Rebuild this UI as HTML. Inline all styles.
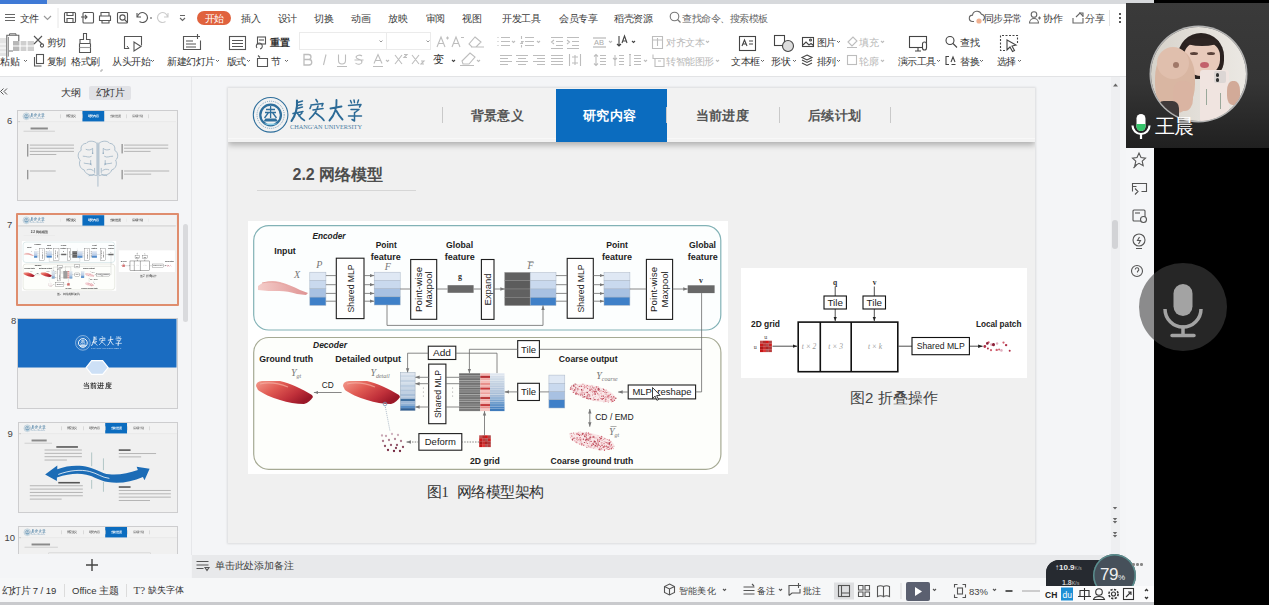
<!DOCTYPE html>
<html><head><meta charset="utf-8">
<style>
*{margin:0;padding:0;box-sizing:border-box}
html,body{width:1269px;height:605px;overflow:hidden;background:#f2f3f5;font-family:"Liberation Sans",sans-serif;color:#333}
.a{position:absolute}
.t{position:absolute;white-space:nowrap;line-height:1}
i{font-style:normal;display:inline-block;width:1em;text-align:center}
svg{position:absolute;overflow:visible}
.tofu i{-webkit-text-fill-color:transparent;background:linear-gradient(currentColor,currentColor) 50% 10%/76% .085em no-repeat,linear-gradient(currentColor,currentColor) 50% 52%/76% .085em no-repeat,linear-gradient(currentColor,currentColor) 50% 92%/76% .085em no-repeat,linear-gradient(currentColor,currentColor) 13% 55%/.085em 80% no-repeat,linear-gradient(currentColor,currentColor) 50% 55%/.085em 80% no-repeat,linear-gradient(currentColor,currentColor) 87% 55%/.085em 80% no-repeat;opacity:.78}
.tofu .bd i{background-size:76% .13em,76% .13em,76% .13em,.13em 80%,.13em 80%,.13em 80%;opacity:.95}

.m{font-size:9.5px;color:#3c3c3c;top:14px}
.r{font-size:9.5px;color:#333;top:57px}
.g{color:#b8b8b8}
.ic{fill:none;stroke:#555;stroke-width:1.1}
</style></head><body>
<script>(function(){var s=document.createElement('span');s.style.cssText='position:absolute;visibility:hidden;white-space:nowrap;font:100px "Liberation Sans",sans-serif';s.textContent='\u56fd\u56fd';document.body.appendChild(s);var w=s.getBoundingClientRect().width;s.parentNode.removeChild(s);if(w<180)document.documentElement.className+=' tofu';})();</script>
<!-- ===== top strip ===== -->
<div class="a" style="left:0;top:0;width:1155px;height:4px;background:#d7d9dc"></div>
<div class="a" style="left:0;top:0;width:47px;height:4px;background:#3f7ad6"></div>
<!-- ===== menu + ribbon bg ===== -->
<div class="a" style="left:0;top:4px;width:1126px;height:72px;background:#fff"></div>
<div class="a" style="left:0;top:76px;width:1126px;height:1px;background:#e2e3e5"></div>

<!-- MENU ROW -->
<svg style="left:0;top:0" width="200" height="30">
 <g stroke="#666" stroke-width="1.2" fill="none">
  <path d="M5 14.5h10M5 17.5h10M5 20.5h10"/>
  <path d="M44 16l3.5 3.5 3.5-3.5" stroke="#999"/>
 </g>
 <path d="M58 8v20" stroke="#e6e6e6"/>
 <g stroke="#555" stroke-width="1.1" fill="none">
  <rect x="64.5" y="12.5" width="11" height="10" rx="1"/><path d="M67 12.5v3h6v-3M67 22.5v-4h6v4"/>
  <rect x="83" y="12.5" width="10.5" height="10.5" rx="1"/><path d="M81 17h6M85 15l2 2-2 2"/>
  <path d="M101 16v-3.5h8V16M99.5 16h11v4.5h-11zM102 20.5v2.5h7v-2.5"/>
  <rect x="117.5" y="12.5" width="10" height="10.5" rx="1"/><circle cx="122.5" cy="17.5" r="2.6"/><path d="M124.5 19.5l3 3"/>
  <path d="M137 13v4h4"/><path d="M137.5 17a5 5 0 1 1 2 4.5"/>
  <path d="M150 18h2" stroke-width="1"/>
  <path d="M168 13v4h-4M167.5 17a5 5 0 1 0-2 4.5" stroke="#ccc"/>
  <path d="M180 15.5h5M180 18l2.5 2.5 2.5-2.5" stroke="#666"/>
 </g>
</svg>
<div class="t m" style="left:19.5px"><i>文</i><i>件</i></div>
<div class="a" style="left:197px;top:11px;width:34px;height:14px;border-radius:7px;background:#e0623d"></div>
<div class="t m" style="left:204.5px;color:#fff"><i>开</i><i>始</i></div>
<div class="t m" style="left:241px"><i>插</i><i>入</i></div>
<div class="t m" style="left:277.5px"><i>设</i><i>计</i></div>
<div class="t m" style="left:314px"><i>切</i><i>换</i></div>
<div class="t m" style="left:351px"><i>动</i><i>画</i></div>
<div class="t m" style="left:388px"><i>放</i><i>映</i></div>
<div class="t m" style="left:425.5px"><i>审</i><i>阅</i></div>
<div class="t m" style="left:462px"><i>视</i><i>图</i></div>
<div class="t m" style="left:502px"><i>开</i><i>发</i><i>工</i><i>具</i></div>
<div class="t m" style="left:559px"><i>会</i><i>员</i><i>专</i><i>享</i></div>
<div class="t m" style="left:614px"><i>稻</i><i>壳</i><i>资</i><i>源</i></div>
<svg style="left:668px;top:10px" width="14" height="14"><circle cx="6.5" cy="6.5" r="4.3" fill="none" stroke="#777" stroke-width="1.1"/><path d="M9.5 9.5l3 3" stroke="#777" stroke-width="1.2"/></svg>
<div class="t m" style="left:682px;color:#666"><i>查</i><i>找</i><i>命</i><i>令</i><i>、</i><i>搜</i><i>索</i><i>模</i><i>板</i></div>
<svg style="left:966px;top:9px" width="150" height="18" class="ic">
 <g transform="translate(3 0)"><path d="M5 12.5h-1.5a3.2 3.2 0 0 1 0-6.4 4.6 4.6 0 0 1 8.8-1 3.5 3.5 0 0 1 1.6 6.4" stroke="#666" fill="none" stroke-width="1.1"/>
 <circle cx="10" cy="12" r="2.6" fill="#f0b090" stroke="none"/></g>
 <circle cx="68" cy="5.5" r="2.8" fill="none" stroke="#666" stroke-width="1.1"/><path d="M63.5 14a4.5 4.5 0 0 1 9 0zM72 9h3M73.5 7.5v3" fill="none" stroke="#666" stroke-width="1.1"/>
 <path d="M107 9v5h10V9M110 8l4-4 3 3" fill="none" stroke="#666" stroke-width="1.1"/><path d="M113 4h4v4" fill="none" stroke="#666" stroke-width="1.1"/>
</svg>
<div class="t m" style="left:983.5px"><i>同</i><i>步</i><i>异</i><i>常</i></div>
<div class="t m" style="left:1043px"><i>协</i><i>作</i></div>
<div class="t m" style="left:1085px"><i>分</i><i>享</i></div>
<div class="a" style="left:1109px;top:10px;width:1px;height:16px;background:#e4e4e4"></div>
<div class="a" style="left:1119px;top:13px;width:2px;height:2px;background:#555;box-shadow:0 4px 0 #555,0 8px 0 #555"></div>

<!--RIBBON-->
<svg style="left:0;top:0" width="1126" height="80">
 <!-- paste (glitchy) -->
 <g>
  <rect x="0" y="38" width="6" height="18" fill="#e4e4e4"/>
  <rect x="13" y="41" width="21" height="10" fill="#cfcfcf"/>
  <rect x="13" y="41" width="7" height="10" fill="#b8b8b8"/>
  <path d="M13 46h21M20 41v10M27 41v10M24 51v12" stroke="#fff" stroke-width="1.2"/>
  <path d="M0 44h6M0 48h6M0 52h6" stroke="#fff" stroke-width="1"/>
  <path d="M6.8 57V35.3h12v5.7" fill="none" stroke="#666" stroke-width="1.1"/>
  <path d="M9.5 35.3v-1.5h6.5v1.5" fill="none" stroke="#666" stroke-width="1"/>
  <path d="M8.5 37v19.5" stroke="#999" stroke-width="1"/>
  <path d="M13 51h-4" stroke="#777" stroke-width="1"/>
 </g>
 <g class="ic" stroke="#555">
  <!-- cut -->
  <path d="M34 36l8 8M42 36l-8 8"/><circle cx="42" cy="45.5" r="1.6"/>
  <!-- copy -->
  <rect x="36.5" y="54.5" width="7" height="9"/><path d="M34.5 57v9h7"/>
  <!-- format painter -->
  <path d="M83.5 33.5h3v6h3.5v4h-10v-4h3.5z"/><path d="M79.5 43.5v9h11v-9"/><path d="M79.5 47.5h11" stroke="#999"/>
  <path d="M100 71h2v-2" stroke="#aaa" stroke-width="1"/>
  <!-- slideshow -->
  <path d="M129 48.5h-4.5v-12h17v9"/><path d="M134 42v9l7-4.5z"/><path d="M127 46l2 2.5" stroke-width="1"/>
  <!-- new slide -->
  <path d="M197 36.5h-13.5v13h17v-9"/><path d="M186 41h7M186 44h10M186 47h10"/><path d="M197.5 34v5M195 36.5h5"/>
  <!-- layout -->
  <rect x="229.5" y="36.5" width="16" height="13"/><path d="M232 40.5h11M232 43.5h11M232 46.5h11"/>
  <!-- reset -->
  <rect x="257.5" y="37" width="8" height="7"/><path d="M259 40h5"/><path d="M257 48a3 3 0 1 1 3 1" />
  <!-- section -->
  <path d="M258 55.5l2 2M257.5 58.5h10v8h-10z"/>
 </g>
 <!-- font boxes -->
 <rect x="299.5" y="32.5" width="131" height="17" fill="#fff" stroke="#ebebeb"/>
 <path d="M386.5 33v16" stroke="#ebebeb"/>
 <path d="M379.5 40.5l1.5 1.5 1.5-1.5M426.5 40.5l1.5 1.5 1.5-1.5" stroke="#999" fill="none"/>
 <g fill="none" stroke="#bdbdbd" stroke-width="1.1">
  <path d="M437 47l4-10 4 10M438.5 43.5h5M446 38h3M447.5 36.5v3"/>
  <path d="M452 47l4-10 4 10M453.5 43.5h5M461 37.5h3"/>
  <path d="M475 37l6 5-5 5h-4l-3-3z M471 47h13"/>
  <!-- B I U S A X X -->
  <path d="M304 54.5h4.5a2.5 2.5 0 0 1 0 5H304zM304 59.5h5a2.7 2.7 0 0 1 0 5.5H304z" stroke-width="1.3"/>
  <path d="M326 54.5l-2.5 10.5"/>
  <path d="M338.5 54.5v6a3.5 3.5 0 0 0 7 0v-6M337 66.5h10"/>
  <path d="M362 56a3.5 2.5 0 0 0-6 1c0 3 6 1.5 6 5a3.5 2.5 0 0 1-6.5 1M354.5 60h9"/>
  <path d="M374 63.5l4-9 4 9M375.5 60.5h5M373 66.5h10"/><path d="M386 60l1.5 1.5 1.5-1.5"/>
  <path d="M395 55l7 9M402 55l-7 9M404 54.5h3l-3 3h3"/>
  <path d="M412 55l7 9M419 55l-7 9M421 61h3l-3 3h3"/>
  <path d="M470 53l5 4-6 7h-6l-1-3zM460 65.5h14"/><path d="M477 60l1.5 1.5 1.5-1.5"/>
  <!-- lists -->
  <path d="M497.5 37.5h1M497.5 41.5h1M497.5 45.5h1M501 37.5h9M501 41.5h9M501 45.5h9"/><path d="M512 41l1.5 1.5 1.5-1.5"/>
  <path d="M521.5 36v3M521 41.5h2l-2 2h2M521.5 45v2.5M525 37.5h9M525 41.5h9M525 45.5h9"/><path d="M537 41l1.5 1.5 1.5-1.5"/>
  <path d="M551 37.5h12M556 41.5h7M556 45.5h7M551 48.5h12M554 40l-2.5 2 2.5 2"/>
  <path d="M567 37.5h12M572 41.5h7M572 45.5h7M567 48.5h12M567 40l2.5 2-2.5 2"/>
  <!-- align row -->
  <path d="M500 55.5h12M500 58.5h8M500 61.5h12M500 64.5h8"/>
  <path d="M516 55.5h12M518 58.5h8M516 61.5h12M518 64.5h8"/>
  <path d="M533 55.5h12M537 58.5h8M533 61.5h12M537 64.5h8"/>
  <path d="M551 55.5h12M551 58.5h12M551 61.5h12M551 64.5h12"/>
  <path d="M569.5 54v12M580.5 54v12M572 57h6M572 63h6M575 55v10"/>
  <!-- AB -->
  <path d="M593 38h13M593 47h13" stroke="#aaa"/>
  <path d="M609 41l1.5 1.5 1.5-1.5"/>
  <!-- line spacing -->
  <path d="M596 54.5v11M594 56.5l2-2 2 2M594 63.5l2 2 2-2M600 55.5h6M600 58.5h6M600 61.5h6M600 64.5h6"/>
  <path d="M615 55v11M613 58l2 2 2-2M619 55.5h5M619 58.5h5M619 61.5h5M619 64.5h5"/>
  <path d="M630 54.5v11M629 54.5h2M629 65.5h2M634 55.5h7M634 58.5h7M634 61.5h7M634 64.5h7M644 60l1.5 1.5 1.5-1.5"/>
  <!-- align text & smartart -->
  <path d="M652.5 36.5h10v12h-10zM652.5 40h10M657.5 38v8" />
  <path d="M653 54.5v4h4M655 58.5h9v8h-9zM658 61h3"/>
  <path d="M706 41l1.5 1.5 1.5-1.5M716 60l1.5 1.5 1.5-1.5"/>
  <!-- fill / outline -->
  <path d="M848 42l5-5 4 4-5 5zM847 47.5h10"/><path d="M881 41l1.5 1.5 1.5-1.5"/>
  <rect x="847.5" y="55.5" width="9" height="9"/><path d="M881 60l1.5 1.5 1.5-1.5"/>
 </g>
 <text x="594" y="45" font-size="7.5" fill="#aaa" font-family="Liberation Sans">AB</text>
 <g fill="none" stroke="#444" stroke-width="1.1">
  <path d="M619 36v10M617 44l2 2 2-2"/><path d="M622 43l2.5-7 2.5 7M623 41h3"/><path d="M632 41l1.5 1.5 1.5-1.5"/>
  <path d="M452 60l1.5 1.5 1.5-1.5"/>
  <!-- textbox -->
  <rect x="739.5" y="36.5" width="16" height="14"/><path d="M742 46l2.5-6 2.5 6M743 44h3M749 41h4M749 44h4"/>
  <!-- shape -->
  <rect x="774.5" y="35.5" width="10" height="10"/><circle cx="788" cy="46" r="5.5" fill="#ddd"/>
  <!-- picture -->
  <rect x="802.5" y="37.5" width="11" height="9"/><path d="M803 45l3-3 3 3 2-1.5 2.5 2"/><circle cx="810.5" cy="40" r="1"/>
  <!-- arrange -->
  <path d="M807 55l5 2.5-5 2.5-5-2.5zM802 60l5 2.5 5-2.5M802 63l5 2.5 5-2.5"/>
  <!-- presentation tools -->
  <rect x="909.5" y="36.5" width="17" height="11"/><path d="M915 51h6M918 47.5v3.5"/><rect x="922.5" y="42" width="4" height="8" rx="2" fill="#fff"/>
  <!-- find -->
  <circle cx="950" cy="40.5" r="4"/><path d="M953 43.5l4 4"/>
  <!-- replace -->
  <path d="M949 56.5h-3v8h3M951 62l2-5 2 5M951.5 64.5h4"/>
  <!-- select -->
  <path d="M1005 50.5h-4.5v-15h17v8" stroke-dasharray="2 1.5"/><path d="M1007 40l9 5-4 1 2.5 4.5-2 1-2.5-4.5-3 3z" fill="#fff"/>
 </g>
 <!-- dropdown carets -->
 <g fill="none" stroke="#666" stroke-width="1">
  <path d="M24 60l1.5 1.5 1.5-1.5M151 60l1.5 1.5 1.5-1.5M216 60l1.5 1.5 1.5-1.5M247 60l1.5 1.5 1.5-1.5M285 60l1.5 1.5 1.5-1.5"/>
  <path d="M761 60l1.5 1.5 1.5-1.5M793 60l1.5 1.5 1.5-1.5M837 41l1.5 1.5 1.5-1.5M837 60l1.5 1.5 1.5-1.5M937 60l1.5 1.5 1.5-1.5M980 60l1.5 1.5 1.5-1.5M1018 60l1.5 1.5 1.5-1.5"/>
 </g>
</svg>
<div class="t r" style="left:0px"><i>粘</i><i>贴</i></div>
<div class="t r" style="left:46.5px;top:38px"><i>剪</i><i>切</i></div>
<div class="t r" style="left:46.5px"><i>复</i><i>制</i></div>
<div class="t r" style="left:71px"><i>格</i><i>式</i><i>刷</i></div>
<div class="t r" style="left:112px"><i>从</i><i>头</i><i>开</i><i>始</i></div>
<div class="t r" style="left:167px"><i>新</i><i>建</i><i>幻</i><i>灯</i><i>片</i></div>
<div class="t r" style="left:226.5px"><i>版</i><i>式</i></div>
<div class="t r bd" style="left:270px;top:38px;font-weight:bold"><i>重</i><i>置</i></div>
<div class="t r" style="left:271px"><i>节</i></div>
<div class="t r" style="left:433px;font-size:11px;top:54px"><i>变</i></div>
<div class="t r g" style="left:666px;top:38px"><i>对</i><i>齐</i><i>文</i><i>本</i></div>
<div class="t r g" style="left:666px"><i>转</i><i>智</i><i>能</i><i>图</i><i>形</i></div>
<div class="t r" style="left:731px"><i>文</i><i>本</i><i>框</i></div>
<div class="t r" style="left:771px"><i>形</i><i>状</i></div>
<div class="t r" style="left:816.5px;top:38px"><i>图</i><i>片</i></div>
<div class="t r" style="left:816.5px"><i>排</i><i>列</i></div>
<div class="t r g" style="left:859px;top:38px"><i>填</i><i>充</i></div>
<div class="t r g" style="left:859px"><i>轮</i><i>廓</i></div>
<div class="t r" style="left:897.5px"><i>演</i><i>示</i><i>工</i><i>具</i></div>
<div class="t r" style="left:960px;top:38px"><i>查</i><i>找</i></div>
<div class="t r" style="left:960px"><i>替</i><i>换</i></div>
<div class="t r" style="left:996.5px"><i>选</i><i>择</i></div>

<!--WORKSPACE-->
<div class="a" style="left:0;top:77px;width:191px;height:501px;background:#f4f5f7"></div>
<div class="a" style="left:191px;top:77px;width:1px;height:478px;background:#e6e7ea"></div>
<div class="a" style="left:192px;top:77px;width:934px;height:478px;background:#f4f5f7"></div>
<!-- left panel header -->
<svg style="left:0;top:86px" width="10" height="12"><path d="M3.5 2.5l-3 3 3 3M7 2.5l-3 3 3 3" fill="none" stroke="#555" stroke-width="1"/></svg>
<div class="t" style="left:60.5px;top:87.5px;font-size:10px;color:#333"><i>大</i><i>纲</i></div>
<div class="a" style="left:89px;top:85.5px;width:41.5px;height:14.5px;background:#e1e2e6;border-radius:2px"></div>
<div class="t" style="left:95.5px;top:87.5px;font-size:9.6px;color:#333"><i>幻</i><i>灯</i><i>片</i></div>
<div class="a" style="left:18px;top:110.5px;width:158.5px;height:89.5px;overflow:hidden;box-shadow:0 0 0 1px #cdcdcf;background:#f0f0f0"><div class="a" style="left:0;top:0;width:807px;height:455px;transform:scale(0.1964);transform-origin:0 0"><div class="a" style="left:0;top:0;width:807px;height:53px;background:#f2f2f2;box-shadow:0 2px 4px rgba(0,0,0,.25)"></div><div class="a" style="left:327.5px;top:0;width:111px;height:53px;background:#0b6cbf"></div><div class="a" style="left:214px;top:17px;width:3px;height:20px;background:#c9c9c9"></div><div class="a" style="left:326px;top:17px;width:3px;height:20px;background:#c9c9c9"></div><div class="a" style="left:438px;top:17px;width:3px;height:20px;background:#c9c9c9"></div><div class="a" style="left:550.5px;top:17px;width:3px;height:20px;background:#c9c9c9"></div><div class="a" style="left:662px;top:17px;width:3px;height:20px;background:#c9c9c9"></div><div class="t bd" style="left:242.5px;top:20.5px;font-size:13.3px;font-weight:bold;color:#777"><i>背</i><i>景</i><i>意</i><i>义</i></div><div class="t bd" style="left:355px;top:20.5px;font-size:13.3px;font-weight:bold;color:#fff"><i>研</i><i>究</i><i>内</i><i>容</i></div><div class="t bd" style="left:467.5px;top:20.5px;font-size:13.3px;font-weight:bold;color:#777"><i>当</i><i>前</i><i>进</i><i>度</i></div><div class="t bd" style="left:580px;top:20.5px;font-size:13.3px;font-weight:bold;color:#777"><i>后</i><i>续</i><i>计</i><i>划</i></div><svg style="left:-228px;top:-88px" width="1269" height="605">  <g fill="none" stroke="#2f6f9c">
   <circle cx="270.6" cy="114.8" r="17.3" stroke-width="1.1"/>
   <circle cx="270.6" cy="114.8" r="13.6" stroke-width=".6" stroke-dasharray="1 1"/>
   <circle cx="270.6" cy="115" r="10.3" stroke-width="2.3"/>
  </g>
  <path d="M263.5 121.5h14.5l-2-3h-10.5z" fill="#2f6f9c"/>
  <path d="M270.6 106v12M266 109.5h9M265 112.5h11M264.5 118l4-5.5M276.5 118l-4-5.5" stroke="#2f6f9c" stroke-width="1.3" fill="none"/>
  <path d="M264 123.5a7.5 3 0 0 0 13.5 0" fill="#8fd0e8" stroke="none"/>
  <!-- calligraphy approximations -->
  <g fill="none" stroke="#2c6a96" stroke-linecap="round" stroke-linejoin="round">
   <path d="M297 100.5c.5 6-.5 13-5.5 20.5" stroke-width="2.1"/>
   <path d="M297.5 102.5l5-1.5M297.5 105.5l4.5-1M297 108.5l5.5-1.5M293 113.5l10-2M297.5 113.5c2 3 4 5.5 7 7M302 113l-3 3" stroke-width="1.5"/>
   <path d="M316 99.5l1.5 2.5M311 106l-1 2.5M311 105l12-1.5-1 2.5M318 106c-1 5-4 9-8.5 13M313 110l10-1.5M315.5 113c3 2 6 4 8.5 7.5" stroke-width="1.6"/>
   <path d="M330.5 108.5l11-2M336.5 100c.5 8-2 15-7 20.5M336.5 111c2 4 4 6.5 6 8.5" stroke-width="1.9"/>
   <path d="M350.5 100.5l1 2.5M354 100l.5 2.5M358.5 100l-1 3M348.5 105.5l12.5-1-1.5 2.5M351 109.5h8l-4 3M354.5 112.5v8.5l-2.5-1.5M348.5 116h13" stroke-width="1.5"/>
  </g>
  <text x="290" y="129.3" font-family="Liberation Serif" font-size="5.6" fill="#4b7ea3" textLength="72" lengthAdjust="spacingAndGlyphs">CHANG'AN UNIVERSITY</text></svg><div class="a" style="left:64px;top:84px;width:88.0px;height:10px;background:#8a8a8a"></div><div class="a" style="left:28px;top:101px;width:160px;height:3px;background:#bbb"></div><div class="a" style="left:48px;top:168px;width:3.5px;height:64px;background:#555"></div><div class="a" style="left:60px;top:171px;width:225px;height:5px;background:#b4b4b4"></div><div class="a" style="left:60px;top:187px;width:225px;height:5px;background:#b4b4b4"></div><div class="a" style="left:60px;top:203px;width:225px;height:5px;background:#b4b4b4"></div><div class="a" style="left:60px;top:219px;width:135.0px;height:5px;background:#b4b4b4"></div><div class="a" style="left:48px;top:300px;width:3.5px;height:48px;background:#555"></div><div class="a" style="left:60px;top:303px;width:132.0px;height:5px;background:#b4b4b4"></div><div class="a" style="left:528px;top:168px;width:3.5px;height:48px;background:#555"></div><div class="a" style="left:540px;top:171px;width:225px;height:5px;background:#b4b4b4"></div><div class="a" style="left:540px;top:187px;width:225px;height:5px;background:#b4b4b4"></div><div class="a" style="left:540px;top:203px;width:135.0px;height:5px;background:#b4b4b4"></div><div class="a" style="left:528px;top:300px;width:3.5px;height:48px;background:#555"></div><div class="a" style="left:540px;top:303px;width:230px;height:5px;background:#b4b4b4"></div><div class="a" style="left:540px;top:319px;width:138.0px;height:5px;background:#b4b4b4"></div><svg style="left:0;top:0" width="807" height="455"><g fill="none" stroke="#8fa8bc" stroke-width="3.5"><path d="M402 165c-15-15-45-15-55 0-20 0-30 20-25 35-20 10-20 40-5 50-10 20 0 45 20 50 5 20 30 30 50 25 10 5 15 5 15 0z"/><path d="M412 165c15-15 45-15 55 0 20 0 30 20 25 35 20 10 20 40 5 50 10 20 0 45-20 50-5 20-30 30-50 25-10 5-15 5-15 0z"/><path d="M407 160v225M345 195c15 5 25 5 35-5M330 230c20 0 30 10 45 0M335 265c15 5 30 0 40 10M350 300c10-5 25-5 35 5M360 330c10-5 20 0 30-10"/><path d="M469 195c-15 5-25 5-35-5M484 230c-20 0-30 10-45 0M479 265c-15 5-30 0-40 10M464 300c-10-5-25-5-35 5M454 330c-10-5-20 0-30-10"/><path d="M380 190v25M370 250v20M434 190v25M444 250v20M390 290v25M424 290v25"/></g><g fill="#8fa8bc"><circle cx="380" cy="215" r="4"/><circle cx="434" cy="215" r="4"/><circle cx="370" cy="270" r="4"/><circle cx="444" cy="270" r="4"/></g></svg></div></div>
<div class="a" style="left:18px;top:214.5px;width:158.5px;height:89.5px;overflow:hidden;background:#f0f0f0"><div class="a" style="left:0;top:0;width:807px;height:455px;transform:scale(.1964);transform-origin:0 0">
 <!-- header -->
 <div class="a" style="left:0;top:0;width:807px;height:53.5px;background:#f2f2f2;box-shadow:0 2.5px 6px rgba(0,0,0,.28)"></div>
 <div class="a" style="left:0;top:49.5px;width:807px;height:1px;background:#f8f8f8"></div>
 <div class="a" style="left:327.5px;top:0.5px;width:111px;height:53px;background:#0b6cbf"></div>
 <div class="a" style="left:214px;top:19px;width:1px;height:16px;background:#c9c9c9"></div>
 <div class="a" style="left:438px;top:19px;width:1px;height:16px;background:#c9c9c9"></div>
 <div class="a" style="left:550.5px;top:19px;width:1px;height:16px;background:#c9c9c9"></div>
 <div class="a" style="left:662px;top:19px;width:1px;height:16px;background:#c9c9c9"></div>
 <div class="t bd" style="left:242.5px;top:20.5px;font-size:13.3px;font-weight:bold;color:#555"><i>背</i><i>景</i><i>意</i><i>义</i></div>
 <div class="t bd" style="left:355px;top:20.5px;font-size:13.3px;font-weight:bold;color:#fff"><i>研</i><i>究</i><i>内</i><i>容</i></div>
 <div class="t bd" style="left:467.5px;top:20.5px;font-size:13.3px;font-weight:bold;color:#555"><i>当</i><i>前</i><i>进</i><i>度</i></div>
 <div class="t bd" style="left:580px;top:20.5px;font-size:13.3px;font-weight:bold;color:#555"><i>后</i><i>续</i><i>计</i><i>划</i></div>
 <!-- logo -->
 <svg style="left:-228px;top:-88px" width="1269" height="605">
    <g fill="none" stroke="#2f6f9c">
   <circle cx="270.6" cy="114.8" r="17.3" stroke-width="1.1"/>
   <circle cx="270.6" cy="114.8" r="13.6" stroke-width=".6" stroke-dasharray="1 1"/>
   <circle cx="270.6" cy="115" r="10.3" stroke-width="2.3"/>
  </g>
  <path d="M263.5 121.5h14.5l-2-3h-10.5z" fill="#2f6f9c"/>
  <path d="M270.6 106v12M266 109.5h9M265 112.5h11M264.5 118l4-5.5M276.5 118l-4-5.5" stroke="#2f6f9c" stroke-width="1.3" fill="none"/>
  <path d="M264 123.5a7.5 3 0 0 0 13.5 0" fill="#8fd0e8" stroke="none"/>
  <!-- calligraphy approximations -->
  <g fill="none" stroke="#2c6a96" stroke-linecap="round" stroke-linejoin="round">
   <path d="M297 100.5c.5 6-.5 13-5.5 20.5" stroke-width="2.1"/>
   <path d="M297.5 102.5l5-1.5M297.5 105.5l4.5-1M297 108.5l5.5-1.5M293 113.5l10-2M297.5 113.5c2 3 4 5.5 7 7M302 113l-3 3" stroke-width="1.5"/>
   <path d="M316 99.5l1.5 2.5M311 106l-1 2.5M311 105l12-1.5-1 2.5M318 106c-1 5-4 9-8.5 13M313 110l10-1.5M315.5 113c3 2 6 4 8.5 7.5" stroke-width="1.6"/>
   <path d="M330.5 108.5l11-2M336.5 100c.5 8-2 15-7 20.5M336.5 111c2 4 4 6.5 6 8.5" stroke-width="1.9"/>
   <path d="M350.5 100.5l1 2.5M354 100l.5 2.5M358.5 100l-1 3M348.5 105.5l12.5-1-1.5 2.5M351 109.5h8l-4 3M354.5 112.5v8.5l-2.5-1.5M348.5 116h13" stroke-width="1.5"/>
  </g>
  <text x="290" y="129.3" font-family="Liberation Serif" font-size="5.6" fill="#4b7ea3" textLength="72" lengthAdjust="spacingAndGlyphs">CHANG'AN UNIVERSITY</text>
 </svg>
 <!-- title -->
 <div class="t bd" style="left:64.5px;top:79px;font-size:16px;font-weight:bold;color:#4d4d4d">2.2 <i>网</i><i>络</i><i>模</i><i>型</i></div>
 <div class="a" style="left:28.5px;top:101.5px;width:159px;height:1px;background:#d6d6d6"></div>
 <!-- figure boxes -->
 <div class="a" style="left:20px;top:133px;width:480px;height:253px;background:#fff"></div>
 <div class="a" style="left:513px;top:180px;width:286px;height:110px;background:#fff"></div>
 <div class="t" style="left:199px;top:396.5px;font-size:14.5px;color:#333"><i>图</i><span style="font-family:'Liberation Serif',serif">1</span>&nbsp; <i>网</i><i>络</i><i>模</i><i>型</i><i>架</i><i>构</i></div>
 <div class="t" style="left:622px;top:301.5px;font-size:15px;color:#444"><i>图</i>2 <i>折</i><i>叠</i><i>操</i><i>作</i></div>
 <svg style="left:-228px;top:-88px" width="1269" height="605" font-family="Liberation Sans">
  <defs>
   <marker id="ah2" markerWidth="5" markerHeight="5" refX="4.5" refY="2.5" orient="auto" markerUnits="userSpaceOnUse"><path d="M0 .8L4.5 2.5L0 4.2z" fill="#777"/></marker>
   <marker id="ahk2" markerWidth="5" markerHeight="5" refX="4.5" refY="2.5" orient="auto" markerUnits="userSpaceOnUse"><path d="M0 .5L5 2.5L0 4.5z" fill="#222"/></marker>
   <linearGradient id="meat2" x1="0" y1="0" x2="1" y2=".6"><stop offset="0" stop-color="#f39a8c"/><stop offset=".4" stop-color="#e05a52"/><stop offset=".75" stop-color="#c0303a"/><stop offset="1" stop-color="#9a1828"/></linearGradient>
   <linearGradient id="plane2" x1="0" y1="0" x2="1" y2="0"><stop offset="0" stop-color="#f3c4c0"/><stop offset="1" stop-color="#d98080"/></linearGradient>
  </defs>
  <!-- encoder / decoder frames -->
  <rect x="253.7" y="225.6" width="467.1" height="104.4" rx="15" fill="#fcfefe" stroke="#82b2b6" stroke-width="1.2"/>
  <rect x="253.7" y="337.5" width="467.2" height="131.8" rx="15" fill="#fdfefb" stroke="#a6aa94" stroke-width="1.2"/>
  <g font-weight="bold" font-size="8.6" fill="#222" text-anchor="middle">
   <text x="329" y="238.6" font-style="italic" textLength="33" lengthAdjust="spacingAndGlyphs">Encoder</text>
   <text x="285" y="253.6" textLength="21.5" lengthAdjust="spacingAndGlyphs">Input</text>
   <text x="386.2" y="247.8" textLength="21" lengthAdjust="spacingAndGlyphs">Point</text>
   <text x="385.8" y="259.5" textLength="30" lengthAdjust="spacingAndGlyphs">feature</text>
   <text x="459.6" y="247.8" textLength="27" lengthAdjust="spacingAndGlyphs">Global</text>
   <text x="459.8" y="259.5" textLength="30" lengthAdjust="spacingAndGlyphs">feature</text>
   <text x="617" y="248" textLength="21.5" lengthAdjust="spacingAndGlyphs">Point</text>
   <text x="617" y="260" textLength="30" lengthAdjust="spacingAndGlyphs">feature</text>
   <text x="702.5" y="248" textLength="27" lengthAdjust="spacingAndGlyphs">Global</text>
   <text x="702.7" y="260" textLength="30" lengthAdjust="spacingAndGlyphs">feature</text>
   <text x="330" y="347.6" font-style="italic" textLength="34" lengthAdjust="spacingAndGlyphs">Decoder</text>
   <text x="286.2" y="362.4" textLength="53.8" lengthAdjust="spacingAndGlyphs">Ground truth</text>
   <text x="368.2" y="362.4" textLength="65.7" lengthAdjust="spacingAndGlyphs">Detailed output</text>
   <text x="588.2" y="362.2" textLength="58.7" lengthAdjust="spacingAndGlyphs">Coarse output</text>
   <text x="484.9" y="464.1" textLength="29.8" lengthAdjust="spacingAndGlyphs">2D grid</text>
   <text x="591.9" y="464.1" textLength="82.6" lengthAdjust="spacingAndGlyphs">Coarse ground truth</text>
  </g>
  <!-- math labels -->
  <g font-family="Liberation Serif" font-style="italic" fill="#777" text-anchor="middle">
   <text x="297" y="277.5" font-size="10">X</text>
   <text x="319.2" y="268" font-size="10">P</text>
   <text x="387.8" y="269.5" font-size="10">F</text>
   <text x="530.6" y="269" font-size="10">F</text>
   <text x="296" y="376" font-size="10">Y<tspan font-size="6" dy="2">gt</tspan></text>
   <text x="380" y="376" font-size="10">Y<tspan font-size="6" dy="2">detail</tspan></text>
   <text x="607" y="379" font-size="10">Y<tspan font-size="6" dy="2">coarse</tspan></text>
   <text x="614" y="435" font-size="10">Y<tspan font-size="6" dy="2">gt</tspan></text>
  </g>
  <path d="M527.5 261.5h6M610.5 426.5h6" stroke="#777" stroke-width=".6"/>
  <g font-family="Liberation Serif" font-weight="bold" fill="#333" text-anchor="middle" font-size="8">
   <text x="460" y="279">g</text><text x="701" y="283">v</text>
  </g>
  <!-- input plane point cloud -->
  <path d="M258 286c6-5 14-6 22-4 8 2 14 5 20 8l8 3-2 2-9-1c-6-2-12-3-18-3-7 0-14 0-21-1z" fill="url(#plane2)" opacity=".85"/>
  <path d="M262 283c8-2 18-1 26 3" stroke="#e8a8a4" stroke-width="1" fill="none"/>
  <!-- stacks (encoder) -->
  <g stroke="#a9b6c6" stroke-width=".5">
   <rect x="309.8" y="272.2" width="16.1" height="8.3" fill="#dfe8f4"/><rect x="309.8" y="280.5" width="16.1" height="8.3" fill="#c9d9ee"/><rect x="309.8" y="288.8" width="16.1" height="8.3" fill="#a8c1e2"/><rect x="309.8" y="297.1" width="16.1" height="8.3" fill="#3f80c8"/>
   <rect x="374.2" y="272.2" width="26" height="8.2" fill="#dfe8f4"/><rect x="374.2" y="280.4" width="26" height="8.2" fill="#c9d9ee"/><rect x="374.2" y="288.6" width="26" height="8.2" fill="#a8c1e2"/><rect x="374.2" y="296.8" width="26" height="8.2" fill="#3f80c8"/>
   <rect x="504.8" y="272.5" width="25.4" height="8.25" fill="#616161" stroke="#8a8a8a"/><rect x="504.8" y="280.75" width="25.4" height="8.25" fill="#5c5c5c" stroke="#8a8a8a"/><rect x="504.8" y="289" width="25.4" height="8.25" fill="#616161" stroke="#8a8a8a"/><rect x="504.8" y="297.25" width="25.4" height="8.25" fill="#5c5c5c" stroke="#8a8a8a"/>
   <rect x="530.2" y="272.5" width="25.8" height="8.25" fill="#dfe8f4"/><rect x="530.2" y="280.75" width="25.8" height="8.25" fill="#c9d9ee"/><rect x="530.2" y="289" width="25.8" height="8.25" fill="#a8c1e2"/><rect x="530.2" y="297.25" width="25.8" height="8.25" fill="#3f80c8"/>
   <rect x="604" y="272.5" width="25.9" height="8.2" fill="#dfe8f4"/><rect x="604" y="280.7" width="25.9" height="8.2" fill="#c9d9ee"/><rect x="604" y="288.9" width="25.9" height="8.2" fill="#a8c1e2"/><rect x="604" y="297.1" width="25.9" height="8.2" fill="#3f80c8"/>
   <rect x="548.9" y="375.1" width="15.9" height="8.2" fill="#dfe8f4"/><rect x="548.9" y="383.3" width="15.9" height="8.2" fill="#c9d9ee"/><rect x="548.9" y="391.5" width="15.9" height="8.2" fill="#a8c1e2"/><rect x="548.9" y="399.7" width="15.9" height="8.3" fill="#3f80c8"/>
  </g>
  <!-- bars -->
  <rect x="447.6" y="285.2" width="26" height="7.6" fill="#686868"/>
  <rect x="687.7" y="285.3" width="26.9" height="7.8" fill="#686868"/>
  <!-- boxes -->
  <g fill="#fff" stroke="#1e1e1e" stroke-width="1.1">
   <rect x="336.3" y="258.2" width="27.7" height="60.4"/>
   <rect x="410.7" y="259.5" width="26" height="59.8"/>
   <rect x="481.4" y="259.5" width="12.6" height="59.9"/>
   <rect x="567.2" y="258.4" width="26.1" height="59.9"/>
   <rect x="646.4" y="259.4" width="26.2" height="60"/>
   <rect x="428.3" y="346.2" width="27.5" height="13.3"/>
   <rect x="517.7" y="340.6" width="21.7" height="16.9"/>
   <rect x="428.7" y="364.1" width="17.2" height="59.6"/>
   <rect x="517.7" y="383.3" width="21.7" height="17.2"/>
   <rect x="418.9" y="433.6" width="42.9" height="16.6"/>
   <rect x="628.2" y="385" width="67.4" height="13.9"/>
  </g>
  <g font-size="9.2" fill="#222" text-anchor="middle">
   <text transform="translate(353.5 288.4) rotate(-90)" textLength="48" lengthAdjust="spacingAndGlyphs">Shared MLP</text>
   <text transform="translate(421.5 289.4) rotate(-90)" textLength="45" lengthAdjust="spacingAndGlyphs">Point-wise</text>
   <text transform="translate(432 289.4) rotate(-90)" textLength="36" lengthAdjust="spacingAndGlyphs">Maxpool</text>
   <text transform="translate(491 289.4) rotate(-90)" textLength="32" lengthAdjust="spacingAndGlyphs">Expand</text>
   <text transform="translate(583.5 288.4) rotate(-90)" textLength="48" lengthAdjust="spacingAndGlyphs">Shared MLP</text>
   <text transform="translate(657.2 289.4) rotate(-90)" textLength="45" lengthAdjust="spacingAndGlyphs">Point-wise</text>
   <text transform="translate(667.8 289.4) rotate(-90)" textLength="36" lengthAdjust="spacingAndGlyphs">Maxpool</text>
   <text transform="translate(440.7 393.9) rotate(-90)" textLength="48" lengthAdjust="spacingAndGlyphs">Shared MLP</text>
   <text x="442" y="356.3" textLength="18" lengthAdjust="spacingAndGlyphs">Add</text>
   <text x="528.6" y="352.5" textLength="15" lengthAdjust="spacingAndGlyphs">Tile</text>
   <text x="528.6" y="395.3" textLength="15" lengthAdjust="spacingAndGlyphs">Tile</text>
   <text x="440.3" y="445.4" textLength="31" lengthAdjust="spacingAndGlyphs">Deform</text>
   <text x="661.9" y="395.4" textLength="59" lengthAdjust="spacingAndGlyphs">MLP+reshape</text>
   <text x="614.4" y="420.4" textLength="38.5" lengthAdjust="spacingAndGlyphs">CD / EMD</text>
   <text x="327.8" y="387.7" textLength="12" lengthAdjust="spacingAndGlyphs">CD</text>
  </g>
  <!-- connector lines -->
  <g fill="none" stroke="#6a6a6a" stroke-width=".8">
   <path d="M325.9 275.6h10.4M325.9 284.7h10.4M325.9 293.4h10.4M325.9 301.2h10.4"/>
   <path d="M364 275.6h10.2" marker-end="url(#ah2)"/><path d="M364 284.7h10.2" marker-end="url(#ah2)"/><path d="M364 293.4h10.2" marker-end="url(#ah2)"/><path d="M364 301.2h10.2" marker-end="url(#ah2)"/>
   <path d="M400.2 289h10.5M436.7 289h10.9M473.6 289h7.8"/>
   <path d="M494 289h10.8" marker-end="url(#ah2)"/>
   <path d="M387 305v20.4h156v-19.9" marker-end="url(#ah2)"/>
   <path d="M556 275.6h11.2M556 284.7h11.2M556 293.4h11.2M556 301.2h11.2"/>
   <path d="M593.3 275.6h10.7" marker-end="url(#ah2)"/><path d="M593.3 284.7h10.7" marker-end="url(#ah2)"/><path d="M593.3 293.4h10.7" marker-end="url(#ah2)"/><path d="M593.3 301.2h10.7" marker-end="url(#ah2)"/>
   <path d="M629.9 289h16.5"/>
   <path d="M672.6 289h15.1" marker-end="url(#ah2)"/>
   <path d="M701.6 293.1v98.8h-6"/>
   <path d="M539.4 349.3h162.2"/>
   <path d="M517.7 349.3h-48.3v24" marker-end="url(#ah2)"/>
   <path d="M428.3 353.2h-20.7v19.5" marker-end="url(#ah2)"/>
   <path d="M455.8 353.2h41.2v20"/>
   <path d="M459.1 377.3h-13.2M459.1 383.7h-13.2M459.1 407h-13.2" />
   <path d="M428.7 377.3h-13.6" marker-end="url(#ah2)"/><path d="M428.7 383.7h-13.6" marker-end="url(#ah2)"/><path d="M428.7 407h-13.6" marker-end="url(#ah2)"/>
   <path d="M517.7 391.9h-13.2" marker-end="url(#ah2)"/>
   <path d="M548.9 391.9h-9.5"/>
   <path d="M628.2 392h-10" marker-end="url(#ah2)"/>
   <path d="M484.5 435.3v-24.3" marker-end="url(#ah2)"/>
   <path d="M479.2 442h-17.4" stroke-dasharray="1.5 1.2"/>
   <path d="M418.9 442h-12.5" stroke-dasharray="1.5 1.2" marker-end="url(#ah2)"/>
   <path d="M341.6 392.5h-27.7" marker-end="url(#ah2)"/>
   <path d="M589.8 409v17.7" marker-end="url(#ah2)" marker-start="url(#ahs2)"/>
   <path d="M385 405l5 26" stroke="#99aabb" stroke-dasharray="1 1"/>
  </g>
  <marker id="ahs2" markerWidth="5" markerHeight="5" refX=".5" refY="2.5" orient="auto" markerUnits="userSpaceOnUse"><path d="M5 .8L.5 2.5L5 4.2z" fill="#777"/></marker>
  
  <g fill="#999"><circle cx="423.4" cy="388" r=".6"/><circle cx="423.4" cy="392" r=".6"/><circle cx="423.4" cy="396" r=".6"/><circle cx="452.6" cy="388" r=".6"/><circle cx="452.6" cy="392" r=".6"/><circle cx="452.6" cy="396" r=".6"/></g>
  <!-- meats -->
  <path d="M256 386C256 383 258 381.5 262 381L280 381C290 383 302 389 312 395L313 397C311 400 308 403 304 404C296 404 288 402.5 280 400C272 398 262 393 258 390Z" fill="url(#meat2)"/><path d="M260 384c8-2 18-1 28 3" stroke="#f6b0a4" stroke-width="1.2" fill="none" opacity=".7"/>
  <path d="M343 386C343 383 345 381.5 349 381L367 381C377 383 389 389 399 395L400 397C398 400 395 403 391 404C383 404 375 402.5 367 400C359 398 349 393 345 390Z" fill="url(#meat2)"/><path d="M347 384c8-2 18-1 28 3" stroke="#f6b0a4" stroke-width="1.2" fill="none" opacity=".7"/>
  <circle cx="385" cy="404" r="1.8" fill="none" stroke="#7a9ab8" stroke-width=".8"/>
  <!-- detail stack -->
  <rect x="400.3" y="372.7" width="14.8" height="2.5" fill="#dfe6ef"/>
<rect x="400.3" y="375.1" width="14.8" height="2.5" fill="#cdd9e6"/>
<rect x="400.3" y="377.4" width="14.8" height="2.5" fill="#d8e1ec"/>
<rect x="400.3" y="379.8" width="14.8" height="2.5" fill="#c3d2e2"/>
<rect x="400.3" y="382.2" width="14.8" height="2.5" fill="#d3deea"/>
<rect x="400.3" y="384.5" width="14.8" height="2.5" fill="#bccde0"/>
<rect x="400.3" y="386.9" width="14.8" height="2.5" fill="#c9d6e5"/>
<rect x="400.3" y="389.3" width="14.8" height="2.5" fill="#b3c6dc"/>
<rect x="400.3" y="391.6" width="14.8" height="2.5" fill="#c0d0e2"/>
<rect x="400.3" y="394" width="14.8" height="2.5" fill="#a9bfd8"/>
<rect x="400.3" y="396.4" width="14.8" height="2.5" fill="#b6c8de"/>
<rect x="400.3" y="398.8" width="14.8" height="2.5" fill="#3f6f9f"/>
<rect x="400.3" y="401.1" width="14.8" height="2.5" fill="#9db7d6"/>
<rect x="400.3" y="403.5" width="14.8" height="2.5" fill="#8fb0d4"/>
<rect x="400.3" y="405.9" width="14.8" height="2.5" fill="#5b8fc6"/>
<rect x="400.3" y="408.2" width="14.8" height="2.5" fill="#2f5f94"/>
<rect x="400.3" y="372.7" width="14.8" height="37.9" fill="none" stroke="#9aaabb" stroke-width=".5"/>
<rect x="459.1" y="373.3" width="21.2" height="2.5" fill="#6d6d6d"/>
<rect x="459.1" y="375.7" width="21.2" height="2.5" fill="#7a7a7a"/>
<rect x="459.1" y="378" width="21.2" height="2.5" fill="#6d6d6d"/>
<rect x="459.1" y="380.4" width="21.2" height="2.5" fill="#7a7a7a"/>
<rect x="459.1" y="382.7" width="21.2" height="2.5" fill="#6d6d6d"/>
<rect x="459.1" y="385.1" width="21.2" height="2.5" fill="#7a7a7a"/>
<rect x="459.1" y="387.4" width="21.2" height="2.5" fill="#6d6d6d"/>
<rect x="459.1" y="389.8" width="21.2" height="2.5" fill="#7a7a7a"/>
<rect x="459.1" y="392.1" width="21.2" height="2.5" fill="#6d6d6d"/>
<rect x="459.1" y="394.5" width="21.2" height="2.5" fill="#7a7a7a"/>
<rect x="459.1" y="396.9" width="21.2" height="2.5" fill="#6d6d6d"/>
<rect x="459.1" y="399.2" width="21.2" height="2.5" fill="#7a7a7a"/>
<rect x="459.1" y="401.6" width="21.2" height="2.5" fill="#6d6d6d"/>
<rect x="459.1" y="403.9" width="21.2" height="2.5" fill="#7a7a7a"/>
<rect x="459.1" y="406.3" width="21.2" height="2.5" fill="#6d6d6d"/>
<rect x="459.1" y="408.6" width="21.2" height="2.5" fill="#7a7a7a"/>
<rect x="480.3" y="373.3" width="9.7" height="2.5" fill="#f3b3b0"/>
<rect x="480.3" y="375.7" width="9.7" height="2.5" fill="#b3262a"/>
<rect x="480.3" y="378" width="9.7" height="2.5" fill="#f0a8a4"/>
<rect x="480.3" y="380.4" width="9.7" height="2.5" fill="#f4bcb8"/>
<rect x="480.3" y="382.7" width="9.7" height="2.5" fill="#e68a86"/>
<rect x="480.3" y="385.1" width="9.7" height="2.5" fill="#f2b0ac"/>
<rect x="480.3" y="387.4" width="9.7" height="2.5" fill="#c83a3c"/>
<rect x="480.3" y="389.8" width="9.7" height="2.5" fill="#f4bab6"/>
<rect x="480.3" y="392.1" width="9.7" height="2.5" fill="#eea09c"/>
<rect x="480.3" y="394.5" width="9.7" height="2.5" fill="#f5c0bc"/>
<rect x="480.3" y="396.9" width="9.7" height="2.5" fill="#b52c2e"/>
<rect x="480.3" y="399.2" width="9.7" height="2.5" fill="#f2aeaa"/>
<rect x="480.3" y="401.6" width="9.7" height="2.5" fill="#f4b8b4"/>
<rect x="480.3" y="403.9" width="9.7" height="2.5" fill="#c23234"/>
<rect x="480.3" y="406.3" width="9.7" height="2.5" fill="#e8908c"/>
<rect x="480.3" y="408.6" width="9.7" height="2.5" fill="#f6c6c2"/>
<rect x="490" y="373.3" width="14.5" height="2.5" fill="#dfe6ef"/>
<rect x="490" y="375.7" width="14.5" height="2.5" fill="#d3dde9"/>
<rect x="490" y="378" width="14.5" height="2.5" fill="#cdd9e6"/>
<rect x="490" y="380.4" width="14.5" height="2.5" fill="#c7d4e3"/>
<rect x="490" y="382.7" width="14.5" height="2.5" fill="#c1cfe0"/>
<rect x="490" y="385.1" width="14.5" height="2.5" fill="#bccbde"/>
<rect x="490" y="387.4" width="14.5" height="2.5" fill="#b6c7dc"/>
<rect x="490" y="389.8" width="14.5" height="2.5" fill="#b0c3da"/>
<rect x="490" y="392.1" width="14.5" height="2.5" fill="#a9bfd8"/>
<rect x="490" y="394.5" width="14.5" height="2.5" fill="#a2bad6"/>
<rect x="490" y="396.9" width="14.5" height="2.5" fill="#8fb0d4"/>
<rect x="490" y="399.2" width="14.5" height="2.5" fill="#7ea6d0"/>
<rect x="490" y="401.6" width="14.5" height="2.5" fill="#6b9acb"/>
<rect x="490" y="403.9" width="14.5" height="2.5" fill="#5a8fc7"/>
<rect x="490" y="406.3" width="14.5" height="2.5" fill="#4a84c2"/>
<rect x="490" y="408.6" width="14.5" height="2.5" fill="#3f7bbb"/>
<g stroke="#fff" stroke-width=".35" opacity=".6"><path d="M459.1 375.7h45.4"/><path d="M459.1 378h45.4"/><path d="M459.1 380.4h45.4"/><path d="M459.1 382.7h45.4"/><path d="M459.1 385.1h45.4"/><path d="M459.1 387.4h45.4"/><path d="M459.1 389.8h45.4"/><path d="M459.1 392.1h45.4"/><path d="M459.1 394.5h45.4"/><path d="M459.1 396.9h45.4"/><path d="M459.1 399.2h45.4"/><path d="M459.1 401.6h45.4"/><path d="M459.1 403.9h45.4"/><path d="M459.1 406.3h45.4"/><path d="M459.1 408.6h45.4"/></g>
  <!-- 2D grid -->
  <rect x="479.2" y="435.3" width="2.9" height="3" fill="rgb(190,80,80)"/><rect x="482.1" y="435.3" width="2.9" height="3" fill="rgb(179,45,45)"/><rect x="485" y="435.3" width="2.9" height="3" fill="rgb(211,23,23)"/><rect x="487.9" y="435.3" width="2.9" height="3" fill="rgb(174,72,72)"/><rect x="479.2" y="438.2" width="2.9" height="3" fill="rgb(204,26,26)"/><rect x="482.1" y="438.2" width="2.9" height="3" fill="rgb(193,57,57)"/><rect x="485" y="438.2" width="2.9" height="3" fill="rgb(173,78,78)"/><rect x="487.9" y="438.2" width="2.9" height="3" fill="rgb(202,33,33)"/><rect x="479.2" y="441.2" width="2.9" height="3" fill="rgb(172,25,25)"/><rect x="482.1" y="441.2" width="2.9" height="3" fill="rgb(197,46,46)"/><rect x="485" y="441.2" width="2.9" height="3" fill="rgb(174,35,35)"/><rect x="487.9" y="441.2" width="2.9" height="3" fill="rgb(175,55,55)"/><rect x="479.2" y="444.1" width="2.9" height="3" fill="rgb(197,23,23)"/><rect x="482.1" y="444.1" width="2.9" height="3" fill="rgb(222,56,56)"/><rect x="485" y="444.1" width="2.9" height="3" fill="rgb(177,80,80)"/><rect x="487.9" y="444.1" width="2.9" height="3" fill="rgb(184,60,60)"/>
  <ellipse cx="593" cy="393" rx="23" ry="7.5" transform="rotate(14 593 393)" fill="#f6dde0" opacity=".7"/>
<circle cx="606.2" cy="392.6" r="0.5" fill="#a83242"/><circle cx="592.2" cy="390.9" r="0.4" fill="#a83242"/><circle cx="588.9" cy="396" r="0.4" fill="#a83242"/><circle cx="581" cy="394.6" r="0.6" fill="#c44a5a"/><circle cx="570.8" cy="388" r="0.7" fill="#a83242"/><circle cx="603.4" cy="396.1" r="0.7" fill="#a83242"/><circle cx="596" cy="391.4" r="0.6" fill="#a83242"/><circle cx="587.6" cy="398.1" r="0.7" fill="#c44a5a"/><circle cx="584.4" cy="394.2" r="0.6" fill="#a83242"/><circle cx="591.8" cy="399.1" r="0.4" fill="#e6a0a8"/><circle cx="595.7" cy="399.6" r="0.7" fill="#eab8be"/><circle cx="586.7" cy="396.9" r="0.5" fill="#a83242"/><circle cx="590.2" cy="387.2" r="0.6" fill="#e6a0a8"/><circle cx="573.2" cy="390.5" r="0.4" fill="#d8707c"/><circle cx="594.4" cy="391.7" r="0.5" fill="#c44a5a"/><circle cx="592.3" cy="389.9" r="0.7" fill="#eab8be"/><circle cx="597.7" cy="392.6" r="0.4" fill="#eab8be"/><circle cx="595.6" cy="392.2" r="0.5" fill="#eab8be"/><circle cx="584.7" cy="397.2" r="0.6" fill="#eab8be"/><circle cx="605" cy="401" r="0.7" fill="#eab8be"/><circle cx="607.3" cy="396.9" r="0.6" fill="#a83242"/><circle cx="614" cy="398.1" r="0.5" fill="#eab8be"/><circle cx="579" cy="389.5" r="0.5" fill="#e6a0a8"/><circle cx="593.8" cy="397.6" r="0.5" fill="#eab8be"/><circle cx="577.7" cy="390.4" r="0.7" fill="#eab8be"/><circle cx="605.6" cy="401.1" r="0.5" fill="#c44a5a"/><circle cx="582.8" cy="384.4" r="0.6" fill="#e6a0a8"/><circle cx="584.5" cy="385.7" r="0.5" fill="#d8707c"/><circle cx="599.7" cy="397" r="0.5" fill="#e6a0a8"/><circle cx="594.3" cy="387.4" r="0.5" fill="#e6a0a8"/><circle cx="590.5" cy="387.5" r="0.4" fill="#eab8be"/><circle cx="588.1" cy="399.1" r="0.4" fill="#a83242"/><circle cx="575.7" cy="392" r="0.4" fill="#eab8be"/><circle cx="601.1" cy="395.8" r="0.4" fill="#eab8be"/><circle cx="590.6" cy="392.8" r="0.4" fill="#eab8be"/><circle cx="606.5" cy="398.9" r="0.5" fill="#e6a0a8"/><circle cx="576.7" cy="384.4" r="0.4" fill="#c44a5a"/><circle cx="610.4" cy="394.5" r="0.7" fill="#d8707c"/><circle cx="590" cy="388.4" r="0.4" fill="#c44a5a"/><circle cx="598.3" cy="390" r="0.7" fill="#a83242"/><circle cx="576.4" cy="394.4" r="0.7" fill="#eab8be"/><circle cx="593.9" cy="391.3" r="0.5" fill="#d8707c"/><circle cx="594.9" cy="399.6" r="0.6" fill="#a83242"/><circle cx="574" cy="390.7" r="0.5" fill="#a83242"/><circle cx="570.1" cy="388.9" r="0.5" fill="#e6a0a8"/><circle cx="606.7" cy="394" r="0.4" fill="#c44a5a"/><circle cx="584.3" cy="396.7" r="0.6" fill="#a83242"/><circle cx="605.3" cy="396.7" r="0.4" fill="#c44a5a"/><circle cx="604.7" cy="397.5" r="0.7" fill="#e6a0a8"/><circle cx="586.9" cy="385.5" r="0.4" fill="#eab8be"/><circle cx="605.2" cy="399.4" r="0.5" fill="#eab8be"/><circle cx="596.8" cy="387.9" r="0.4" fill="#c44a5a"/><circle cx="574.8" cy="389.7" r="0.7" fill="#c44a5a"/><circle cx="597.3" cy="389.8" r="0.4" fill="#e6a0a8"/><circle cx="587.5" cy="388.4" r="0.6" fill="#c44a5a"/><circle cx="591.9" cy="389.3" r="0.7" fill="#e6a0a8"/><circle cx="590.8" cy="386.5" r="0.4" fill="#d8707c"/><circle cx="575.9" cy="394" r="0.5" fill="#a83242"/><circle cx="607.1" cy="397.3" r="0.7" fill="#eab8be"/><circle cx="581.6" cy="389.7" r="0.4" fill="#e6a0a8"/><circle cx="597.7" cy="393.4" r="0.5" fill="#c44a5a"/><circle cx="573.4" cy="385.2" r="0.6" fill="#a83242"/><circle cx="576" cy="384.2" r="0.6" fill="#eab8be"/><circle cx="610.2" cy="396.9" r="0.5" fill="#d8707c"/><circle cx="595.6" cy="390.7" r="0.4" fill="#c44a5a"/><circle cx="606.3" cy="390.1" r="0.6" fill="#e6a0a8"/><circle cx="613.9" cy="396.6" r="0.5" fill="#e6a0a8"/><circle cx="577.3" cy="393.5" r="0.6" fill="#e6a0a8"/><circle cx="582.7" cy="384.2" r="0.6" fill="#eab8be"/><circle cx="575.1" cy="384.1" r="0.7" fill="#a83242"/><circle cx="572.9" cy="388.7" r="0.4" fill="#c44a5a"/><circle cx="605.2" cy="393.9" r="0.5" fill="#d8707c"/><circle cx="573.4" cy="392.3" r="0.5" fill="#eab8be"/><circle cx="608.6" cy="394.2" r="0.4" fill="#eab8be"/><circle cx="608.2" cy="398.5" r="0.4" fill="#d8707c"/><circle cx="603.7" cy="398.7" r="0.4" fill="#a83242"/><circle cx="596.4" cy="386.9" r="0.7" fill="#d8707c"/><circle cx="595.1" cy="394.2" r="0.7" fill="#a83242"/><circle cx="577.8" cy="388.9" r="0.7" fill="#a83242"/><circle cx="601.6" cy="396.4" r="0.6" fill="#d8707c"/><circle cx="580.6" cy="394.9" r="0.5" fill="#a83242"/><circle cx="593.5" cy="388.1" r="0.5" fill="#a83242"/><circle cx="612.5" cy="400.1" r="0.4" fill="#e6a0a8"/><circle cx="592.8" cy="392.6" r="0.4" fill="#a83242"/><circle cx="585" cy="392.7" r="0.6" fill="#e6a0a8"/><circle cx="611.6" cy="401.8" r="0.6" fill="#e6a0a8"/><circle cx="576.2" cy="392.8" r="0.7" fill="#e6a0a8"/><circle cx="584.4" cy="387.7" r="0.6" fill="#d8707c"/><circle cx="601.5" cy="398.8" r="0.6" fill="#c44a5a"/><circle cx="597.5" cy="389.1" r="0.5" fill="#d8707c"/><circle cx="612.7" cy="401.4" r="0.7" fill="#a83242"/><circle cx="600.6" cy="398.3" r="0.5" fill="#eab8be"/><circle cx="608.9" cy="397.7" r="0.7" fill="#eab8be"/><circle cx="599.8" cy="391.1" r="0.7" fill="#d8707c"/><circle cx="614.4" cy="400.3" r="0.7" fill="#c44a5a"/><circle cx="588.9" cy="398.5" r="0.7" fill="#a83242"/><circle cx="586.7" cy="397.7" r="0.5" fill="#eab8be"/><circle cx="574.9" cy="389.9" r="0.5" fill="#c44a5a"/><circle cx="601.3" cy="391.7" r="0.5" fill="#eab8be"/><circle cx="591.9" cy="385.3" r="0.6" fill="#eab8be"/><circle cx="581.9" cy="386.5" r="0.4" fill="#d8707c"/><circle cx="595.8" cy="390.2" r="0.6" fill="#e6a0a8"/><circle cx="608.7" cy="396.2" r="0.7" fill="#d8707c"/><circle cx="595.1" cy="393.4" r="0.7" fill="#d8707c"/><circle cx="596.7" cy="392.1" r="0.5" fill="#c44a5a"/><circle cx="598" cy="386.7" r="0.5" fill="#d8707c"/><circle cx="573.7" cy="386.1" r="0.7" fill="#a83242"/><circle cx="593.7" cy="391" r="0.6" fill="#c44a5a"/><circle cx="574.7" cy="391.7" r="0.5" fill="#eab8be"/><circle cx="587.3" cy="395.9" r="0.6" fill="#a83242"/><circle cx="587.3" cy="392.4" r="0.7" fill="#eab8be"/><circle cx="602.5" cy="399.1" r="0.6" fill="#d8707c"/><circle cx="615.8" cy="398.2" r="0.7" fill="#a83242"/><circle cx="612.6" cy="401.3" r="0.7" fill="#d8707c"/><circle cx="590" cy="394.9" r="0.4" fill="#eab8be"/><circle cx="589.9" cy="390.7" r="0.7" fill="#eab8be"/><circle cx="576" cy="393" r="0.5" fill="#e6a0a8"/><circle cx="608.1" cy="401" r="0.7" fill="#eab8be"/><circle cx="607.2" cy="395.3" r="0.6" fill="#e6a0a8"/><circle cx="575.6" cy="393.7" r="0.5" fill="#a83242"/><circle cx="594.3" cy="389.8" r="0.4" fill="#eab8be"/><circle cx="589.9" cy="390" r="0.6" fill="#c44a5a"/><circle cx="576.6" cy="392.1" r="0.4" fill="#c44a5a"/><circle cx="587.7" cy="394.6" r="0.6" fill="#d8707c"/><circle cx="595.3" cy="389.5" r="0.5" fill="#c44a5a"/><circle cx="594.6" cy="391.4" r="0.6" fill="#c44a5a"/><circle cx="577" cy="391.3" r="0.6" fill="#eab8be"/><circle cx="581.9" cy="391.9" r="0.4" fill="#eab8be"/><circle cx="588.4" cy="391.6" r="0.5" fill="#eab8be"/><circle cx="586.1" cy="386.9" r="0.7" fill="#d8707c"/><circle cx="611.1" cy="399.5" r="0.5" fill="#a83242"/><circle cx="583.8" cy="384" r="0.6" fill="#eab8be"/><circle cx="588.8" cy="398.3" r="0.6" fill="#eab8be"/><circle cx="613.9" cy="397.7" r="0.4" fill="#d8707c"/><circle cx="611.5" cy="396.8" r="0.5" fill="#a83242"/><circle cx="580.1" cy="393.1" r="0.6" fill="#e6a0a8"/><circle cx="583.1" cy="397.1" r="0.7" fill="#c44a5a"/><circle cx="572" cy="389.1" r="0.7" fill="#d8707c"/><circle cx="601.5" cy="395.1" r="0.6" fill="#eab8be"/><circle cx="589.7" cy="394.7" r="0.5" fill="#eab8be"/><circle cx="603.5" cy="389.4" r="0.5" fill="#a83242"/><circle cx="589.7" cy="396" r="0.7" fill="#d8707c"/><circle cx="608" cy="396.3" r="0.6" fill="#d8707c"/><circle cx="591.7" cy="388.9" r="0.5" fill="#c44a5a"/><circle cx="610.3" cy="394.6" r="0.5" fill="#eab8be"/><circle cx="584.2" cy="386.1" r="0.4" fill="#d8707c"/><circle cx="586.4" cy="397.1" r="0.6" fill="#eab8be"/><circle cx="588.8" cy="386.2" r="0.5" fill="#e6a0a8"/><circle cx="570.5" cy="389.4" r="0.6" fill="#d8707c"/><circle cx="601" cy="393.3" r="0.6" fill="#e6a0a8"/><circle cx="600.5" cy="390.9" r="0.4" fill="#eab8be"/><circle cx="578.2" cy="388.1" r="0.6" fill="#eab8be"/><circle cx="595" cy="394.1" r="0.6" fill="#eab8be"/><circle cx="588.9" cy="394.5" r="0.6" fill="#eab8be"/><circle cx="602.3" cy="399.3" r="0.5" fill="#c44a5a"/><circle cx="608.2" cy="402.3" r="0.4" fill="#c44a5a"/><circle cx="612.1" cy="398.1" r="0.6" fill="#c44a5a"/><circle cx="594.7" cy="392.6" r="0.4" fill="#a83242"/><circle cx="603.8" cy="401.9" r="0.5" fill="#eab8be"/><circle cx="583.2" cy="386.6" r="0.5" fill="#e6a0a8"/><circle cx="571.8" cy="385.8" r="0.6" fill="#e6a0a8"/><circle cx="604.8" cy="392.3" r="0.5" fill="#c44a5a"/><circle cx="610.3" cy="394.4" r="0.5" fill="#d8707c"/><circle cx="594.2" cy="388.8" r="0.7" fill="#eab8be"/><circle cx="598.4" cy="388.3" r="0.6" fill="#a83242"/><circle cx="593.9" cy="394.1" r="0.7" fill="#eab8be"/><circle cx="602.2" cy="395.9" r="0.7" fill="#e6a0a8"/><circle cx="605.4" cy="391.5" r="0.5" fill="#e6a0a8"/><circle cx="574.8" cy="386" r="0.6" fill="#c44a5a"/><circle cx="582.6" cy="395" r="0.6" fill="#a83242"/><circle cx="584.2" cy="388.5" r="0.5" fill="#eab8be"/><circle cx="593" cy="393.4" r="0.4" fill="#e6a0a8"/><circle cx="606" cy="397.4" r="0.5" fill="#e6a0a8"/><circle cx="590.5" cy="398.8" r="0.7" fill="#a83242"/><circle cx="575.9" cy="389" r="0.6" fill="#e6a0a8"/><circle cx="605.5" cy="399.3" r="0.6" fill="#e6a0a8"/><circle cx="587.7" cy="388.7" r="0.6" fill="#e6a0a8"/><circle cx="595.7" cy="388.6" r="0.4" fill="#d8707c"/><circle cx="594.4" cy="399.7" r="0.4" fill="#a83242"/><circle cx="613" cy="400" r="0.7" fill="#eab8be"/><circle cx="600.6" cy="398.3" r="0.4" fill="#c44a5a"/><circle cx="599" cy="395" r="0.4" fill="#c44a5a"/><circle cx="607.7" cy="392.4" r="0.7" fill="#eab8be"/><circle cx="585.6" cy="396.5" r="0.6" fill="#e6a0a8"/><circle cx="581.1" cy="385.3" r="0.5" fill="#d8707c"/><circle cx="588.9" cy="394.7" r="0.6" fill="#d8707c"/><circle cx="606" cy="399.8" r="0.7" fill="#e6a0a8"/><circle cx="594.9" cy="391.6" r="0.7" fill="#c44a5a"/><circle cx="587.1" cy="397.4" r="0.7" fill="#eab8be"/><circle cx="590.1" cy="390" r="0.7" fill="#c44a5a"/><circle cx="579.3" cy="386.4" r="0.6" fill="#c44a5a"/><circle cx="593.7" cy="398.2" r="0.6" fill="#e6a0a8"/><circle cx="614.7" cy="399.2" r="0.6" fill="#eab8be"/><circle cx="583.2" cy="389.1" r="0.7" fill="#eab8be"/><circle cx="588.3" cy="393.8" r="0.5" fill="#e6a0a8"/><circle cx="576" cy="387.8" r="0.4" fill="#d8707c"/><circle cx="588.9" cy="394.4" r="0.4" fill="#a83242"/><circle cx="586.8" cy="398.2" r="0.7" fill="#c44a5a"/><circle cx="609.5" cy="395.4" r="0.5" fill="#e6a0a8"/><circle cx="598" cy="399.7" r="0.7" fill="#a83242"/><circle cx="592.4" cy="386.9" r="0.5" fill="#a83242"/><circle cx="608.1" cy="394.8" r="0.4" fill="#e6a0a8"/><circle cx="614.2" cy="397.1" r="0.7" fill="#e6a0a8"/><circle cx="603.4" cy="398.6" r="0.5" fill="#a83242"/><circle cx="578.5" cy="394.4" r="0.7" fill="#a83242"/><circle cx="604.6" cy="389.6" r="0.4" fill="#d8707c"/><circle cx="581.6" cy="389.8" r="0.7" fill="#a83242"/><circle cx="601.1" cy="390.2" r="0.4" fill="#a83242"/><circle cx="595.2" cy="394.1" r="0.5" fill="#c44a5a"/><circle cx="603.2" cy="398.4" r="0.7" fill="#c44a5a"/><circle cx="576.9" cy="393.6" r="0.6" fill="#c44a5a"/><circle cx="605.7" cy="399" r="0.4" fill="#a83242"/><circle cx="575.7" cy="387.8" r="0.6" fill="#a83242"/><circle cx="586.2" cy="397.5" r="0.4" fill="#eab8be"/><circle cx="580.8" cy="393.7" r="0.7" fill="#eab8be"/><circle cx="583.2" cy="390.4" r="0.7" fill="#eab8be"/><circle cx="597.4" cy="399.7" r="0.4" fill="#e6a0a8"/><circle cx="582" cy="390.8" r="0.5" fill="#c44a5a"/><circle cx="581.2" cy="386.5" r="0.6" fill="#a83242"/><circle cx="577.5" cy="385.3" r="0.5" fill="#eab8be"/><circle cx="608.5" cy="397.1" r="0.7" fill="#e6a0a8"/><circle cx="582" cy="393.2" r="0.5" fill="#d8707c"/><circle cx="592.6" cy="394.4" r="0.4" fill="#d8707c"/><circle cx="599.1" cy="389.6" r="0.7" fill="#a83242"/><circle cx="596.3" cy="387" r="0.5" fill="#d8707c"/><circle cx="598.6" cy="399.3" r="0.7" fill="#e6a0a8"/><circle cx="598.8" cy="394.2" r="0.4" fill="#d8707c"/><circle cx="603.2" cy="391.4" r="0.6" fill="#c44a5a"/><circle cx="595.2" cy="396.4" r="0.4" fill="#d8707c"/><circle cx="592.5" cy="395.4" r="0.5" fill="#e6a0a8"/><circle cx="583.5" cy="392.4" r="0.4" fill="#d8707c"/><circle cx="582.3" cy="392.2" r="0.7" fill="#e6a0a8"/><circle cx="597.6" cy="394.5" r="0.4" fill="#e6a0a8"/><circle cx="587.3" cy="385.6" r="0.7" fill="#d8707c"/><circle cx="603.1" cy="388.5" r="0.4" fill="#c44a5a"/><circle cx="584.6" cy="387" r="0.6" fill="#e6a0a8"/><circle cx="586.7" cy="398.1" r="0.6" fill="#d8707c"/><circle cx="574.7" cy="385.7" r="0.4" fill="#e6a0a8"/><circle cx="604.8" cy="390.2" r="0.7" fill="#e6a0a8"/><circle cx="587.9" cy="394.5" r="0.6" fill="#eab8be"/><circle cx="592.2" cy="391.5" r="0.7" fill="#e6a0a8"/><circle cx="611" cy="399.7" r="0.6" fill="#c44a5a"/><circle cx="599.1" cy="388.5" r="0.4" fill="#a83242"/><circle cx="593.2" cy="399.9" r="0.5" fill="#d8707c"/><circle cx="590" cy="386.1" r="0.5" fill="#eab8be"/><circle cx="586.4" cy="392.2" r="0.7" fill="#eab8be"/><circle cx="583.4" cy="393.4" r="0.4" fill="#eab8be"/><circle cx="578.5" cy="394.6" r="0.7" fill="#e6a0a8"/><circle cx="587.5" cy="388.4" r="0.4" fill="#a83242"/><circle cx="608.8" cy="395.6" r="0.7" fill="#d8707c"/><circle cx="581.7" cy="392.7" r="0.7" fill="#eab8be"/><circle cx="613.9" cy="398.9" r="0.4" fill="#d8707c"/><circle cx="587.2" cy="392.5" r="0.7" fill="#a83242"/><circle cx="571.4" cy="386.4" r="0.6" fill="#e6a0a8"/><circle cx="613.5" cy="396.8" r="0.6" fill="#c44a5a"/><circle cx="573.3" cy="392.3" r="0.6" fill="#c44a5a"/><circle cx="606.3" cy="401.5" r="0.6" fill="#eab8be"/><circle cx="593.9" cy="391" r="0.5" fill="#eab8be"/><circle cx="611.4" cy="400.1" r="0.7" fill="#d8707c"/><circle cx="612.4" cy="399.8" r="0.4" fill="#e6a0a8"/>
<ellipse cx="592" cy="441" rx="23" ry="7.5" transform="rotate(14 592 441)" fill="#f6dde0" opacity=".7"/>
<circle cx="606.4" cy="448.3" r="0.6" fill="#e6a0a8"/><circle cx="581.8" cy="433.9" r="0.4" fill="#d8707c"/><circle cx="604.5" cy="449.8" r="0.6" fill="#e6a0a8"/><circle cx="594.2" cy="440.7" r="0.5" fill="#c44a5a"/><circle cx="609.4" cy="443.3" r="0.7" fill="#a83242"/><circle cx="587.1" cy="445.7" r="0.4" fill="#d8707c"/><circle cx="585.4" cy="433.7" r="0.6" fill="#eab8be"/><circle cx="601.1" cy="438.4" r="0.7" fill="#a83242"/><circle cx="601.2" cy="449.6" r="0.7" fill="#eab8be"/><circle cx="602.8" cy="447.1" r="0.5" fill="#eab8be"/><circle cx="581.4" cy="434.9" r="0.5" fill="#eab8be"/><circle cx="607.6" cy="442.7" r="0.7" fill="#a83242"/><circle cx="584.4" cy="442.5" r="0.6" fill="#a83242"/><circle cx="592.4" cy="436.8" r="0.5" fill="#d8707c"/><circle cx="608.7" cy="447.1" r="0.7" fill="#a83242"/><circle cx="581.6" cy="445.4" r="0.6" fill="#eab8be"/><circle cx="594.8" cy="441.8" r="0.6" fill="#a83242"/><circle cx="584.5" cy="434.6" r="0.6" fill="#eab8be"/><circle cx="608.3" cy="449.6" r="0.5" fill="#c44a5a"/><circle cx="599.8" cy="439.5" r="0.4" fill="#c44a5a"/><circle cx="604.9" cy="438.7" r="0.5" fill="#d8707c"/><circle cx="609.2" cy="449.4" r="0.4" fill="#e6a0a8"/><circle cx="576.4" cy="439.7" r="0.4" fill="#c44a5a"/><circle cx="607.5" cy="439.7" r="0.4" fill="#c44a5a"/><circle cx="588.5" cy="433" r="0.7" fill="#d8707c"/><circle cx="611.5" cy="448" r="0.6" fill="#e6a0a8"/><circle cx="586.3" cy="432.3" r="0.5" fill="#eab8be"/><circle cx="601.4" cy="449.6" r="0.7" fill="#eab8be"/><circle cx="601.5" cy="443" r="0.4" fill="#e6a0a8"/><circle cx="591.8" cy="445.3" r="0.5" fill="#e6a0a8"/><circle cx="580.6" cy="439.7" r="0.5" fill="#c44a5a"/><circle cx="600.7" cy="439.4" r="0.4" fill="#d8707c"/><circle cx="573.1" cy="438.3" r="0.6" fill="#c44a5a"/><circle cx="590.4" cy="436.7" r="0.6" fill="#eab8be"/><circle cx="604.8" cy="446.2" r="0.5" fill="#a83242"/><circle cx="581" cy="442.1" r="0.4" fill="#a83242"/><circle cx="589.3" cy="434.3" r="0.6" fill="#d8707c"/><circle cx="604.9" cy="438.2" r="0.4" fill="#a83242"/><circle cx="589.8" cy="441" r="0.5" fill="#d8707c"/><circle cx="602.7" cy="442.7" r="0.6" fill="#eab8be"/><circle cx="594.7" cy="447.6" r="0.7" fill="#eab8be"/><circle cx="606.3" cy="442.6" r="0.6" fill="#c44a5a"/><circle cx="597.8" cy="439.2" r="0.7" fill="#e6a0a8"/><circle cx="581.9" cy="444.2" r="0.5" fill="#c44a5a"/><circle cx="581.9" cy="443.7" r="0.6" fill="#c44a5a"/><circle cx="598.4" cy="442.1" r="0.7" fill="#eab8be"/><circle cx="573.4" cy="432.9" r="0.5" fill="#c44a5a"/><circle cx="579.2" cy="437.6" r="0.4" fill="#e6a0a8"/><circle cx="587.2" cy="439.2" r="0.7" fill="#a83242"/><circle cx="610.6" cy="441.9" r="0.4" fill="#eab8be"/><circle cx="607.4" cy="447.1" r="0.7" fill="#c44a5a"/><circle cx="603.8" cy="447.5" r="0.5" fill="#e6a0a8"/><circle cx="586.4" cy="439.3" r="0.7" fill="#a83242"/><circle cx="583.7" cy="434.7" r="0.5" fill="#e6a0a8"/><circle cx="593.5" cy="444.4" r="0.6" fill="#c44a5a"/><circle cx="594.7" cy="446.6" r="0.4" fill="#e6a0a8"/><circle cx="577.1" cy="437.9" r="0.7" fill="#c44a5a"/><circle cx="599.1" cy="447.6" r="0.4" fill="#e6a0a8"/><circle cx="586.2" cy="442.8" r="0.7" fill="#e6a0a8"/><circle cx="589.1" cy="440.6" r="0.4" fill="#eab8be"/><circle cx="589.2" cy="437.6" r="0.4" fill="#eab8be"/><circle cx="579.5" cy="443.9" r="0.5" fill="#d8707c"/><circle cx="604.6" cy="445.4" r="0.4" fill="#a83242"/><circle cx="600.8" cy="448" r="0.5" fill="#d8707c"/><circle cx="588.8" cy="433.3" r="0.5" fill="#e6a0a8"/><circle cx="600" cy="449.8" r="0.6" fill="#a83242"/><circle cx="585.5" cy="440.1" r="0.6" fill="#c44a5a"/><circle cx="602.6" cy="449.2" r="0.4" fill="#eab8be"/><circle cx="576.6" cy="442" r="0.5" fill="#c44a5a"/><circle cx="583.4" cy="439.2" r="0.7" fill="#a83242"/><circle cx="597.7" cy="447.3" r="0.4" fill="#d8707c"/><circle cx="602.1" cy="445.2" r="0.7" fill="#c44a5a"/><circle cx="586.8" cy="440.6" r="0.7" fill="#e6a0a8"/><circle cx="602.8" cy="445.1" r="0.4" fill="#eab8be"/><circle cx="575.1" cy="438.4" r="0.5" fill="#e6a0a8"/><circle cx="593.8" cy="436.4" r="0.6" fill="#c44a5a"/><circle cx="583.7" cy="445.2" r="0.6" fill="#c44a5a"/><circle cx="603.7" cy="443.7" r="0.6" fill="#e6a0a8"/><circle cx="588.7" cy="446" r="0.5" fill="#c44a5a"/><circle cx="597.7" cy="440.1" r="0.7" fill="#a83242"/><circle cx="580.4" cy="440" r="0.7" fill="#d8707c"/><circle cx="571.7" cy="435.8" r="0.7" fill="#e6a0a8"/><circle cx="577.1" cy="433.8" r="0.5" fill="#c44a5a"/><circle cx="585.8" cy="440" r="0.5" fill="#a83242"/><circle cx="577.9" cy="440.1" r="0.5" fill="#d8707c"/><circle cx="591.1" cy="441.4" r="0.7" fill="#c44a5a"/><circle cx="581.7" cy="435.5" r="0.5" fill="#e6a0a8"/><circle cx="599.4" cy="441.2" r="0.7" fill="#c44a5a"/><circle cx="593.5" cy="436.9" r="0.6" fill="#d8707c"/><circle cx="605.1" cy="446.3" r="0.5" fill="#d8707c"/><circle cx="612.2" cy="447.1" r="0.6" fill="#c44a5a"/><circle cx="607" cy="442.9" r="0.5" fill="#e6a0a8"/><circle cx="586.1" cy="436.9" r="0.5" fill="#a83242"/><circle cx="590.1" cy="437.3" r="0.7" fill="#a83242"/><circle cx="582.9" cy="433.4" r="0.7" fill="#a83242"/><circle cx="577.2" cy="440" r="0.5" fill="#e6a0a8"/><circle cx="581.3" cy="439" r="0.5" fill="#e6a0a8"/><circle cx="581.2" cy="441.6" r="0.6" fill="#eab8be"/><circle cx="599" cy="449.7" r="0.6" fill="#e6a0a8"/><circle cx="592.9" cy="443.4" r="0.4" fill="#e6a0a8"/><circle cx="588.4" cy="435.1" r="0.7" fill="#e6a0a8"/><circle cx="590.8" cy="434.3" r="0.7" fill="#e6a0a8"/><circle cx="571.1" cy="433.3" r="0.5" fill="#a83242"/><circle cx="606.5" cy="446.2" r="0.6" fill="#a83242"/><circle cx="599.6" cy="437.5" r="0.5" fill="#a83242"/><circle cx="579.5" cy="433.9" r="0.5" fill="#e6a0a8"/><circle cx="600.6" cy="446.7" r="0.4" fill="#e6a0a8"/><circle cx="598.3" cy="444.3" r="0.7" fill="#d8707c"/><circle cx="608.2" cy="444.1" r="0.7" fill="#d8707c"/><circle cx="583.6" cy="440" r="0.4" fill="#eab8be"/><circle cx="590.2" cy="446.3" r="0.6" fill="#eab8be"/><circle cx="596.1" cy="443.4" r="0.6" fill="#a83242"/><circle cx="590.3" cy="439.2" r="0.6" fill="#c44a5a"/><circle cx="609.4" cy="444.7" r="0.6" fill="#c44a5a"/><circle cx="611.3" cy="448.7" r="0.7" fill="#c44a5a"/><circle cx="587.3" cy="439.1" r="0.6" fill="#e6a0a8"/><circle cx="574.6" cy="434.2" r="0.4" fill="#d8707c"/><circle cx="586.9" cy="447.2" r="0.5" fill="#a83242"/><circle cx="580.3" cy="437.7" r="0.6" fill="#d8707c"/><circle cx="600.8" cy="443.9" r="0.4" fill="#eab8be"/><circle cx="592.4" cy="443.9" r="0.7" fill="#d8707c"/><circle cx="594.8" cy="437.8" r="0.5" fill="#c44a5a"/><circle cx="596.8" cy="444.2" r="0.5" fill="#a83242"/><circle cx="609.6" cy="448.9" r="0.6" fill="#d8707c"/><circle cx="591.3" cy="446" r="0.4" fill="#d8707c"/><circle cx="578.2" cy="432.9" r="0.5" fill="#d8707c"/><circle cx="589.1" cy="438.7" r="0.7" fill="#c44a5a"/><circle cx="594.9" cy="441.3" r="0.5" fill="#a83242"/><circle cx="600.5" cy="446.3" r="0.6" fill="#c44a5a"/><circle cx="595.7" cy="445.8" r="0.4" fill="#a83242"/><circle cx="595.1" cy="444" r="0.6" fill="#e6a0a8"/><circle cx="601.3" cy="443" r="0.4" fill="#d8707c"/><circle cx="606.9" cy="446.3" r="0.4" fill="#d8707c"/><circle cx="599.3" cy="449.3" r="0.7" fill="#c44a5a"/><circle cx="591.1" cy="437.6" r="0.4" fill="#e6a0a8"/><circle cx="602" cy="440.1" r="0.7" fill="#eab8be"/><circle cx="601.4" cy="436.2" r="0.5" fill="#c44a5a"/><circle cx="597.3" cy="446" r="0.7" fill="#c44a5a"/><circle cx="579.6" cy="435.3" r="0.6" fill="#a83242"/><circle cx="595.3" cy="445.7" r="0.7" fill="#a83242"/><circle cx="603.7" cy="447" r="0.7" fill="#a83242"/><circle cx="586.2" cy="441.3" r="0.6" fill="#eab8be"/><circle cx="592.1" cy="436.2" r="0.5" fill="#eab8be"/><circle cx="586.2" cy="432.9" r="0.5" fill="#a83242"/><circle cx="578.9" cy="439.5" r="0.6" fill="#d8707c"/><circle cx="601" cy="440.3" r="0.4" fill="#e6a0a8"/><circle cx="572.6" cy="440.5" r="0.4" fill="#e6a0a8"/><circle cx="571.8" cy="436.4" r="0.7" fill="#e6a0a8"/><circle cx="589.9" cy="443.7" r="0.5" fill="#eab8be"/><circle cx="597.3" cy="440.4" r="0.4" fill="#eab8be"/><circle cx="590.4" cy="437.2" r="0.4" fill="#a83242"/><circle cx="576.9" cy="434" r="0.7" fill="#d8707c"/><circle cx="577.7" cy="440.5" r="0.7" fill="#eab8be"/><circle cx="597.7" cy="440.8" r="0.5" fill="#d8707c"/><circle cx="595.7" cy="438.2" r="0.4" fill="#eab8be"/><circle cx="601.4" cy="448.4" r="0.4" fill="#a83242"/><circle cx="587.2" cy="439.4" r="0.5" fill="#d8707c"/><circle cx="591.7" cy="446.9" r="0.6" fill="#eab8be"/><circle cx="601.6" cy="436.5" r="0.6" fill="#a83242"/><circle cx="580.6" cy="434.6" r="0.5" fill="#e6a0a8"/><circle cx="591.9" cy="445.3" r="0.6" fill="#a83242"/><circle cx="603.7" cy="439.7" r="0.4" fill="#a83242"/><circle cx="570.6" cy="437.8" r="0.4" fill="#d8707c"/><circle cx="593.3" cy="443.1" r="0.6" fill="#c44a5a"/><circle cx="598.3" cy="443.2" r="0.6" fill="#d8707c"/><circle cx="590.5" cy="435" r="0.5" fill="#e6a0a8"/><circle cx="589.1" cy="447.1" r="0.5" fill="#e6a0a8"/><circle cx="602" cy="437.3" r="0.5" fill="#eab8be"/><circle cx="605.4" cy="442.3" r="0.7" fill="#e6a0a8"/><circle cx="604.4" cy="450.3" r="0.6" fill="#d8707c"/><circle cx="600.5" cy="448.8" r="0.4" fill="#eab8be"/><circle cx="591.3" cy="445" r="0.5" fill="#d8707c"/><circle cx="606.5" cy="439.5" r="0.4" fill="#eab8be"/><circle cx="603" cy="447.2" r="0.5" fill="#d8707c"/><circle cx="581.2" cy="444.5" r="0.4" fill="#d8707c"/><circle cx="593.4" cy="448.1" r="0.4" fill="#c44a5a"/><circle cx="598" cy="435.8" r="0.4" fill="#d8707c"/><circle cx="573.2" cy="439.2" r="0.4" fill="#e6a0a8"/><circle cx="596.8" cy="437.9" r="0.6" fill="#eab8be"/><circle cx="611.4" cy="444.8" r="0.7" fill="#d8707c"/><circle cx="588.8" cy="439.6" r="0.5" fill="#eab8be"/><circle cx="576.4" cy="441.9" r="0.7" fill="#eab8be"/><circle cx="600" cy="437.8" r="0.6" fill="#d8707c"/><circle cx="609.4" cy="440" r="0.5" fill="#d8707c"/><circle cx="613.2" cy="448.6" r="0.6" fill="#e6a0a8"/><circle cx="614" cy="446.2" r="0.4" fill="#a83242"/><circle cx="582.5" cy="434.2" r="0.7" fill="#c44a5a"/><circle cx="606.2" cy="446.5" r="0.4" fill="#e6a0a8"/><circle cx="610.8" cy="445.4" r="0.5" fill="#e6a0a8"/><circle cx="579.7" cy="441.1" r="0.5" fill="#eab8be"/><circle cx="589.7" cy="442.9" r="0.6" fill="#eab8be"/><circle cx="577.3" cy="434" r="0.7" fill="#e6a0a8"/><circle cx="588.3" cy="440.1" r="0.7" fill="#a83242"/><circle cx="574.2" cy="438" r="0.6" fill="#a83242"/><circle cx="572.4" cy="439.8" r="0.7" fill="#a83242"/><circle cx="596.3" cy="446.2" r="0.6" fill="#e6a0a8"/><circle cx="610.6" cy="446.6" r="0.4" fill="#d8707c"/><circle cx="598.9" cy="445.1" r="0.5" fill="#a83242"/><circle cx="600.7" cy="446.6" r="0.4" fill="#e6a0a8"/><circle cx="610.5" cy="446.8" r="0.5" fill="#e6a0a8"/><circle cx="599.1" cy="445.4" r="0.5" fill="#c44a5a"/><circle cx="580.1" cy="431.8" r="0.4" fill="#e6a0a8"/><circle cx="584.6" cy="436.3" r="0.5" fill="#e6a0a8"/><circle cx="604.8" cy="444.7" r="0.5" fill="#eab8be"/><circle cx="611.3" cy="445.1" r="0.4" fill="#c44a5a"/><circle cx="585.7" cy="436.3" r="0.4" fill="#c44a5a"/><circle cx="570" cy="433.9" r="0.6" fill="#eab8be"/><circle cx="598" cy="443.7" r="0.4" fill="#eab8be"/><circle cx="584.8" cy="436.6" r="0.7" fill="#a83242"/><circle cx="594.3" cy="445.1" r="0.5" fill="#e6a0a8"/><circle cx="586.5" cy="437.4" r="0.5" fill="#d8707c"/><circle cx="609.8" cy="446.2" r="0.6" fill="#eab8be"/><circle cx="579.2" cy="439.1" r="0.4" fill="#e6a0a8"/><circle cx="595.9" cy="442.2" r="0.4" fill="#a83242"/><circle cx="603.3" cy="447.6" r="0.6" fill="#d8707c"/><circle cx="601.9" cy="445.2" r="0.4" fill="#a83242"/><circle cx="596.2" cy="446.6" r="0.4" fill="#d8707c"/><circle cx="597.7" cy="441.8" r="0.6" fill="#d8707c"/><circle cx="581.2" cy="440.1" r="0.4" fill="#e6a0a8"/><circle cx="609.9" cy="442.6" r="0.6" fill="#a83242"/><circle cx="588.1" cy="433.4" r="0.5" fill="#d8707c"/><circle cx="604.5" cy="450.1" r="0.5" fill="#c44a5a"/><circle cx="580" cy="443.7" r="0.6" fill="#eab8be"/><circle cx="602.2" cy="440.4" r="0.7" fill="#eab8be"/><circle cx="610.9" cy="441.3" r="0.5" fill="#d8707c"/><circle cx="578.4" cy="434.6" r="0.7" fill="#c44a5a"/><circle cx="601.1" cy="442.7" r="0.4" fill="#d8707c"/><circle cx="608.6" cy="442.9" r="0.5" fill="#c44a5a"/><circle cx="609.2" cy="440.1" r="0.7" fill="#c44a5a"/><circle cx="584.8" cy="435.6" r="0.5" fill="#c44a5a"/><circle cx="590.6" cy="447.2" r="0.7" fill="#eab8be"/><circle cx="587.6" cy="443.6" r="0.5" fill="#c44a5a"/><circle cx="604.1" cy="441.6" r="0.4" fill="#c44a5a"/><circle cx="607.5" cy="448.9" r="0.4" fill="#a83242"/><circle cx="591.9" cy="437.8" r="0.4" fill="#d8707c"/><circle cx="584" cy="444.3" r="0.4" fill="#e6a0a8"/><circle cx="603.9" cy="446.8" r="0.7" fill="#d8707c"/><circle cx="594.2" cy="445.9" r="0.4" fill="#e6a0a8"/><circle cx="600.7" cy="438.7" r="0.6" fill="#c44a5a"/><circle cx="607.8" cy="442.5" r="0.7" fill="#eab8be"/><circle cx="586.1" cy="434.6" r="0.7" fill="#c44a5a"/><circle cx="574.8" cy="440.7" r="0.6" fill="#e6a0a8"/><circle cx="596.5" cy="445.3" r="0.4" fill="#eab8be"/><circle cx="606.4" cy="448.1" r="0.4" fill="#eab8be"/><circle cx="601.5" cy="436.8" r="0.7" fill="#d8707c"/><circle cx="593.1" cy="437.2" r="0.5" fill="#a83242"/><circle cx="590.7" cy="437.8" r="0.4" fill="#c44a5a"/><circle cx="586.9" cy="440.7" r="0.6" fill="#e6a0a8"/><circle cx="586.3" cy="435.5" r="0.5" fill="#c44a5a"/><circle cx="578.3" cy="432.1" r="0.4" fill="#e6a0a8"/><circle cx="604.2" cy="443.5" r="0.4" fill="#c44a5a"/><circle cx="599.4" cy="448.1" r="0.4" fill="#c44a5a"/><circle cx="576.7" cy="442.6" r="0.7" fill="#d8707c"/><circle cx="575.9" cy="442.3" r="0.7" fill="#eab8be"/><circle cx="579.8" cy="438.1" r="0.7" fill="#e6a0a8"/><circle cx="594.9" cy="441.7" r="0.7" fill="#a83242"/><circle cx="576" cy="441.6" r="0.5" fill="#eab8be"/><circle cx="590.5" cy="439.5" r="0.6" fill="#eab8be"/><circle cx="591.7" cy="434.6" r="0.7" fill="#eab8be"/><circle cx="593.8" cy="441.8" r="0.5" fill="#d8707c"/>
<circle cx="386.0" cy="436.0" r="1.15" fill="rgb(198,164,177)"/>
<circle cx="392.0" cy="434.0" r="1.15" fill="rgb(209,181,192)"/>
<circle cx="398.0" cy="435.0" r="1.15" fill="rgb(203,173,184)"/>
<circle cx="383.0" cy="441.0" r="1.15" fill="rgb(170,122,138)"/>
<circle cx="389.0" cy="440.0" r="1.15" fill="rgb(176,131,146)"/>
<circle cx="395.0" cy="439.0" r="1.15" fill="rgb(181,139,154)"/>
<circle cx="401.0" cy="441.0" r="1.15" fill="rgb(170,122,138)"/>
<circle cx="385.0" cy="446.0" r="1.15" fill="rgb(143,80,100)"/>
<circle cx="391.0" cy="445.0" r="1.15" fill="rgb(148,88,108)"/>
<circle cx="397.0" cy="445.0" r="1.15" fill="rgb(148,88,108)"/>
<circle cx="403.0" cy="447.0" r="1.15" fill="rgb(137,72,93)"/>
<circle cx="388.0" cy="450.0" r="1.15" fill="rgb(121,46,70)"/>
<circle cx="394.0" cy="451.0" r="1.15" fill="rgb(115,38,62)"/>
<circle cx="400.0" cy="451.0" r="1.15" fill="rgb(115,38,62)"/>
<circle cx="382.0" cy="435.5" r="1.15" fill="rgb(201,168,180)"/>
<circle cx="396.0" cy="448.0" r="1.15" fill="rgb(132,63,85)"/>
  <!-- cursor -->
  <path d="M652.5 387.5v11l2.6-2.4 1.8 4.2 1.6-.7-1.8-4.1 3.5-.1z" fill="#fff" stroke="#111" stroke-width=".8"/>
 </svg>
 <svg style="left:-228px;top:-88px" width="1269" height="605" font-family="Liberation Sans">
  <defs><marker id="ak" markerWidth="5" markerHeight="5" refX="4.5" refY="2.5" orient="auto" markerUnits="userSpaceOnUse"><path d="M0 .7L4.6 2.5L0 4.3z" fill="#222"/></marker></defs>
  <g font-weight="bold" font-size="8.6" fill="#222" text-anchor="middle">
   <text x="765.5" y="327.2" textLength="29" lengthAdjust="spacingAndGlyphs">2D grid</text>
   <text x="998.7" y="327.2" textLength="45.5" lengthAdjust="spacingAndGlyphs">Local patch</text>
  </g>
  <rect x="760" y="340.7" width="3" height="2.9" fill="rgb(190,80,80)"/><rect x="763" y="340.7" width="3" height="2.9" fill="rgb(179,45,45)"/><rect x="765.9" y="340.7" width="3" height="2.9" fill="rgb(211,23,23)"/><rect x="768.9" y="340.7" width="3" height="2.9" fill="rgb(174,72,72)"/><rect x="760" y="343.5" width="3" height="2.9" fill="rgb(204,26,26)"/><rect x="763" y="343.5" width="3" height="2.9" fill="rgb(193,57,57)"/><rect x="765.9" y="343.5" width="3" height="2.9" fill="rgb(173,78,78)"/><rect x="768.9" y="343.5" width="3" height="2.9" fill="rgb(202,33,33)"/><rect x="760" y="346.3" width="3" height="2.9" fill="rgb(172,25,25)"/><rect x="763" y="346.3" width="3" height="2.9" fill="rgb(197,46,46)"/><rect x="765.9" y="346.3" width="3" height="2.9" fill="rgb(174,35,35)"/><rect x="768.9" y="346.3" width="3" height="2.9" fill="rgb(175,55,55)"/><rect x="760" y="349.2" width="3" height="2.9" fill="rgb(197,23,23)"/><rect x="763" y="349.2" width="3" height="2.9" fill="rgb(222,56,56)"/><rect x="765.9" y="349.2" width="3" height="2.9" fill="rgb(177,80,80)"/><rect x="768.9" y="349.2" width="3" height="2.9" fill="rgb(184,60,60)"/>
  <g font-family="Liberation Serif" font-size="6" fill="#444" text-anchor="middle"><text x="765.8" y="338.6">u</text><text x="755.3" y="348.6">u</text></g>
  <g font-family="Liberation Serif" font-weight="bold" font-size="7.5" fill="#333" text-anchor="middle"><text x="835.2" y="285">q</text><text x="874.5" y="285">v</text></g>
  <g fill="none" stroke="#222" stroke-width=".8">
   <path d="M772.5 346.2h24.5" marker-end="url(#ak)"/>
   <path d="M835.2 286.5v9.5M874.3 286.5v9.5M898.5 346.2h13.5"/>
   <path d="M835.2 309v12" marker-end="url(#ak)"/>
   <path d="M874.3 309v12" marker-end="url(#ak)"/>
   <path d="M969.4 346.2h13.2" marker-end="url(#ak)"/>
  </g>
  <g fill="#fff" stroke="#111" stroke-width="1.1">
   <rect x="824" y="296" width="22.4" height="13"/>
   <rect x="863" y="296" width="22.5" height="13"/>
   <rect x="912" y="337.5" width="57.4" height="17.2"/>
  </g>
  <rect x="798.2" y="322.1" width="99.6" height="49.6" fill="#fff" stroke="#111" stroke-width="1.6"/>
  <path d="M820.3 322v49.6M851.2 322v49.6" stroke="#111" stroke-width="1.6"/>
  <g font-size="8.8" fill="#222" text-anchor="middle">
   <text x="835.2" y="305.7" textLength="15.5" lengthAdjust="spacingAndGlyphs">Tile</text>
   <text x="874.3" y="305.7" textLength="15.5" lengthAdjust="spacingAndGlyphs">Tile</text>
   <text x="940.7" y="349.3" textLength="48" lengthAdjust="spacingAndGlyphs">Shared MLP</text>
  </g>
  <g font-family="Liberation Serif" font-style="italic" font-size="7.5" fill="#999" text-anchor="middle">
   <text x="809" y="349">t × 2</text><text x="835.7" y="349">t × 3</text><text x="875" y="349">t × k</text>
  </g>
  <circle cx="1001.4" cy="350.4" r="1.3" fill="#e0b0c0"/><circle cx="984.8" cy="346.5" r="1.4" fill="#b03048"/><circle cx="997.1" cy="343.5" r="1.2" fill="#e0b0c0"/><circle cx="991" cy="350.2" r="1.1" fill="#d06070"/><circle cx="1009.7" cy="350.7" r="1" fill="#b03048"/><circle cx="987.9" cy="348.6" r="1" fill="#b03048"/><circle cx="988.6" cy="342.3" r="1.1" fill="#d06070"/><circle cx="999.1" cy="349.5" r="1" fill="#d06070"/><circle cx="992.4" cy="345.1" r="1" fill="#d06070"/><circle cx="991.4" cy="344.6" r="1.3" fill="#e0b0c0"/><circle cx="993.5" cy="344.3" r="1.3" fill="#8a2038"/><circle cx="1003.5" cy="342.6" r="1.1" fill="#d06070"/><circle cx="1006.1" cy="345.1" r="1.2" fill="#b03048"/><circle cx="996.7" cy="349.9" r="1.2" fill="#d06070"/><circle cx="987.3" cy="343.4" r="1.3" fill="#8a2038"/><circle cx="993.6" cy="345" r="1.2" fill="#8a2038"/>
 </svg>
</div></div>
<div class="a" style="left:16px;top:212.5px;width:162.5px;height:93.5px;border:2px solid #df8d6e;border-radius:1px"></div>
<div class="a" style="left:18px;top:318.5px;width:158.5px;height:89.5px;overflow:hidden;box-shadow:0 0 0 1px #cdcdcf;background:#f0f0f0"><div class="a" style="left:0;top:0;width:807px;height:455px;transform:scale(0.1964);transform-origin:0 0"><div class="a" style="left:0;top:0;width:807px;height:247px;background:#1a6cc1"></div><svg style="left:0;top:0" width="807" height="455"><g transform="translate(-254.3 -126.5) scale(2.16)">  <g fill="none" stroke="#ffffff">
   <circle cx="270.6" cy="114.8" r="17.3" stroke-width="1.1"/>
   <circle cx="270.6" cy="114.8" r="13.6" stroke-width=".6" stroke-dasharray="1 1"/>
   <circle cx="270.6" cy="115" r="10.3" stroke-width="2.3"/>
  </g>
  <path d="M263.5 121.5h14.5l-2-3h-10.5z" fill="#ffffff"/>
  <path d="M270.6 106v12M266 109.5h9M265 112.5h11M264.5 118l4-5.5M276.5 118l-4-5.5" stroke="#ffffff" stroke-width="1.3" fill="none"/>
  <path d="M264 123.5a7.5 3 0 0 0 13.5 0" fill="#ffffff" stroke="none"/>
  <!-- calligraphy approximations -->
  <g fill="none" stroke="#ffffff" stroke-linecap="round" stroke-linejoin="round">
   <path d="M297 100.5c.5 6-.5 13-5.5 20.5" stroke-width="2.1"/>
   <path d="M297.5 102.5l5-1.5M297.5 105.5l4.5-1M297 108.5l5.5-1.5M293 113.5l10-2M297.5 113.5c2 3 4 5.5 7 7M302 113l-3 3" stroke-width="1.5"/>
   <path d="M316 99.5l1.5 2.5M311 106l-1 2.5M311 105l12-1.5-1 2.5M318 106c-1 5-4 9-8.5 13M313 110l10-1.5M315.5 113c3 2 6 4 8.5 7.5" stroke-width="1.6"/>
   <path d="M330.5 108.5l11-2M336.5 100c.5 8-2 15-7 20.5M336.5 111c2 4 4 6.5 6 8.5" stroke-width="1.9"/>
   <path d="M350.5 100.5l1 2.5M354 100l.5 2.5M358.5 100l-1 3M348.5 105.5l12.5-1-1.5 2.5M351 109.5h8l-4 3M354.5 112.5v8.5l-2.5-1.5M348.5 116h13" stroke-width="1.5"/>
  </g>
  <text x="290" y="129.3" font-family="Liberation Serif" font-size="5.6" fill="#ffffff" textLength="72" lengthAdjust="spacingAndGlyphs">CHANG'AN UNIVERSITY</text></g></svg><svg style="left:0;top:0" width="807" height="455"><path d="M375 212h56l28 35-28 35h-56l-28-35z" fill="#cde0f6" stroke="#fff" stroke-width="6"/></svg><div class="t bd" style="left:330px;top:322px;font-size:37px;font-weight:bold;color:#333"><i>当</i><i>前</i><i>进</i><i>度</i></div></div></div>
<div class="a" style="left:18.5px;top:422.5px;width:158.5px;height:89.5px;overflow:hidden;box-shadow:0 0 0 1px #cdcdcf;background:#f0f0f0"><div class="a" style="left:0;top:0;width:807px;height:455px;transform:scale(0.1964);transform-origin:0 0"><div class="a" style="left:0;top:0;width:807px;height:53px;background:#f2f2f2;box-shadow:0 2px 4px rgba(0,0,0,.25)"></div><div class="a" style="left:438.5px;top:0;width:111px;height:53px;background:#0b6cbf"></div><div class="a" style="left:214px;top:17px;width:3px;height:20px;background:#c9c9c9"></div><div class="a" style="left:326px;top:17px;width:3px;height:20px;background:#c9c9c9"></div><div class="a" style="left:438px;top:17px;width:3px;height:20px;background:#c9c9c9"></div><div class="a" style="left:550.5px;top:17px;width:3px;height:20px;background:#c9c9c9"></div><div class="a" style="left:662px;top:17px;width:3px;height:20px;background:#c9c9c9"></div><div class="t bd" style="left:242.5px;top:20.5px;font-size:13.3px;font-weight:bold;color:#777"><i>背</i><i>景</i><i>意</i><i>义</i></div><div class="t bd" style="left:355px;top:20.5px;font-size:13.3px;font-weight:bold;color:#777"><i>研</i><i>究</i><i>内</i><i>容</i></div><div class="t bd" style="left:467.5px;top:20.5px;font-size:13.3px;font-weight:bold;color:#fff"><i>当</i><i>前</i><i>进</i><i>度</i></div><div class="t bd" style="left:580px;top:20.5px;font-size:13.3px;font-weight:bold;color:#777"><i>后</i><i>续</i><i>计</i><i>划</i></div><svg style="left:-228px;top:-88px" width="1269" height="605">  <g fill="none" stroke="#2f6f9c">
   <circle cx="270.6" cy="114.8" r="17.3" stroke-width="1.1"/>
   <circle cx="270.6" cy="114.8" r="13.6" stroke-width=".6" stroke-dasharray="1 1"/>
   <circle cx="270.6" cy="115" r="10.3" stroke-width="2.3"/>
  </g>
  <path d="M263.5 121.5h14.5l-2-3h-10.5z" fill="#2f6f9c"/>
  <path d="M270.6 106v12M266 109.5h9M265 112.5h11M264.5 118l4-5.5M276.5 118l-4-5.5" stroke="#2f6f9c" stroke-width="1.3" fill="none"/>
  <path d="M264 123.5a7.5 3 0 0 0 13.5 0" fill="#8fd0e8" stroke="none"/>
  <!-- calligraphy approximations -->
  <g fill="none" stroke="#2c6a96" stroke-linecap="round" stroke-linejoin="round">
   <path d="M297 100.5c.5 6-.5 13-5.5 20.5" stroke-width="2.1"/>
   <path d="M297.5 102.5l5-1.5M297.5 105.5l4.5-1M297 108.5l5.5-1.5M293 113.5l10-2M297.5 113.5c2 3 4 5.5 7 7M302 113l-3 3" stroke-width="1.5"/>
   <path d="M316 99.5l1.5 2.5M311 106l-1 2.5M311 105l12-1.5-1 2.5M318 106c-1 5-4 9-8.5 13M313 110l10-1.5M315.5 113c3 2 6 4 8.5 7.5" stroke-width="1.6"/>
   <path d="M330.5 108.5l11-2M336.5 100c.5 8-2 15-7 20.5M336.5 111c2 4 4 6.5 6 8.5" stroke-width="1.9"/>
   <path d="M350.5 100.5l1 2.5M354 100l.5 2.5M358.5 100l-1 3M348.5 105.5l12.5-1-1.5 2.5M351 109.5h8l-4 3M354.5 112.5v8.5l-2.5-1.5M348.5 116h13" stroke-width="1.5"/>
  </g>
  <text x="290" y="129.3" font-family="Liberation Serif" font-size="5.6" fill="#4b7ea3" textLength="72" lengthAdjust="spacingAndGlyphs">CHANG'AN UNIVERSITY</text></svg><div class="a" style="left:64px;top:84px;width:77.0px;height:10px;background:#8a8a8a"></div><div class="a" style="left:28px;top:101px;width:140px;height:3px;background:#bbb"></div><div class="a" style="left:190px;top:118px;width:110px;height:8px;background:#555"></div><div class="a" style="left:130px;top:135px;width:190px;height:5px;background:#b4b4b4"></div><div class="a" style="left:130px;top:152px;width:190px;height:5px;background:#b4b4b4"></div><div class="a" style="left:130px;top:169px;width:190px;height:5px;background:#b4b4b4"></div><div class="a" style="left:130px;top:186px;width:114.0px;height:5px;background:#b4b4b4"></div><div class="a" style="left:200px;top:300px;width:110px;height:8px;background:#555"></div><div class="a" style="left:55px;top:317px;width:270px;height:5px;background:#b4b4b4"></div><div class="a" style="left:55px;top:334px;width:270px;height:5px;background:#b4b4b4"></div><div class="a" style="left:55px;top:351px;width:270px;height:5px;background:#b4b4b4"></div><div class="a" style="left:55px;top:368px;width:270px;height:5px;background:#b4b4b4"></div><div class="a" style="left:55px;top:385px;width:162.0px;height:5px;background:#b4b4b4"></div><div class="a" style="left:508px;top:134px;width:60px;height:8px;background:#555"></div><div class="a" style="left:508px;top:153px;width:190px;height:5px;background:#b4b4b4"></div><div class="a" style="left:508px;top:170px;width:114.0px;height:5px;background:#b4b4b4"></div><div class="a" style="left:508px;top:322px;width:60px;height:8px;background:#555"></div><div class="a" style="left:508px;top:341px;width:265px;height:5px;background:#b4b4b4"></div><div class="a" style="left:508px;top:358px;width:265px;height:5px;background:#b4b4b4"></div><div class="a" style="left:508px;top:375px;width:265px;height:5px;background:#b4b4b4"></div><div class="a" style="left:508px;top:392px;width:159.0px;height:5px;background:#b4b4b4"></div><svg style="left:0;top:0" width="807" height="455"><path d="M133 262l62-45v18c55-20 110-22 160-10 45 12 65 32 105 36 48 5 100-6 145-22l-6-16 66 10-26 58-8-16c-58 24-118 36-178 26-46-8-70-30-110-38-44-9-92-5-150 14v18z" fill="#1c6cb6"/><path d="M200 262c60-22 115-26 160-15 40 10 60 30 100 35" fill="none" stroke="#fff" stroke-width="5" opacity=".8"/><g stroke="#8aa" stroke-width="3" fill="none"><path d="M370 150v70M370 290v45M430 180v60M430 300v50"/></g></svg></div></div>
<div class="a" style="left:0;top:520px;width:190px;height:34px;overflow:hidden"><div class="a" style="left:0;top:-520px;width:190px;height:600px"><div class="a" style="left:18.5px;top:526.5px;width:158.5px;height:30px;overflow:hidden;box-shadow:0 0 0 1px #cdcdcf;background:#f0f0f0"><div class="a" style="left:0;top:0;width:807px;height:455px;transform:scale(0.1964);transform-origin:0 0"><div class="a" style="left:0;top:0;width:807px;height:53px;background:#f2f2f2;box-shadow:0 2px 4px rgba(0,0,0,.25)"></div><div class="a" style="left:438.5px;top:0;width:111px;height:53px;background:#0b6cbf"></div><div class="a" style="left:214px;top:17px;width:3px;height:20px;background:#c9c9c9"></div><div class="a" style="left:326px;top:17px;width:3px;height:20px;background:#c9c9c9"></div><div class="a" style="left:438px;top:17px;width:3px;height:20px;background:#c9c9c9"></div><div class="a" style="left:550.5px;top:17px;width:3px;height:20px;background:#c9c9c9"></div><div class="a" style="left:662px;top:17px;width:3px;height:20px;background:#c9c9c9"></div><div class="t bd" style="left:242.5px;top:20.5px;font-size:13.3px;font-weight:bold;color:#777"><i>背</i><i>景</i><i>意</i><i>义</i></div><div class="t bd" style="left:355px;top:20.5px;font-size:13.3px;font-weight:bold;color:#777"><i>研</i><i>究</i><i>内</i><i>容</i></div><div class="t bd" style="left:467.5px;top:20.5px;font-size:13.3px;font-weight:bold;color:#fff"><i>当</i><i>前</i><i>进</i><i>度</i></div><div class="t bd" style="left:580px;top:20.5px;font-size:13.3px;font-weight:bold;color:#777"><i>后</i><i>续</i><i>计</i><i>划</i></div><svg style="left:-228px;top:-88px" width="1269" height="605">  <g fill="none" stroke="#2f6f9c">
   <circle cx="270.6" cy="114.8" r="17.3" stroke-width="1.1"/>
   <circle cx="270.6" cy="114.8" r="13.6" stroke-width=".6" stroke-dasharray="1 1"/>
   <circle cx="270.6" cy="115" r="10.3" stroke-width="2.3"/>
  </g>
  <path d="M263.5 121.5h14.5l-2-3h-10.5z" fill="#2f6f9c"/>
  <path d="M270.6 106v12M266 109.5h9M265 112.5h11M264.5 118l4-5.5M276.5 118l-4-5.5" stroke="#2f6f9c" stroke-width="1.3" fill="none"/>
  <path d="M264 123.5a7.5 3 0 0 0 13.5 0" fill="#8fd0e8" stroke="none"/>
  <!-- calligraphy approximations -->
  <g fill="none" stroke="#2c6a96" stroke-linecap="round" stroke-linejoin="round">
   <path d="M297 100.5c.5 6-.5 13-5.5 20.5" stroke-width="2.1"/>
   <path d="M297.5 102.5l5-1.5M297.5 105.5l4.5-1M297 108.5l5.5-1.5M293 113.5l10-2M297.5 113.5c2 3 4 5.5 7 7M302 113l-3 3" stroke-width="1.5"/>
   <path d="M316 99.5l1.5 2.5M311 106l-1 2.5M311 105l12-1.5-1 2.5M318 106c-1 5-4 9-8.5 13M313 110l10-1.5M315.5 113c3 2 6 4 8.5 7.5" stroke-width="1.6"/>
   <path d="M330.5 108.5l11-2M336.5 100c.5 8-2 15-7 20.5M336.5 111c2 4 4 6.5 6 8.5" stroke-width="1.9"/>
   <path d="M350.5 100.5l1 2.5M354 100l.5 2.5M358.5 100l-1 3M348.5 105.5l12.5-1-1.5 2.5M351 109.5h8l-4 3M354.5 112.5v8.5l-2.5-1.5M348.5 116h13" stroke-width="1.5"/>
  </g>
  <text x="290" y="129.3" font-family="Liberation Serif" font-size="5.6" fill="#4b7ea3" textLength="72" lengthAdjust="spacingAndGlyphs">CHANG'AN UNIVERSITY</text></svg><div class="a" style="left:64px;top:84px;width:93.50000000000001px;height:10px;background:#8a8a8a"></div><div class="a" style="left:28px;top:101px;width:170px;height:3px;background:#bbb"></div><div class="a" style="left:150px;top:130px;width:520px;height:200px;border:3px solid #ccc"></div></div></div></div></div>
<!-- slide numbers -->
<div class="t" style="left:7px;top:116px;font-size:9.5px;color:#444">6</div>
<div class="t" style="left:7px;top:219.5px;font-size:9.5px;color:#444">7</div>
<div class="t" style="left:11px;top:315.5px;font-size:9.5px;color:#444">8</div>
<div class="t" style="left:7.5px;top:428.5px;font-size:9.5px;color:#444">9</div>
<div class="t" style="left:4.5px;top:532.5px;font-size:9.5px;color:#444">10</div>
<!-- left scrollbar -->
<div class="a" style="left:183px;top:224px;width:5px;height:98px;background:#d9dadd;border-radius:3px"></div>
<!-- add slide + -->
<svg style="left:85px;top:558px" width="14" height="14"><path d="M7 1v12M1 7h12" stroke="#444" stroke-width="1.4"/></svg>
<!-- main scrollbar -->
<div class="a" style="left:1111px;top:77px;width:9px;height:478px;background:#eeeff1"></div>
<svg style="left:1111px;top:81px" width="9" height="8"><path d="M2 5.5l2.5-3 2.5 3z" fill="#666"/></svg>
<div class="a" style="left:1112px;top:220px;width:6px;height:29px;background:#d2d3d6;border-radius:3px"></div>
<svg style="left:1111px;top:504px" width="9" height="36" fill="#666"><path d="M1.8 3h4.4L4 5.5z"/><path d="M1.8 14h4.4L4 16.5zM1.8 17h4.4L4 19.5z"/><path d="M1.8 28h4.4L4 30.5zM1.8 31h4.4L4 33.5z"/></svg>
<!-- notes bar -->
<div class="a" style="left:192px;top:555px;width:934px;height:23px;background:#e8e9eb"></div>
<svg style="left:195px;top:559px" width="16" height="14" fill="none" stroke="#555" stroke-width="1.1"><path d="M1.5 2.5h12M1.5 6h12M1.5 9.5h7M10 8.5h4l-2 3z"/></svg>
<div class="t" style="left:215px;top:561px;font-size:9.8px;color:#444"><i>单</i><i>击</i><i>此</i><i>处</i><i>添</i><i>加</i><i>备</i><i>注</i></div>
<!-- status bar -->
<div class="a" style="left:0;top:578px;width:1126px;height:24px;background:#f6f7f8"></div>
<div class="a" style="left:0;top:602px;width:1155px;height:3px;background:#c9cacd"></div>
<div class="t" style="left:1.5px;top:586px;font-size:9.5px;color:#333"><i>幻</i><i>灯</i><i>片</i> 7 / 19</div>
<div class="a" style="left:64px;top:584px;width:1px;height:13px;background:#dcdcdc"></div>
<div class="t" style="left:72px;top:586px;font-size:9.5px;color:#333">Office <i>主</i><i>题</i></div>
<div class="a" style="left:126px;top:584px;width:1px;height:13px;background:#dcdcdc"></div>
<div class="t" style="left:133.5px;top:585px;font-size:11px;color:#444;font-family:'Liberation Serif',serif">T?</div>
<div class="t" style="left:147.5px;top:586px;font-size:9.2px;color:#333"><i>缺</i><i>失</i><i>字</i><i>体</i></div>
<svg style="left:660px;top:580px" width="390" height="22" fill="none" stroke="#555" stroke-width="1.1">
 <path d="M9.5 4l5 2.5v6l-5 2.5-5-2.5v-6zM4.5 6.5l5 2.5 5-2.5M9.5 9v6.5"/>
 <path d="M63 9l1.5 1.5 1.5-1.5"/>
 <path d="M83.5 7h11M83.5 10.5h11M83.5 14h11M92 4l2 2"/>
 <path d="M119 9l1.5 1.5 1.5-1.5"/>
 <path d="M129 15.5v-10h8M129 15.5l3-2.5h8v-4M138.5 3v5M136 5.5h5"/>
 <rect x="174" y="2.5" width="20" height="17" fill="#dedfe1" stroke="none"/>
 <rect x="178.5" y="5.5" width="11" height="11"/><path d="M181.5 5.5v11M181.5 13h8"/>
 <path d="M198.5 5.5h4.5v4.5h-4.5zM205 5.5h4.5v4.5H205zM198.5 12h4.5v4.5h-4.5zM205 12h4.5v4.5H205z"/>
 <path d="M217.5 6.5c2-1 4-1 6 0v10c-2-1-4-1-6 0zM223.5 6.5c2-1 4-1 6 0v10c-2-1-4-1-6 0z"/>
 <path d="M241 3v16" stroke="#ddd"/>
 <path d="M273 9l1.5 1.5 1.5-1.5"/>
 <path d="M294.5 7.5v-3h3M302.5 4.5h3v3M305.5 14.5v3h-3M297.5 17.5h-3v-3"/><rect x="297.5" y="8" width="5" height="6"/>
 <path d="M333 9l1.5 1.5 1.5-1.5"/>
 <path d="M345.5 11h7" stroke-width="1.6" stroke="#333"/>
 <path d="M362 11h18" stroke="#aaa"/>
</svg>
<div class="a" style="left:906px;top:581.5px;width:23.5px;height:19px;background:#5b6070;border-radius:2px"></div>
<svg style="left:906px;top:581.5px" width="24" height="19"><path d="M9 5l7 4.5-7 4.5z" fill="#fff"/></svg>
<div class="t" style="left:678.5px;top:586.5px;font-size:9.3px;color:#444"><i>智</i><i>能</i><i>美</i><i>化</i></div>
<div class="t" style="left:757px;top:586.5px;font-size:9.3px;color:#333"><i>备</i><i>注</i></div>
<div class="t" style="left:802.5px;top:586.5px;font-size:9.3px;color:#333"><i>批</i><i>注</i></div>
<div class="t" style="left:969px;top:586.5px;font-size:9.5px;color:#444">83%</div>

<!--SLIDE-->
<div class="a" style="left:228px;top:88px;width:807px;height:455px;box-shadow:0 0 2px 1px rgba(0,0,0,.10)"></div>
<div id="slide" class="a" style="left:228px;top:88px;width:807px;height:455px;background:#f0f0f0;overflow:hidden">
 <!-- header -->
 <div class="a" style="left:0;top:0;width:807px;height:53.5px;background:#f2f2f2;box-shadow:0 2.5px 6px rgba(0,0,0,.28)"></div>
 <div class="a" style="left:0;top:49.5px;width:807px;height:1px;background:#f8f8f8"></div>
 <div class="a" style="left:327.5px;top:0.5px;width:111px;height:53px;background:#0b6cbf"></div>
 <div class="a" style="left:214px;top:19px;width:1px;height:16px;background:#c9c9c9"></div>
 <div class="a" style="left:438px;top:19px;width:1px;height:16px;background:#c9c9c9"></div>
 <div class="a" style="left:550.5px;top:19px;width:1px;height:16px;background:#c9c9c9"></div>
 <div class="a" style="left:662px;top:19px;width:1px;height:16px;background:#c9c9c9"></div>
 <div class="t bd" style="left:242.5px;top:20.5px;font-size:13.3px;font-weight:bold;color:#555"><i>背</i><i>景</i><i>意</i><i>义</i></div>
 <div class="t bd" style="left:355px;top:20.5px;font-size:13.3px;font-weight:bold;color:#fff"><i>研</i><i>究</i><i>内</i><i>容</i></div>
 <div class="t bd" style="left:467.5px;top:20.5px;font-size:13.3px;font-weight:bold;color:#555"><i>当</i><i>前</i><i>进</i><i>度</i></div>
 <div class="t bd" style="left:580px;top:20.5px;font-size:13.3px;font-weight:bold;color:#555"><i>后</i><i>续</i><i>计</i><i>划</i></div>
 <!-- logo -->
 <svg style="left:-228px;top:-88px" width="1269" height="605">
    <g fill="none" stroke="#2f6f9c">
   <circle cx="270.6" cy="114.8" r="17.3" stroke-width="1.1"/>
   <circle cx="270.6" cy="114.8" r="13.6" stroke-width=".6" stroke-dasharray="1 1"/>
   <circle cx="270.6" cy="115" r="10.3" stroke-width="2.3"/>
  </g>
  <path d="M263.5 121.5h14.5l-2-3h-10.5z" fill="#2f6f9c"/>
  <path d="M270.6 106v12M266 109.5h9M265 112.5h11M264.5 118l4-5.5M276.5 118l-4-5.5" stroke="#2f6f9c" stroke-width="1.3" fill="none"/>
  <path d="M264 123.5a7.5 3 0 0 0 13.5 0" fill="#8fd0e8" stroke="none"/>
  <!-- calligraphy approximations -->
  <g fill="none" stroke="#2c6a96" stroke-linecap="round" stroke-linejoin="round">
   <path d="M297 100.5c.5 6-.5 13-5.5 20.5" stroke-width="2.1"/>
   <path d="M297.5 102.5l5-1.5M297.5 105.5l4.5-1M297 108.5l5.5-1.5M293 113.5l10-2M297.5 113.5c2 3 4 5.5 7 7M302 113l-3 3" stroke-width="1.5"/>
   <path d="M316 99.5l1.5 2.5M311 106l-1 2.5M311 105l12-1.5-1 2.5M318 106c-1 5-4 9-8.5 13M313 110l10-1.5M315.5 113c3 2 6 4 8.5 7.5" stroke-width="1.6"/>
   <path d="M330.5 108.5l11-2M336.5 100c.5 8-2 15-7 20.5M336.5 111c2 4 4 6.5 6 8.5" stroke-width="1.9"/>
   <path d="M350.5 100.5l1 2.5M354 100l.5 2.5M358.5 100l-1 3M348.5 105.5l12.5-1-1.5 2.5M351 109.5h8l-4 3M354.5 112.5v8.5l-2.5-1.5M348.5 116h13" stroke-width="1.5"/>
  </g>
  <text x="290" y="129.3" font-family="Liberation Serif" font-size="5.6" fill="#4b7ea3" textLength="72" lengthAdjust="spacingAndGlyphs">CHANG'AN UNIVERSITY</text>
 </svg>
 <!-- title -->
 <div class="t bd" style="left:64.5px;top:79px;font-size:16px;font-weight:bold;color:#4d4d4d">2.2 <i>网</i><i>络</i><i>模</i><i>型</i></div>
 <div class="a" style="left:28.5px;top:101.5px;width:159px;height:1px;background:#d6d6d6"></div>
 <!-- figure boxes -->
 <div class="a" style="left:20px;top:133px;width:480px;height:253px;background:#fff"></div>
 <div class="a" style="left:513px;top:180px;width:286px;height:110px;background:#fff"></div>
 <div class="t" style="left:199px;top:396.5px;font-size:14.5px;color:#333"><i>图</i><span style="font-family:'Liberation Serif',serif">1</span>&nbsp; <i>网</i><i>络</i><i>模</i><i>型</i><i>架</i><i>构</i></div>
 <div class="t" style="left:622px;top:301.5px;font-size:15px;color:#444"><i>图</i>2 <i>折</i><i>叠</i><i>操</i><i>作</i></div>
 <svg style="left:-228px;top:-88px" width="1269" height="605" font-family="Liberation Sans">
  <defs>
   <marker id="ah" markerWidth="5" markerHeight="5" refX="4.5" refY="2.5" orient="auto" markerUnits="userSpaceOnUse"><path d="M0 .8L4.5 2.5L0 4.2z" fill="#777"/></marker>
   <marker id="ahk" markerWidth="5" markerHeight="5" refX="4.5" refY="2.5" orient="auto" markerUnits="userSpaceOnUse"><path d="M0 .5L5 2.5L0 4.5z" fill="#222"/></marker>
   <linearGradient id="meat" x1="0" y1="0" x2="1" y2=".6"><stop offset="0" stop-color="#f39a8c"/><stop offset=".4" stop-color="#e05a52"/><stop offset=".75" stop-color="#c0303a"/><stop offset="1" stop-color="#9a1828"/></linearGradient>
   <linearGradient id="plane" x1="0" y1="0" x2="1" y2="0"><stop offset="0" stop-color="#f3c4c0"/><stop offset="1" stop-color="#d98080"/></linearGradient>
  </defs>
  <!-- encoder / decoder frames -->
  <rect x="253.7" y="225.6" width="467.1" height="104.4" rx="15" fill="#fcfefe" stroke="#82b2b6" stroke-width="1.2"/>
  <rect x="253.7" y="337.5" width="467.2" height="131.8" rx="15" fill="#fdfefb" stroke="#a6aa94" stroke-width="1.2"/>
  <g font-weight="bold" font-size="8.6" fill="#222" text-anchor="middle">
   <text x="329" y="238.6" font-style="italic" textLength="33" lengthAdjust="spacingAndGlyphs">Encoder</text>
   <text x="285" y="253.6" textLength="21.5" lengthAdjust="spacingAndGlyphs">Input</text>
   <text x="386.2" y="247.8" textLength="21" lengthAdjust="spacingAndGlyphs">Point</text>
   <text x="385.8" y="259.5" textLength="30" lengthAdjust="spacingAndGlyphs">feature</text>
   <text x="459.6" y="247.8" textLength="27" lengthAdjust="spacingAndGlyphs">Global</text>
   <text x="459.8" y="259.5" textLength="30" lengthAdjust="spacingAndGlyphs">feature</text>
   <text x="617" y="248" textLength="21.5" lengthAdjust="spacingAndGlyphs">Point</text>
   <text x="617" y="260" textLength="30" lengthAdjust="spacingAndGlyphs">feature</text>
   <text x="702.5" y="248" textLength="27" lengthAdjust="spacingAndGlyphs">Global</text>
   <text x="702.7" y="260" textLength="30" lengthAdjust="spacingAndGlyphs">feature</text>
   <text x="330" y="347.6" font-style="italic" textLength="34" lengthAdjust="spacingAndGlyphs">Decoder</text>
   <text x="286.2" y="362.4" textLength="53.8" lengthAdjust="spacingAndGlyphs">Ground truth</text>
   <text x="368.2" y="362.4" textLength="65.7" lengthAdjust="spacingAndGlyphs">Detailed output</text>
   <text x="588.2" y="362.2" textLength="58.7" lengthAdjust="spacingAndGlyphs">Coarse output</text>
   <text x="484.9" y="464.1" textLength="29.8" lengthAdjust="spacingAndGlyphs">2D grid</text>
   <text x="591.9" y="464.1" textLength="82.6" lengthAdjust="spacingAndGlyphs">Coarse ground truth</text>
  </g>
  <!-- math labels -->
  <g font-family="Liberation Serif" font-style="italic" fill="#777" text-anchor="middle">
   <text x="297" y="277.5" font-size="10">X</text>
   <text x="319.2" y="268" font-size="10">P</text>
   <text x="387.8" y="269.5" font-size="10">F</text>
   <text x="530.6" y="269" font-size="10">F</text>
   <text x="296" y="376" font-size="10">Y<tspan font-size="6" dy="2">gt</tspan></text>
   <text x="380" y="376" font-size="10">Y<tspan font-size="6" dy="2">detail</tspan></text>
   <text x="607" y="379" font-size="10">Y<tspan font-size="6" dy="2">coarse</tspan></text>
   <text x="614" y="435" font-size="10">Y<tspan font-size="6" dy="2">gt</tspan></text>
  </g>
  <path d="M527.5 261.5h6M610.5 426.5h6" stroke="#777" stroke-width=".6"/>
  <g font-family="Liberation Serif" font-weight="bold" fill="#333" text-anchor="middle" font-size="8">
   <text x="460" y="279">g</text><text x="701" y="283">v</text>
  </g>
  <!-- input plane point cloud -->
  <path d="M258 286c6-5 14-6 22-4 8 2 14 5 20 8l8 3-2 2-9-1c-6-2-12-3-18-3-7 0-14 0-21-1z" fill="url(#plane)" opacity=".85"/>
  <path d="M262 283c8-2 18-1 26 3" stroke="#e8a8a4" stroke-width="1" fill="none"/>
  <!-- stacks (encoder) -->
  <g stroke="#a9b6c6" stroke-width=".5">
   <rect x="309.8" y="272.2" width="16.1" height="8.3" fill="#dfe8f4"/><rect x="309.8" y="280.5" width="16.1" height="8.3" fill="#c9d9ee"/><rect x="309.8" y="288.8" width="16.1" height="8.3" fill="#a8c1e2"/><rect x="309.8" y="297.1" width="16.1" height="8.3" fill="#3f80c8"/>
   <rect x="374.2" y="272.2" width="26" height="8.2" fill="#dfe8f4"/><rect x="374.2" y="280.4" width="26" height="8.2" fill="#c9d9ee"/><rect x="374.2" y="288.6" width="26" height="8.2" fill="#a8c1e2"/><rect x="374.2" y="296.8" width="26" height="8.2" fill="#3f80c8"/>
   <rect x="504.8" y="272.5" width="25.4" height="8.25" fill="#616161" stroke="#8a8a8a"/><rect x="504.8" y="280.75" width="25.4" height="8.25" fill="#5c5c5c" stroke="#8a8a8a"/><rect x="504.8" y="289" width="25.4" height="8.25" fill="#616161" stroke="#8a8a8a"/><rect x="504.8" y="297.25" width="25.4" height="8.25" fill="#5c5c5c" stroke="#8a8a8a"/>
   <rect x="530.2" y="272.5" width="25.8" height="8.25" fill="#dfe8f4"/><rect x="530.2" y="280.75" width="25.8" height="8.25" fill="#c9d9ee"/><rect x="530.2" y="289" width="25.8" height="8.25" fill="#a8c1e2"/><rect x="530.2" y="297.25" width="25.8" height="8.25" fill="#3f80c8"/>
   <rect x="604" y="272.5" width="25.9" height="8.2" fill="#dfe8f4"/><rect x="604" y="280.7" width="25.9" height="8.2" fill="#c9d9ee"/><rect x="604" y="288.9" width="25.9" height="8.2" fill="#a8c1e2"/><rect x="604" y="297.1" width="25.9" height="8.2" fill="#3f80c8"/>
   <rect x="548.9" y="375.1" width="15.9" height="8.2" fill="#dfe8f4"/><rect x="548.9" y="383.3" width="15.9" height="8.2" fill="#c9d9ee"/><rect x="548.9" y="391.5" width="15.9" height="8.2" fill="#a8c1e2"/><rect x="548.9" y="399.7" width="15.9" height="8.3" fill="#3f80c8"/>
  </g>
  <!-- bars -->
  <rect x="447.6" y="285.2" width="26" height="7.6" fill="#686868"/>
  <rect x="687.7" y="285.3" width="26.9" height="7.8" fill="#686868"/>
  <!-- boxes -->
  <g fill="#fff" stroke="#1e1e1e" stroke-width="1.1">
   <rect x="336.3" y="258.2" width="27.7" height="60.4"/>
   <rect x="410.7" y="259.5" width="26" height="59.8"/>
   <rect x="481.4" y="259.5" width="12.6" height="59.9"/>
   <rect x="567.2" y="258.4" width="26.1" height="59.9"/>
   <rect x="646.4" y="259.4" width="26.2" height="60"/>
   <rect x="428.3" y="346.2" width="27.5" height="13.3"/>
   <rect x="517.7" y="340.6" width="21.7" height="16.9"/>
   <rect x="428.7" y="364.1" width="17.2" height="59.6"/>
   <rect x="517.7" y="383.3" width="21.7" height="17.2"/>
   <rect x="418.9" y="433.6" width="42.9" height="16.6"/>
   <rect x="628.2" y="385" width="67.4" height="13.9"/>
  </g>
  <g font-size="9.2" fill="#222" text-anchor="middle">
   <text transform="translate(353.5 288.4) rotate(-90)" textLength="48" lengthAdjust="spacingAndGlyphs">Shared MLP</text>
   <text transform="translate(421.5 289.4) rotate(-90)" textLength="45" lengthAdjust="spacingAndGlyphs">Point-wise</text>
   <text transform="translate(432 289.4) rotate(-90)" textLength="36" lengthAdjust="spacingAndGlyphs">Maxpool</text>
   <text transform="translate(491 289.4) rotate(-90)" textLength="32" lengthAdjust="spacingAndGlyphs">Expand</text>
   <text transform="translate(583.5 288.4) rotate(-90)" textLength="48" lengthAdjust="spacingAndGlyphs">Shared MLP</text>
   <text transform="translate(657.2 289.4) rotate(-90)" textLength="45" lengthAdjust="spacingAndGlyphs">Point-wise</text>
   <text transform="translate(667.8 289.4) rotate(-90)" textLength="36" lengthAdjust="spacingAndGlyphs">Maxpool</text>
   <text transform="translate(440.7 393.9) rotate(-90)" textLength="48" lengthAdjust="spacingAndGlyphs">Shared MLP</text>
   <text x="442" y="356.3" textLength="18" lengthAdjust="spacingAndGlyphs">Add</text>
   <text x="528.6" y="352.5" textLength="15" lengthAdjust="spacingAndGlyphs">Tile</text>
   <text x="528.6" y="395.3" textLength="15" lengthAdjust="spacingAndGlyphs">Tile</text>
   <text x="440.3" y="445.4" textLength="31" lengthAdjust="spacingAndGlyphs">Deform</text>
   <text x="661.9" y="395.4" textLength="59" lengthAdjust="spacingAndGlyphs">MLP+reshape</text>
   <text x="614.4" y="420.4" textLength="38.5" lengthAdjust="spacingAndGlyphs">CD / EMD</text>
   <text x="327.8" y="387.7" textLength="12" lengthAdjust="spacingAndGlyphs">CD</text>
  </g>
  <!-- connector lines -->
  <g fill="none" stroke="#6a6a6a" stroke-width=".8">
   <path d="M325.9 275.6h10.4M325.9 284.7h10.4M325.9 293.4h10.4M325.9 301.2h10.4"/>
   <path d="M364 275.6h10.2" marker-end="url(#ah)"/><path d="M364 284.7h10.2" marker-end="url(#ah)"/><path d="M364 293.4h10.2" marker-end="url(#ah)"/><path d="M364 301.2h10.2" marker-end="url(#ah)"/>
   <path d="M400.2 289h10.5M436.7 289h10.9M473.6 289h7.8"/>
   <path d="M494 289h10.8" marker-end="url(#ah)"/>
   <path d="M387 305v20.4h156v-19.9" marker-end="url(#ah)"/>
   <path d="M556 275.6h11.2M556 284.7h11.2M556 293.4h11.2M556 301.2h11.2"/>
   <path d="M593.3 275.6h10.7" marker-end="url(#ah)"/><path d="M593.3 284.7h10.7" marker-end="url(#ah)"/><path d="M593.3 293.4h10.7" marker-end="url(#ah)"/><path d="M593.3 301.2h10.7" marker-end="url(#ah)"/>
   <path d="M629.9 289h16.5"/>
   <path d="M672.6 289h15.1" marker-end="url(#ah)"/>
   <path d="M701.6 293.1v98.8h-6"/>
   <path d="M539.4 349.3h162.2"/>
   <path d="M517.7 349.3h-48.3v24" marker-end="url(#ah)"/>
   <path d="M428.3 353.2h-20.7v19.5" marker-end="url(#ah)"/>
   <path d="M455.8 353.2h41.2v20"/>
   <path d="M459.1 377.3h-13.2M459.1 383.7h-13.2M459.1 407h-13.2" />
   <path d="M428.7 377.3h-13.6" marker-end="url(#ah)"/><path d="M428.7 383.7h-13.6" marker-end="url(#ah)"/><path d="M428.7 407h-13.6" marker-end="url(#ah)"/>
   <path d="M517.7 391.9h-13.2" marker-end="url(#ah)"/>
   <path d="M548.9 391.9h-9.5"/>
   <path d="M628.2 392h-10" marker-end="url(#ah)"/>
   <path d="M484.5 435.3v-24.3" marker-end="url(#ah)"/>
   <path d="M479.2 442h-17.4" stroke-dasharray="1.5 1.2"/>
   <path d="M418.9 442h-12.5" stroke-dasharray="1.5 1.2" marker-end="url(#ah)"/>
   <path d="M341.6 392.5h-27.7" marker-end="url(#ah)"/>
   <path d="M589.8 409v17.7" marker-end="url(#ah)" marker-start="url(#ahs)"/>
   <path d="M385 405l5 26" stroke="#99aabb" stroke-dasharray="1 1"/>
  </g>
  <marker id="ahs" markerWidth="5" markerHeight="5" refX=".5" refY="2.5" orient="auto" markerUnits="userSpaceOnUse"><path d="M5 .8L.5 2.5L5 4.2z" fill="#777"/></marker>
  
  <g fill="#999"><circle cx="423.4" cy="388" r=".6"/><circle cx="423.4" cy="392" r=".6"/><circle cx="423.4" cy="396" r=".6"/><circle cx="452.6" cy="388" r=".6"/><circle cx="452.6" cy="392" r=".6"/><circle cx="452.6" cy="396" r=".6"/></g>
  <!-- meats -->
  <path d="M256 386C256 383 258 381.5 262 381L280 381C290 383 302 389 312 395L313 397C311 400 308 403 304 404C296 404 288 402.5 280 400C272 398 262 393 258 390Z" fill="url(#meat)"/><path d="M260 384c8-2 18-1 28 3" stroke="#f6b0a4" stroke-width="1.2" fill="none" opacity=".7"/>
  <path d="M343 386C343 383 345 381.5 349 381L367 381C377 383 389 389 399 395L400 397C398 400 395 403 391 404C383 404 375 402.5 367 400C359 398 349 393 345 390Z" fill="url(#meat)"/><path d="M347 384c8-2 18-1 28 3" stroke="#f6b0a4" stroke-width="1.2" fill="none" opacity=".7"/>
  <circle cx="385" cy="404" r="1.8" fill="none" stroke="#7a9ab8" stroke-width=".8"/>
  <!-- detail stack -->
  <rect x="400.3" y="372.7" width="14.8" height="2.5" fill="#dfe6ef"/>
<rect x="400.3" y="375.1" width="14.8" height="2.5" fill="#cdd9e6"/>
<rect x="400.3" y="377.4" width="14.8" height="2.5" fill="#d8e1ec"/>
<rect x="400.3" y="379.8" width="14.8" height="2.5" fill="#c3d2e2"/>
<rect x="400.3" y="382.2" width="14.8" height="2.5" fill="#d3deea"/>
<rect x="400.3" y="384.5" width="14.8" height="2.5" fill="#bccde0"/>
<rect x="400.3" y="386.9" width="14.8" height="2.5" fill="#c9d6e5"/>
<rect x="400.3" y="389.3" width="14.8" height="2.5" fill="#b3c6dc"/>
<rect x="400.3" y="391.6" width="14.8" height="2.5" fill="#c0d0e2"/>
<rect x="400.3" y="394" width="14.8" height="2.5" fill="#a9bfd8"/>
<rect x="400.3" y="396.4" width="14.8" height="2.5" fill="#b6c8de"/>
<rect x="400.3" y="398.8" width="14.8" height="2.5" fill="#3f6f9f"/>
<rect x="400.3" y="401.1" width="14.8" height="2.5" fill="#9db7d6"/>
<rect x="400.3" y="403.5" width="14.8" height="2.5" fill="#8fb0d4"/>
<rect x="400.3" y="405.9" width="14.8" height="2.5" fill="#5b8fc6"/>
<rect x="400.3" y="408.2" width="14.8" height="2.5" fill="#2f5f94"/>
<rect x="400.3" y="372.7" width="14.8" height="37.9" fill="none" stroke="#9aaabb" stroke-width=".5"/>
<rect x="459.1" y="373.3" width="21.2" height="2.5" fill="#6d6d6d"/>
<rect x="459.1" y="375.7" width="21.2" height="2.5" fill="#7a7a7a"/>
<rect x="459.1" y="378" width="21.2" height="2.5" fill="#6d6d6d"/>
<rect x="459.1" y="380.4" width="21.2" height="2.5" fill="#7a7a7a"/>
<rect x="459.1" y="382.7" width="21.2" height="2.5" fill="#6d6d6d"/>
<rect x="459.1" y="385.1" width="21.2" height="2.5" fill="#7a7a7a"/>
<rect x="459.1" y="387.4" width="21.2" height="2.5" fill="#6d6d6d"/>
<rect x="459.1" y="389.8" width="21.2" height="2.5" fill="#7a7a7a"/>
<rect x="459.1" y="392.1" width="21.2" height="2.5" fill="#6d6d6d"/>
<rect x="459.1" y="394.5" width="21.2" height="2.5" fill="#7a7a7a"/>
<rect x="459.1" y="396.9" width="21.2" height="2.5" fill="#6d6d6d"/>
<rect x="459.1" y="399.2" width="21.2" height="2.5" fill="#7a7a7a"/>
<rect x="459.1" y="401.6" width="21.2" height="2.5" fill="#6d6d6d"/>
<rect x="459.1" y="403.9" width="21.2" height="2.5" fill="#7a7a7a"/>
<rect x="459.1" y="406.3" width="21.2" height="2.5" fill="#6d6d6d"/>
<rect x="459.1" y="408.6" width="21.2" height="2.5" fill="#7a7a7a"/>
<rect x="480.3" y="373.3" width="9.7" height="2.5" fill="#f3b3b0"/>
<rect x="480.3" y="375.7" width="9.7" height="2.5" fill="#b3262a"/>
<rect x="480.3" y="378" width="9.7" height="2.5" fill="#f0a8a4"/>
<rect x="480.3" y="380.4" width="9.7" height="2.5" fill="#f4bcb8"/>
<rect x="480.3" y="382.7" width="9.7" height="2.5" fill="#e68a86"/>
<rect x="480.3" y="385.1" width="9.7" height="2.5" fill="#f2b0ac"/>
<rect x="480.3" y="387.4" width="9.7" height="2.5" fill="#c83a3c"/>
<rect x="480.3" y="389.8" width="9.7" height="2.5" fill="#f4bab6"/>
<rect x="480.3" y="392.1" width="9.7" height="2.5" fill="#eea09c"/>
<rect x="480.3" y="394.5" width="9.7" height="2.5" fill="#f5c0bc"/>
<rect x="480.3" y="396.9" width="9.7" height="2.5" fill="#b52c2e"/>
<rect x="480.3" y="399.2" width="9.7" height="2.5" fill="#f2aeaa"/>
<rect x="480.3" y="401.6" width="9.7" height="2.5" fill="#f4b8b4"/>
<rect x="480.3" y="403.9" width="9.7" height="2.5" fill="#c23234"/>
<rect x="480.3" y="406.3" width="9.7" height="2.5" fill="#e8908c"/>
<rect x="480.3" y="408.6" width="9.7" height="2.5" fill="#f6c6c2"/>
<rect x="490" y="373.3" width="14.5" height="2.5" fill="#dfe6ef"/>
<rect x="490" y="375.7" width="14.5" height="2.5" fill="#d3dde9"/>
<rect x="490" y="378" width="14.5" height="2.5" fill="#cdd9e6"/>
<rect x="490" y="380.4" width="14.5" height="2.5" fill="#c7d4e3"/>
<rect x="490" y="382.7" width="14.5" height="2.5" fill="#c1cfe0"/>
<rect x="490" y="385.1" width="14.5" height="2.5" fill="#bccbde"/>
<rect x="490" y="387.4" width="14.5" height="2.5" fill="#b6c7dc"/>
<rect x="490" y="389.8" width="14.5" height="2.5" fill="#b0c3da"/>
<rect x="490" y="392.1" width="14.5" height="2.5" fill="#a9bfd8"/>
<rect x="490" y="394.5" width="14.5" height="2.5" fill="#a2bad6"/>
<rect x="490" y="396.9" width="14.5" height="2.5" fill="#8fb0d4"/>
<rect x="490" y="399.2" width="14.5" height="2.5" fill="#7ea6d0"/>
<rect x="490" y="401.6" width="14.5" height="2.5" fill="#6b9acb"/>
<rect x="490" y="403.9" width="14.5" height="2.5" fill="#5a8fc7"/>
<rect x="490" y="406.3" width="14.5" height="2.5" fill="#4a84c2"/>
<rect x="490" y="408.6" width="14.5" height="2.5" fill="#3f7bbb"/>
<g stroke="#fff" stroke-width=".35" opacity=".6"><path d="M459.1 375.7h45.4"/><path d="M459.1 378h45.4"/><path d="M459.1 380.4h45.4"/><path d="M459.1 382.7h45.4"/><path d="M459.1 385.1h45.4"/><path d="M459.1 387.4h45.4"/><path d="M459.1 389.8h45.4"/><path d="M459.1 392.1h45.4"/><path d="M459.1 394.5h45.4"/><path d="M459.1 396.9h45.4"/><path d="M459.1 399.2h45.4"/><path d="M459.1 401.6h45.4"/><path d="M459.1 403.9h45.4"/><path d="M459.1 406.3h45.4"/><path d="M459.1 408.6h45.4"/></g>
  <!-- 2D grid -->
  <rect x="479.2" y="435.3" width="2.9" height="3" fill="rgb(190,80,80)"/><rect x="482.1" y="435.3" width="2.9" height="3" fill="rgb(179,45,45)"/><rect x="485" y="435.3" width="2.9" height="3" fill="rgb(211,23,23)"/><rect x="487.9" y="435.3" width="2.9" height="3" fill="rgb(174,72,72)"/><rect x="479.2" y="438.2" width="2.9" height="3" fill="rgb(204,26,26)"/><rect x="482.1" y="438.2" width="2.9" height="3" fill="rgb(193,57,57)"/><rect x="485" y="438.2" width="2.9" height="3" fill="rgb(173,78,78)"/><rect x="487.9" y="438.2" width="2.9" height="3" fill="rgb(202,33,33)"/><rect x="479.2" y="441.2" width="2.9" height="3" fill="rgb(172,25,25)"/><rect x="482.1" y="441.2" width="2.9" height="3" fill="rgb(197,46,46)"/><rect x="485" y="441.2" width="2.9" height="3" fill="rgb(174,35,35)"/><rect x="487.9" y="441.2" width="2.9" height="3" fill="rgb(175,55,55)"/><rect x="479.2" y="444.1" width="2.9" height="3" fill="rgb(197,23,23)"/><rect x="482.1" y="444.1" width="2.9" height="3" fill="rgb(222,56,56)"/><rect x="485" y="444.1" width="2.9" height="3" fill="rgb(177,80,80)"/><rect x="487.9" y="444.1" width="2.9" height="3" fill="rgb(184,60,60)"/>
  <ellipse cx="593" cy="393" rx="23" ry="7.5" transform="rotate(14 593 393)" fill="#f6dde0" opacity=".7"/>
<circle cx="606.2" cy="392.6" r="0.5" fill="#a83242"/><circle cx="592.2" cy="390.9" r="0.4" fill="#a83242"/><circle cx="588.9" cy="396" r="0.4" fill="#a83242"/><circle cx="581" cy="394.6" r="0.6" fill="#c44a5a"/><circle cx="570.8" cy="388" r="0.7" fill="#a83242"/><circle cx="603.4" cy="396.1" r="0.7" fill="#a83242"/><circle cx="596" cy="391.4" r="0.6" fill="#a83242"/><circle cx="587.6" cy="398.1" r="0.7" fill="#c44a5a"/><circle cx="584.4" cy="394.2" r="0.6" fill="#a83242"/><circle cx="591.8" cy="399.1" r="0.4" fill="#e6a0a8"/><circle cx="595.7" cy="399.6" r="0.7" fill="#eab8be"/><circle cx="586.7" cy="396.9" r="0.5" fill="#a83242"/><circle cx="590.2" cy="387.2" r="0.6" fill="#e6a0a8"/><circle cx="573.2" cy="390.5" r="0.4" fill="#d8707c"/><circle cx="594.4" cy="391.7" r="0.5" fill="#c44a5a"/><circle cx="592.3" cy="389.9" r="0.7" fill="#eab8be"/><circle cx="597.7" cy="392.6" r="0.4" fill="#eab8be"/><circle cx="595.6" cy="392.2" r="0.5" fill="#eab8be"/><circle cx="584.7" cy="397.2" r="0.6" fill="#eab8be"/><circle cx="605" cy="401" r="0.7" fill="#eab8be"/><circle cx="607.3" cy="396.9" r="0.6" fill="#a83242"/><circle cx="614" cy="398.1" r="0.5" fill="#eab8be"/><circle cx="579" cy="389.5" r="0.5" fill="#e6a0a8"/><circle cx="593.8" cy="397.6" r="0.5" fill="#eab8be"/><circle cx="577.7" cy="390.4" r="0.7" fill="#eab8be"/><circle cx="605.6" cy="401.1" r="0.5" fill="#c44a5a"/><circle cx="582.8" cy="384.4" r="0.6" fill="#e6a0a8"/><circle cx="584.5" cy="385.7" r="0.5" fill="#d8707c"/><circle cx="599.7" cy="397" r="0.5" fill="#e6a0a8"/><circle cx="594.3" cy="387.4" r="0.5" fill="#e6a0a8"/><circle cx="590.5" cy="387.5" r="0.4" fill="#eab8be"/><circle cx="588.1" cy="399.1" r="0.4" fill="#a83242"/><circle cx="575.7" cy="392" r="0.4" fill="#eab8be"/><circle cx="601.1" cy="395.8" r="0.4" fill="#eab8be"/><circle cx="590.6" cy="392.8" r="0.4" fill="#eab8be"/><circle cx="606.5" cy="398.9" r="0.5" fill="#e6a0a8"/><circle cx="576.7" cy="384.4" r="0.4" fill="#c44a5a"/><circle cx="610.4" cy="394.5" r="0.7" fill="#d8707c"/><circle cx="590" cy="388.4" r="0.4" fill="#c44a5a"/><circle cx="598.3" cy="390" r="0.7" fill="#a83242"/><circle cx="576.4" cy="394.4" r="0.7" fill="#eab8be"/><circle cx="593.9" cy="391.3" r="0.5" fill="#d8707c"/><circle cx="594.9" cy="399.6" r="0.6" fill="#a83242"/><circle cx="574" cy="390.7" r="0.5" fill="#a83242"/><circle cx="570.1" cy="388.9" r="0.5" fill="#e6a0a8"/><circle cx="606.7" cy="394" r="0.4" fill="#c44a5a"/><circle cx="584.3" cy="396.7" r="0.6" fill="#a83242"/><circle cx="605.3" cy="396.7" r="0.4" fill="#c44a5a"/><circle cx="604.7" cy="397.5" r="0.7" fill="#e6a0a8"/><circle cx="586.9" cy="385.5" r="0.4" fill="#eab8be"/><circle cx="605.2" cy="399.4" r="0.5" fill="#eab8be"/><circle cx="596.8" cy="387.9" r="0.4" fill="#c44a5a"/><circle cx="574.8" cy="389.7" r="0.7" fill="#c44a5a"/><circle cx="597.3" cy="389.8" r="0.4" fill="#e6a0a8"/><circle cx="587.5" cy="388.4" r="0.6" fill="#c44a5a"/><circle cx="591.9" cy="389.3" r="0.7" fill="#e6a0a8"/><circle cx="590.8" cy="386.5" r="0.4" fill="#d8707c"/><circle cx="575.9" cy="394" r="0.5" fill="#a83242"/><circle cx="607.1" cy="397.3" r="0.7" fill="#eab8be"/><circle cx="581.6" cy="389.7" r="0.4" fill="#e6a0a8"/><circle cx="597.7" cy="393.4" r="0.5" fill="#c44a5a"/><circle cx="573.4" cy="385.2" r="0.6" fill="#a83242"/><circle cx="576" cy="384.2" r="0.6" fill="#eab8be"/><circle cx="610.2" cy="396.9" r="0.5" fill="#d8707c"/><circle cx="595.6" cy="390.7" r="0.4" fill="#c44a5a"/><circle cx="606.3" cy="390.1" r="0.6" fill="#e6a0a8"/><circle cx="613.9" cy="396.6" r="0.5" fill="#e6a0a8"/><circle cx="577.3" cy="393.5" r="0.6" fill="#e6a0a8"/><circle cx="582.7" cy="384.2" r="0.6" fill="#eab8be"/><circle cx="575.1" cy="384.1" r="0.7" fill="#a83242"/><circle cx="572.9" cy="388.7" r="0.4" fill="#c44a5a"/><circle cx="605.2" cy="393.9" r="0.5" fill="#d8707c"/><circle cx="573.4" cy="392.3" r="0.5" fill="#eab8be"/><circle cx="608.6" cy="394.2" r="0.4" fill="#eab8be"/><circle cx="608.2" cy="398.5" r="0.4" fill="#d8707c"/><circle cx="603.7" cy="398.7" r="0.4" fill="#a83242"/><circle cx="596.4" cy="386.9" r="0.7" fill="#d8707c"/><circle cx="595.1" cy="394.2" r="0.7" fill="#a83242"/><circle cx="577.8" cy="388.9" r="0.7" fill="#a83242"/><circle cx="601.6" cy="396.4" r="0.6" fill="#d8707c"/><circle cx="580.6" cy="394.9" r="0.5" fill="#a83242"/><circle cx="593.5" cy="388.1" r="0.5" fill="#a83242"/><circle cx="612.5" cy="400.1" r="0.4" fill="#e6a0a8"/><circle cx="592.8" cy="392.6" r="0.4" fill="#a83242"/><circle cx="585" cy="392.7" r="0.6" fill="#e6a0a8"/><circle cx="611.6" cy="401.8" r="0.6" fill="#e6a0a8"/><circle cx="576.2" cy="392.8" r="0.7" fill="#e6a0a8"/><circle cx="584.4" cy="387.7" r="0.6" fill="#d8707c"/><circle cx="601.5" cy="398.8" r="0.6" fill="#c44a5a"/><circle cx="597.5" cy="389.1" r="0.5" fill="#d8707c"/><circle cx="612.7" cy="401.4" r="0.7" fill="#a83242"/><circle cx="600.6" cy="398.3" r="0.5" fill="#eab8be"/><circle cx="608.9" cy="397.7" r="0.7" fill="#eab8be"/><circle cx="599.8" cy="391.1" r="0.7" fill="#d8707c"/><circle cx="614.4" cy="400.3" r="0.7" fill="#c44a5a"/><circle cx="588.9" cy="398.5" r="0.7" fill="#a83242"/><circle cx="586.7" cy="397.7" r="0.5" fill="#eab8be"/><circle cx="574.9" cy="389.9" r="0.5" fill="#c44a5a"/><circle cx="601.3" cy="391.7" r="0.5" fill="#eab8be"/><circle cx="591.9" cy="385.3" r="0.6" fill="#eab8be"/><circle cx="581.9" cy="386.5" r="0.4" fill="#d8707c"/><circle cx="595.8" cy="390.2" r="0.6" fill="#e6a0a8"/><circle cx="608.7" cy="396.2" r="0.7" fill="#d8707c"/><circle cx="595.1" cy="393.4" r="0.7" fill="#d8707c"/><circle cx="596.7" cy="392.1" r="0.5" fill="#c44a5a"/><circle cx="598" cy="386.7" r="0.5" fill="#d8707c"/><circle cx="573.7" cy="386.1" r="0.7" fill="#a83242"/><circle cx="593.7" cy="391" r="0.6" fill="#c44a5a"/><circle cx="574.7" cy="391.7" r="0.5" fill="#eab8be"/><circle cx="587.3" cy="395.9" r="0.6" fill="#a83242"/><circle cx="587.3" cy="392.4" r="0.7" fill="#eab8be"/><circle cx="602.5" cy="399.1" r="0.6" fill="#d8707c"/><circle cx="615.8" cy="398.2" r="0.7" fill="#a83242"/><circle cx="612.6" cy="401.3" r="0.7" fill="#d8707c"/><circle cx="590" cy="394.9" r="0.4" fill="#eab8be"/><circle cx="589.9" cy="390.7" r="0.7" fill="#eab8be"/><circle cx="576" cy="393" r="0.5" fill="#e6a0a8"/><circle cx="608.1" cy="401" r="0.7" fill="#eab8be"/><circle cx="607.2" cy="395.3" r="0.6" fill="#e6a0a8"/><circle cx="575.6" cy="393.7" r="0.5" fill="#a83242"/><circle cx="594.3" cy="389.8" r="0.4" fill="#eab8be"/><circle cx="589.9" cy="390" r="0.6" fill="#c44a5a"/><circle cx="576.6" cy="392.1" r="0.4" fill="#c44a5a"/><circle cx="587.7" cy="394.6" r="0.6" fill="#d8707c"/><circle cx="595.3" cy="389.5" r="0.5" fill="#c44a5a"/><circle cx="594.6" cy="391.4" r="0.6" fill="#c44a5a"/><circle cx="577" cy="391.3" r="0.6" fill="#eab8be"/><circle cx="581.9" cy="391.9" r="0.4" fill="#eab8be"/><circle cx="588.4" cy="391.6" r="0.5" fill="#eab8be"/><circle cx="586.1" cy="386.9" r="0.7" fill="#d8707c"/><circle cx="611.1" cy="399.5" r="0.5" fill="#a83242"/><circle cx="583.8" cy="384" r="0.6" fill="#eab8be"/><circle cx="588.8" cy="398.3" r="0.6" fill="#eab8be"/><circle cx="613.9" cy="397.7" r="0.4" fill="#d8707c"/><circle cx="611.5" cy="396.8" r="0.5" fill="#a83242"/><circle cx="580.1" cy="393.1" r="0.6" fill="#e6a0a8"/><circle cx="583.1" cy="397.1" r="0.7" fill="#c44a5a"/><circle cx="572" cy="389.1" r="0.7" fill="#d8707c"/><circle cx="601.5" cy="395.1" r="0.6" fill="#eab8be"/><circle cx="589.7" cy="394.7" r="0.5" fill="#eab8be"/><circle cx="603.5" cy="389.4" r="0.5" fill="#a83242"/><circle cx="589.7" cy="396" r="0.7" fill="#d8707c"/><circle cx="608" cy="396.3" r="0.6" fill="#d8707c"/><circle cx="591.7" cy="388.9" r="0.5" fill="#c44a5a"/><circle cx="610.3" cy="394.6" r="0.5" fill="#eab8be"/><circle cx="584.2" cy="386.1" r="0.4" fill="#d8707c"/><circle cx="586.4" cy="397.1" r="0.6" fill="#eab8be"/><circle cx="588.8" cy="386.2" r="0.5" fill="#e6a0a8"/><circle cx="570.5" cy="389.4" r="0.6" fill="#d8707c"/><circle cx="601" cy="393.3" r="0.6" fill="#e6a0a8"/><circle cx="600.5" cy="390.9" r="0.4" fill="#eab8be"/><circle cx="578.2" cy="388.1" r="0.6" fill="#eab8be"/><circle cx="595" cy="394.1" r="0.6" fill="#eab8be"/><circle cx="588.9" cy="394.5" r="0.6" fill="#eab8be"/><circle cx="602.3" cy="399.3" r="0.5" fill="#c44a5a"/><circle cx="608.2" cy="402.3" r="0.4" fill="#c44a5a"/><circle cx="612.1" cy="398.1" r="0.6" fill="#c44a5a"/><circle cx="594.7" cy="392.6" r="0.4" fill="#a83242"/><circle cx="603.8" cy="401.9" r="0.5" fill="#eab8be"/><circle cx="583.2" cy="386.6" r="0.5" fill="#e6a0a8"/><circle cx="571.8" cy="385.8" r="0.6" fill="#e6a0a8"/><circle cx="604.8" cy="392.3" r="0.5" fill="#c44a5a"/><circle cx="610.3" cy="394.4" r="0.5" fill="#d8707c"/><circle cx="594.2" cy="388.8" r="0.7" fill="#eab8be"/><circle cx="598.4" cy="388.3" r="0.6" fill="#a83242"/><circle cx="593.9" cy="394.1" r="0.7" fill="#eab8be"/><circle cx="602.2" cy="395.9" r="0.7" fill="#e6a0a8"/><circle cx="605.4" cy="391.5" r="0.5" fill="#e6a0a8"/><circle cx="574.8" cy="386" r="0.6" fill="#c44a5a"/><circle cx="582.6" cy="395" r="0.6" fill="#a83242"/><circle cx="584.2" cy="388.5" r="0.5" fill="#eab8be"/><circle cx="593" cy="393.4" r="0.4" fill="#e6a0a8"/><circle cx="606" cy="397.4" r="0.5" fill="#e6a0a8"/><circle cx="590.5" cy="398.8" r="0.7" fill="#a83242"/><circle cx="575.9" cy="389" r="0.6" fill="#e6a0a8"/><circle cx="605.5" cy="399.3" r="0.6" fill="#e6a0a8"/><circle cx="587.7" cy="388.7" r="0.6" fill="#e6a0a8"/><circle cx="595.7" cy="388.6" r="0.4" fill="#d8707c"/><circle cx="594.4" cy="399.7" r="0.4" fill="#a83242"/><circle cx="613" cy="400" r="0.7" fill="#eab8be"/><circle cx="600.6" cy="398.3" r="0.4" fill="#c44a5a"/><circle cx="599" cy="395" r="0.4" fill="#c44a5a"/><circle cx="607.7" cy="392.4" r="0.7" fill="#eab8be"/><circle cx="585.6" cy="396.5" r="0.6" fill="#e6a0a8"/><circle cx="581.1" cy="385.3" r="0.5" fill="#d8707c"/><circle cx="588.9" cy="394.7" r="0.6" fill="#d8707c"/><circle cx="606" cy="399.8" r="0.7" fill="#e6a0a8"/><circle cx="594.9" cy="391.6" r="0.7" fill="#c44a5a"/><circle cx="587.1" cy="397.4" r="0.7" fill="#eab8be"/><circle cx="590.1" cy="390" r="0.7" fill="#c44a5a"/><circle cx="579.3" cy="386.4" r="0.6" fill="#c44a5a"/><circle cx="593.7" cy="398.2" r="0.6" fill="#e6a0a8"/><circle cx="614.7" cy="399.2" r="0.6" fill="#eab8be"/><circle cx="583.2" cy="389.1" r="0.7" fill="#eab8be"/><circle cx="588.3" cy="393.8" r="0.5" fill="#e6a0a8"/><circle cx="576" cy="387.8" r="0.4" fill="#d8707c"/><circle cx="588.9" cy="394.4" r="0.4" fill="#a83242"/><circle cx="586.8" cy="398.2" r="0.7" fill="#c44a5a"/><circle cx="609.5" cy="395.4" r="0.5" fill="#e6a0a8"/><circle cx="598" cy="399.7" r="0.7" fill="#a83242"/><circle cx="592.4" cy="386.9" r="0.5" fill="#a83242"/><circle cx="608.1" cy="394.8" r="0.4" fill="#e6a0a8"/><circle cx="614.2" cy="397.1" r="0.7" fill="#e6a0a8"/><circle cx="603.4" cy="398.6" r="0.5" fill="#a83242"/><circle cx="578.5" cy="394.4" r="0.7" fill="#a83242"/><circle cx="604.6" cy="389.6" r="0.4" fill="#d8707c"/><circle cx="581.6" cy="389.8" r="0.7" fill="#a83242"/><circle cx="601.1" cy="390.2" r="0.4" fill="#a83242"/><circle cx="595.2" cy="394.1" r="0.5" fill="#c44a5a"/><circle cx="603.2" cy="398.4" r="0.7" fill="#c44a5a"/><circle cx="576.9" cy="393.6" r="0.6" fill="#c44a5a"/><circle cx="605.7" cy="399" r="0.4" fill="#a83242"/><circle cx="575.7" cy="387.8" r="0.6" fill="#a83242"/><circle cx="586.2" cy="397.5" r="0.4" fill="#eab8be"/><circle cx="580.8" cy="393.7" r="0.7" fill="#eab8be"/><circle cx="583.2" cy="390.4" r="0.7" fill="#eab8be"/><circle cx="597.4" cy="399.7" r="0.4" fill="#e6a0a8"/><circle cx="582" cy="390.8" r="0.5" fill="#c44a5a"/><circle cx="581.2" cy="386.5" r="0.6" fill="#a83242"/><circle cx="577.5" cy="385.3" r="0.5" fill="#eab8be"/><circle cx="608.5" cy="397.1" r="0.7" fill="#e6a0a8"/><circle cx="582" cy="393.2" r="0.5" fill="#d8707c"/><circle cx="592.6" cy="394.4" r="0.4" fill="#d8707c"/><circle cx="599.1" cy="389.6" r="0.7" fill="#a83242"/><circle cx="596.3" cy="387" r="0.5" fill="#d8707c"/><circle cx="598.6" cy="399.3" r="0.7" fill="#e6a0a8"/><circle cx="598.8" cy="394.2" r="0.4" fill="#d8707c"/><circle cx="603.2" cy="391.4" r="0.6" fill="#c44a5a"/><circle cx="595.2" cy="396.4" r="0.4" fill="#d8707c"/><circle cx="592.5" cy="395.4" r="0.5" fill="#e6a0a8"/><circle cx="583.5" cy="392.4" r="0.4" fill="#d8707c"/><circle cx="582.3" cy="392.2" r="0.7" fill="#e6a0a8"/><circle cx="597.6" cy="394.5" r="0.4" fill="#e6a0a8"/><circle cx="587.3" cy="385.6" r="0.7" fill="#d8707c"/><circle cx="603.1" cy="388.5" r="0.4" fill="#c44a5a"/><circle cx="584.6" cy="387" r="0.6" fill="#e6a0a8"/><circle cx="586.7" cy="398.1" r="0.6" fill="#d8707c"/><circle cx="574.7" cy="385.7" r="0.4" fill="#e6a0a8"/><circle cx="604.8" cy="390.2" r="0.7" fill="#e6a0a8"/><circle cx="587.9" cy="394.5" r="0.6" fill="#eab8be"/><circle cx="592.2" cy="391.5" r="0.7" fill="#e6a0a8"/><circle cx="611" cy="399.7" r="0.6" fill="#c44a5a"/><circle cx="599.1" cy="388.5" r="0.4" fill="#a83242"/><circle cx="593.2" cy="399.9" r="0.5" fill="#d8707c"/><circle cx="590" cy="386.1" r="0.5" fill="#eab8be"/><circle cx="586.4" cy="392.2" r="0.7" fill="#eab8be"/><circle cx="583.4" cy="393.4" r="0.4" fill="#eab8be"/><circle cx="578.5" cy="394.6" r="0.7" fill="#e6a0a8"/><circle cx="587.5" cy="388.4" r="0.4" fill="#a83242"/><circle cx="608.8" cy="395.6" r="0.7" fill="#d8707c"/><circle cx="581.7" cy="392.7" r="0.7" fill="#eab8be"/><circle cx="613.9" cy="398.9" r="0.4" fill="#d8707c"/><circle cx="587.2" cy="392.5" r="0.7" fill="#a83242"/><circle cx="571.4" cy="386.4" r="0.6" fill="#e6a0a8"/><circle cx="613.5" cy="396.8" r="0.6" fill="#c44a5a"/><circle cx="573.3" cy="392.3" r="0.6" fill="#c44a5a"/><circle cx="606.3" cy="401.5" r="0.6" fill="#eab8be"/><circle cx="593.9" cy="391" r="0.5" fill="#eab8be"/><circle cx="611.4" cy="400.1" r="0.7" fill="#d8707c"/><circle cx="612.4" cy="399.8" r="0.4" fill="#e6a0a8"/>
<ellipse cx="592" cy="441" rx="23" ry="7.5" transform="rotate(14 592 441)" fill="#f6dde0" opacity=".7"/>
<circle cx="606.4" cy="448.3" r="0.6" fill="#e6a0a8"/><circle cx="581.8" cy="433.9" r="0.4" fill="#d8707c"/><circle cx="604.5" cy="449.8" r="0.6" fill="#e6a0a8"/><circle cx="594.2" cy="440.7" r="0.5" fill="#c44a5a"/><circle cx="609.4" cy="443.3" r="0.7" fill="#a83242"/><circle cx="587.1" cy="445.7" r="0.4" fill="#d8707c"/><circle cx="585.4" cy="433.7" r="0.6" fill="#eab8be"/><circle cx="601.1" cy="438.4" r="0.7" fill="#a83242"/><circle cx="601.2" cy="449.6" r="0.7" fill="#eab8be"/><circle cx="602.8" cy="447.1" r="0.5" fill="#eab8be"/><circle cx="581.4" cy="434.9" r="0.5" fill="#eab8be"/><circle cx="607.6" cy="442.7" r="0.7" fill="#a83242"/><circle cx="584.4" cy="442.5" r="0.6" fill="#a83242"/><circle cx="592.4" cy="436.8" r="0.5" fill="#d8707c"/><circle cx="608.7" cy="447.1" r="0.7" fill="#a83242"/><circle cx="581.6" cy="445.4" r="0.6" fill="#eab8be"/><circle cx="594.8" cy="441.8" r="0.6" fill="#a83242"/><circle cx="584.5" cy="434.6" r="0.6" fill="#eab8be"/><circle cx="608.3" cy="449.6" r="0.5" fill="#c44a5a"/><circle cx="599.8" cy="439.5" r="0.4" fill="#c44a5a"/><circle cx="604.9" cy="438.7" r="0.5" fill="#d8707c"/><circle cx="609.2" cy="449.4" r="0.4" fill="#e6a0a8"/><circle cx="576.4" cy="439.7" r="0.4" fill="#c44a5a"/><circle cx="607.5" cy="439.7" r="0.4" fill="#c44a5a"/><circle cx="588.5" cy="433" r="0.7" fill="#d8707c"/><circle cx="611.5" cy="448" r="0.6" fill="#e6a0a8"/><circle cx="586.3" cy="432.3" r="0.5" fill="#eab8be"/><circle cx="601.4" cy="449.6" r="0.7" fill="#eab8be"/><circle cx="601.5" cy="443" r="0.4" fill="#e6a0a8"/><circle cx="591.8" cy="445.3" r="0.5" fill="#e6a0a8"/><circle cx="580.6" cy="439.7" r="0.5" fill="#c44a5a"/><circle cx="600.7" cy="439.4" r="0.4" fill="#d8707c"/><circle cx="573.1" cy="438.3" r="0.6" fill="#c44a5a"/><circle cx="590.4" cy="436.7" r="0.6" fill="#eab8be"/><circle cx="604.8" cy="446.2" r="0.5" fill="#a83242"/><circle cx="581" cy="442.1" r="0.4" fill="#a83242"/><circle cx="589.3" cy="434.3" r="0.6" fill="#d8707c"/><circle cx="604.9" cy="438.2" r="0.4" fill="#a83242"/><circle cx="589.8" cy="441" r="0.5" fill="#d8707c"/><circle cx="602.7" cy="442.7" r="0.6" fill="#eab8be"/><circle cx="594.7" cy="447.6" r="0.7" fill="#eab8be"/><circle cx="606.3" cy="442.6" r="0.6" fill="#c44a5a"/><circle cx="597.8" cy="439.2" r="0.7" fill="#e6a0a8"/><circle cx="581.9" cy="444.2" r="0.5" fill="#c44a5a"/><circle cx="581.9" cy="443.7" r="0.6" fill="#c44a5a"/><circle cx="598.4" cy="442.1" r="0.7" fill="#eab8be"/><circle cx="573.4" cy="432.9" r="0.5" fill="#c44a5a"/><circle cx="579.2" cy="437.6" r="0.4" fill="#e6a0a8"/><circle cx="587.2" cy="439.2" r="0.7" fill="#a83242"/><circle cx="610.6" cy="441.9" r="0.4" fill="#eab8be"/><circle cx="607.4" cy="447.1" r="0.7" fill="#c44a5a"/><circle cx="603.8" cy="447.5" r="0.5" fill="#e6a0a8"/><circle cx="586.4" cy="439.3" r="0.7" fill="#a83242"/><circle cx="583.7" cy="434.7" r="0.5" fill="#e6a0a8"/><circle cx="593.5" cy="444.4" r="0.6" fill="#c44a5a"/><circle cx="594.7" cy="446.6" r="0.4" fill="#e6a0a8"/><circle cx="577.1" cy="437.9" r="0.7" fill="#c44a5a"/><circle cx="599.1" cy="447.6" r="0.4" fill="#e6a0a8"/><circle cx="586.2" cy="442.8" r="0.7" fill="#e6a0a8"/><circle cx="589.1" cy="440.6" r="0.4" fill="#eab8be"/><circle cx="589.2" cy="437.6" r="0.4" fill="#eab8be"/><circle cx="579.5" cy="443.9" r="0.5" fill="#d8707c"/><circle cx="604.6" cy="445.4" r="0.4" fill="#a83242"/><circle cx="600.8" cy="448" r="0.5" fill="#d8707c"/><circle cx="588.8" cy="433.3" r="0.5" fill="#e6a0a8"/><circle cx="600" cy="449.8" r="0.6" fill="#a83242"/><circle cx="585.5" cy="440.1" r="0.6" fill="#c44a5a"/><circle cx="602.6" cy="449.2" r="0.4" fill="#eab8be"/><circle cx="576.6" cy="442" r="0.5" fill="#c44a5a"/><circle cx="583.4" cy="439.2" r="0.7" fill="#a83242"/><circle cx="597.7" cy="447.3" r="0.4" fill="#d8707c"/><circle cx="602.1" cy="445.2" r="0.7" fill="#c44a5a"/><circle cx="586.8" cy="440.6" r="0.7" fill="#e6a0a8"/><circle cx="602.8" cy="445.1" r="0.4" fill="#eab8be"/><circle cx="575.1" cy="438.4" r="0.5" fill="#e6a0a8"/><circle cx="593.8" cy="436.4" r="0.6" fill="#c44a5a"/><circle cx="583.7" cy="445.2" r="0.6" fill="#c44a5a"/><circle cx="603.7" cy="443.7" r="0.6" fill="#e6a0a8"/><circle cx="588.7" cy="446" r="0.5" fill="#c44a5a"/><circle cx="597.7" cy="440.1" r="0.7" fill="#a83242"/><circle cx="580.4" cy="440" r="0.7" fill="#d8707c"/><circle cx="571.7" cy="435.8" r="0.7" fill="#e6a0a8"/><circle cx="577.1" cy="433.8" r="0.5" fill="#c44a5a"/><circle cx="585.8" cy="440" r="0.5" fill="#a83242"/><circle cx="577.9" cy="440.1" r="0.5" fill="#d8707c"/><circle cx="591.1" cy="441.4" r="0.7" fill="#c44a5a"/><circle cx="581.7" cy="435.5" r="0.5" fill="#e6a0a8"/><circle cx="599.4" cy="441.2" r="0.7" fill="#c44a5a"/><circle cx="593.5" cy="436.9" r="0.6" fill="#d8707c"/><circle cx="605.1" cy="446.3" r="0.5" fill="#d8707c"/><circle cx="612.2" cy="447.1" r="0.6" fill="#c44a5a"/><circle cx="607" cy="442.9" r="0.5" fill="#e6a0a8"/><circle cx="586.1" cy="436.9" r="0.5" fill="#a83242"/><circle cx="590.1" cy="437.3" r="0.7" fill="#a83242"/><circle cx="582.9" cy="433.4" r="0.7" fill="#a83242"/><circle cx="577.2" cy="440" r="0.5" fill="#e6a0a8"/><circle cx="581.3" cy="439" r="0.5" fill="#e6a0a8"/><circle cx="581.2" cy="441.6" r="0.6" fill="#eab8be"/><circle cx="599" cy="449.7" r="0.6" fill="#e6a0a8"/><circle cx="592.9" cy="443.4" r="0.4" fill="#e6a0a8"/><circle cx="588.4" cy="435.1" r="0.7" fill="#e6a0a8"/><circle cx="590.8" cy="434.3" r="0.7" fill="#e6a0a8"/><circle cx="571.1" cy="433.3" r="0.5" fill="#a83242"/><circle cx="606.5" cy="446.2" r="0.6" fill="#a83242"/><circle cx="599.6" cy="437.5" r="0.5" fill="#a83242"/><circle cx="579.5" cy="433.9" r="0.5" fill="#e6a0a8"/><circle cx="600.6" cy="446.7" r="0.4" fill="#e6a0a8"/><circle cx="598.3" cy="444.3" r="0.7" fill="#d8707c"/><circle cx="608.2" cy="444.1" r="0.7" fill="#d8707c"/><circle cx="583.6" cy="440" r="0.4" fill="#eab8be"/><circle cx="590.2" cy="446.3" r="0.6" fill="#eab8be"/><circle cx="596.1" cy="443.4" r="0.6" fill="#a83242"/><circle cx="590.3" cy="439.2" r="0.6" fill="#c44a5a"/><circle cx="609.4" cy="444.7" r="0.6" fill="#c44a5a"/><circle cx="611.3" cy="448.7" r="0.7" fill="#c44a5a"/><circle cx="587.3" cy="439.1" r="0.6" fill="#e6a0a8"/><circle cx="574.6" cy="434.2" r="0.4" fill="#d8707c"/><circle cx="586.9" cy="447.2" r="0.5" fill="#a83242"/><circle cx="580.3" cy="437.7" r="0.6" fill="#d8707c"/><circle cx="600.8" cy="443.9" r="0.4" fill="#eab8be"/><circle cx="592.4" cy="443.9" r="0.7" fill="#d8707c"/><circle cx="594.8" cy="437.8" r="0.5" fill="#c44a5a"/><circle cx="596.8" cy="444.2" r="0.5" fill="#a83242"/><circle cx="609.6" cy="448.9" r="0.6" fill="#d8707c"/><circle cx="591.3" cy="446" r="0.4" fill="#d8707c"/><circle cx="578.2" cy="432.9" r="0.5" fill="#d8707c"/><circle cx="589.1" cy="438.7" r="0.7" fill="#c44a5a"/><circle cx="594.9" cy="441.3" r="0.5" fill="#a83242"/><circle cx="600.5" cy="446.3" r="0.6" fill="#c44a5a"/><circle cx="595.7" cy="445.8" r="0.4" fill="#a83242"/><circle cx="595.1" cy="444" r="0.6" fill="#e6a0a8"/><circle cx="601.3" cy="443" r="0.4" fill="#d8707c"/><circle cx="606.9" cy="446.3" r="0.4" fill="#d8707c"/><circle cx="599.3" cy="449.3" r="0.7" fill="#c44a5a"/><circle cx="591.1" cy="437.6" r="0.4" fill="#e6a0a8"/><circle cx="602" cy="440.1" r="0.7" fill="#eab8be"/><circle cx="601.4" cy="436.2" r="0.5" fill="#c44a5a"/><circle cx="597.3" cy="446" r="0.7" fill="#c44a5a"/><circle cx="579.6" cy="435.3" r="0.6" fill="#a83242"/><circle cx="595.3" cy="445.7" r="0.7" fill="#a83242"/><circle cx="603.7" cy="447" r="0.7" fill="#a83242"/><circle cx="586.2" cy="441.3" r="0.6" fill="#eab8be"/><circle cx="592.1" cy="436.2" r="0.5" fill="#eab8be"/><circle cx="586.2" cy="432.9" r="0.5" fill="#a83242"/><circle cx="578.9" cy="439.5" r="0.6" fill="#d8707c"/><circle cx="601" cy="440.3" r="0.4" fill="#e6a0a8"/><circle cx="572.6" cy="440.5" r="0.4" fill="#e6a0a8"/><circle cx="571.8" cy="436.4" r="0.7" fill="#e6a0a8"/><circle cx="589.9" cy="443.7" r="0.5" fill="#eab8be"/><circle cx="597.3" cy="440.4" r="0.4" fill="#eab8be"/><circle cx="590.4" cy="437.2" r="0.4" fill="#a83242"/><circle cx="576.9" cy="434" r="0.7" fill="#d8707c"/><circle cx="577.7" cy="440.5" r="0.7" fill="#eab8be"/><circle cx="597.7" cy="440.8" r="0.5" fill="#d8707c"/><circle cx="595.7" cy="438.2" r="0.4" fill="#eab8be"/><circle cx="601.4" cy="448.4" r="0.4" fill="#a83242"/><circle cx="587.2" cy="439.4" r="0.5" fill="#d8707c"/><circle cx="591.7" cy="446.9" r="0.6" fill="#eab8be"/><circle cx="601.6" cy="436.5" r="0.6" fill="#a83242"/><circle cx="580.6" cy="434.6" r="0.5" fill="#e6a0a8"/><circle cx="591.9" cy="445.3" r="0.6" fill="#a83242"/><circle cx="603.7" cy="439.7" r="0.4" fill="#a83242"/><circle cx="570.6" cy="437.8" r="0.4" fill="#d8707c"/><circle cx="593.3" cy="443.1" r="0.6" fill="#c44a5a"/><circle cx="598.3" cy="443.2" r="0.6" fill="#d8707c"/><circle cx="590.5" cy="435" r="0.5" fill="#e6a0a8"/><circle cx="589.1" cy="447.1" r="0.5" fill="#e6a0a8"/><circle cx="602" cy="437.3" r="0.5" fill="#eab8be"/><circle cx="605.4" cy="442.3" r="0.7" fill="#e6a0a8"/><circle cx="604.4" cy="450.3" r="0.6" fill="#d8707c"/><circle cx="600.5" cy="448.8" r="0.4" fill="#eab8be"/><circle cx="591.3" cy="445" r="0.5" fill="#d8707c"/><circle cx="606.5" cy="439.5" r="0.4" fill="#eab8be"/><circle cx="603" cy="447.2" r="0.5" fill="#d8707c"/><circle cx="581.2" cy="444.5" r="0.4" fill="#d8707c"/><circle cx="593.4" cy="448.1" r="0.4" fill="#c44a5a"/><circle cx="598" cy="435.8" r="0.4" fill="#d8707c"/><circle cx="573.2" cy="439.2" r="0.4" fill="#e6a0a8"/><circle cx="596.8" cy="437.9" r="0.6" fill="#eab8be"/><circle cx="611.4" cy="444.8" r="0.7" fill="#d8707c"/><circle cx="588.8" cy="439.6" r="0.5" fill="#eab8be"/><circle cx="576.4" cy="441.9" r="0.7" fill="#eab8be"/><circle cx="600" cy="437.8" r="0.6" fill="#d8707c"/><circle cx="609.4" cy="440" r="0.5" fill="#d8707c"/><circle cx="613.2" cy="448.6" r="0.6" fill="#e6a0a8"/><circle cx="614" cy="446.2" r="0.4" fill="#a83242"/><circle cx="582.5" cy="434.2" r="0.7" fill="#c44a5a"/><circle cx="606.2" cy="446.5" r="0.4" fill="#e6a0a8"/><circle cx="610.8" cy="445.4" r="0.5" fill="#e6a0a8"/><circle cx="579.7" cy="441.1" r="0.5" fill="#eab8be"/><circle cx="589.7" cy="442.9" r="0.6" fill="#eab8be"/><circle cx="577.3" cy="434" r="0.7" fill="#e6a0a8"/><circle cx="588.3" cy="440.1" r="0.7" fill="#a83242"/><circle cx="574.2" cy="438" r="0.6" fill="#a83242"/><circle cx="572.4" cy="439.8" r="0.7" fill="#a83242"/><circle cx="596.3" cy="446.2" r="0.6" fill="#e6a0a8"/><circle cx="610.6" cy="446.6" r="0.4" fill="#d8707c"/><circle cx="598.9" cy="445.1" r="0.5" fill="#a83242"/><circle cx="600.7" cy="446.6" r="0.4" fill="#e6a0a8"/><circle cx="610.5" cy="446.8" r="0.5" fill="#e6a0a8"/><circle cx="599.1" cy="445.4" r="0.5" fill="#c44a5a"/><circle cx="580.1" cy="431.8" r="0.4" fill="#e6a0a8"/><circle cx="584.6" cy="436.3" r="0.5" fill="#e6a0a8"/><circle cx="604.8" cy="444.7" r="0.5" fill="#eab8be"/><circle cx="611.3" cy="445.1" r="0.4" fill="#c44a5a"/><circle cx="585.7" cy="436.3" r="0.4" fill="#c44a5a"/><circle cx="570" cy="433.9" r="0.6" fill="#eab8be"/><circle cx="598" cy="443.7" r="0.4" fill="#eab8be"/><circle cx="584.8" cy="436.6" r="0.7" fill="#a83242"/><circle cx="594.3" cy="445.1" r="0.5" fill="#e6a0a8"/><circle cx="586.5" cy="437.4" r="0.5" fill="#d8707c"/><circle cx="609.8" cy="446.2" r="0.6" fill="#eab8be"/><circle cx="579.2" cy="439.1" r="0.4" fill="#e6a0a8"/><circle cx="595.9" cy="442.2" r="0.4" fill="#a83242"/><circle cx="603.3" cy="447.6" r="0.6" fill="#d8707c"/><circle cx="601.9" cy="445.2" r="0.4" fill="#a83242"/><circle cx="596.2" cy="446.6" r="0.4" fill="#d8707c"/><circle cx="597.7" cy="441.8" r="0.6" fill="#d8707c"/><circle cx="581.2" cy="440.1" r="0.4" fill="#e6a0a8"/><circle cx="609.9" cy="442.6" r="0.6" fill="#a83242"/><circle cx="588.1" cy="433.4" r="0.5" fill="#d8707c"/><circle cx="604.5" cy="450.1" r="0.5" fill="#c44a5a"/><circle cx="580" cy="443.7" r="0.6" fill="#eab8be"/><circle cx="602.2" cy="440.4" r="0.7" fill="#eab8be"/><circle cx="610.9" cy="441.3" r="0.5" fill="#d8707c"/><circle cx="578.4" cy="434.6" r="0.7" fill="#c44a5a"/><circle cx="601.1" cy="442.7" r="0.4" fill="#d8707c"/><circle cx="608.6" cy="442.9" r="0.5" fill="#c44a5a"/><circle cx="609.2" cy="440.1" r="0.7" fill="#c44a5a"/><circle cx="584.8" cy="435.6" r="0.5" fill="#c44a5a"/><circle cx="590.6" cy="447.2" r="0.7" fill="#eab8be"/><circle cx="587.6" cy="443.6" r="0.5" fill="#c44a5a"/><circle cx="604.1" cy="441.6" r="0.4" fill="#c44a5a"/><circle cx="607.5" cy="448.9" r="0.4" fill="#a83242"/><circle cx="591.9" cy="437.8" r="0.4" fill="#d8707c"/><circle cx="584" cy="444.3" r="0.4" fill="#e6a0a8"/><circle cx="603.9" cy="446.8" r="0.7" fill="#d8707c"/><circle cx="594.2" cy="445.9" r="0.4" fill="#e6a0a8"/><circle cx="600.7" cy="438.7" r="0.6" fill="#c44a5a"/><circle cx="607.8" cy="442.5" r="0.7" fill="#eab8be"/><circle cx="586.1" cy="434.6" r="0.7" fill="#c44a5a"/><circle cx="574.8" cy="440.7" r="0.6" fill="#e6a0a8"/><circle cx="596.5" cy="445.3" r="0.4" fill="#eab8be"/><circle cx="606.4" cy="448.1" r="0.4" fill="#eab8be"/><circle cx="601.5" cy="436.8" r="0.7" fill="#d8707c"/><circle cx="593.1" cy="437.2" r="0.5" fill="#a83242"/><circle cx="590.7" cy="437.8" r="0.4" fill="#c44a5a"/><circle cx="586.9" cy="440.7" r="0.6" fill="#e6a0a8"/><circle cx="586.3" cy="435.5" r="0.5" fill="#c44a5a"/><circle cx="578.3" cy="432.1" r="0.4" fill="#e6a0a8"/><circle cx="604.2" cy="443.5" r="0.4" fill="#c44a5a"/><circle cx="599.4" cy="448.1" r="0.4" fill="#c44a5a"/><circle cx="576.7" cy="442.6" r="0.7" fill="#d8707c"/><circle cx="575.9" cy="442.3" r="0.7" fill="#eab8be"/><circle cx="579.8" cy="438.1" r="0.7" fill="#e6a0a8"/><circle cx="594.9" cy="441.7" r="0.7" fill="#a83242"/><circle cx="576" cy="441.6" r="0.5" fill="#eab8be"/><circle cx="590.5" cy="439.5" r="0.6" fill="#eab8be"/><circle cx="591.7" cy="434.6" r="0.7" fill="#eab8be"/><circle cx="593.8" cy="441.8" r="0.5" fill="#d8707c"/>
<circle cx="386.0" cy="436.0" r="1.15" fill="rgb(198,164,177)"/>
<circle cx="392.0" cy="434.0" r="1.15" fill="rgb(209,181,192)"/>
<circle cx="398.0" cy="435.0" r="1.15" fill="rgb(203,173,184)"/>
<circle cx="383.0" cy="441.0" r="1.15" fill="rgb(170,122,138)"/>
<circle cx="389.0" cy="440.0" r="1.15" fill="rgb(176,131,146)"/>
<circle cx="395.0" cy="439.0" r="1.15" fill="rgb(181,139,154)"/>
<circle cx="401.0" cy="441.0" r="1.15" fill="rgb(170,122,138)"/>
<circle cx="385.0" cy="446.0" r="1.15" fill="rgb(143,80,100)"/>
<circle cx="391.0" cy="445.0" r="1.15" fill="rgb(148,88,108)"/>
<circle cx="397.0" cy="445.0" r="1.15" fill="rgb(148,88,108)"/>
<circle cx="403.0" cy="447.0" r="1.15" fill="rgb(137,72,93)"/>
<circle cx="388.0" cy="450.0" r="1.15" fill="rgb(121,46,70)"/>
<circle cx="394.0" cy="451.0" r="1.15" fill="rgb(115,38,62)"/>
<circle cx="400.0" cy="451.0" r="1.15" fill="rgb(115,38,62)"/>
<circle cx="382.0" cy="435.5" r="1.15" fill="rgb(201,168,180)"/>
<circle cx="396.0" cy="448.0" r="1.15" fill="rgb(132,63,85)"/>
  <!-- cursor -->
  <path d="M652.5 387.5v11l2.6-2.4 1.8 4.2 1.6-.7-1.8-4.1 3.5-.1z" fill="#fff" stroke="#111" stroke-width=".8"/>
 </svg>
 <svg style="left:-228px;top:-88px" width="1269" height="605" font-family="Liberation Sans">
  <defs><marker id="ak" markerWidth="5" markerHeight="5" refX="4.5" refY="2.5" orient="auto" markerUnits="userSpaceOnUse"><path d="M0 .7L4.6 2.5L0 4.3z" fill="#222"/></marker></defs>
  <g font-weight="bold" font-size="8.6" fill="#222" text-anchor="middle">
   <text x="765.5" y="327.2" textLength="29" lengthAdjust="spacingAndGlyphs">2D grid</text>
   <text x="998.7" y="327.2" textLength="45.5" lengthAdjust="spacingAndGlyphs">Local patch</text>
  </g>
  <rect x="760" y="340.7" width="3" height="2.9" fill="rgb(190,80,80)"/><rect x="763" y="340.7" width="3" height="2.9" fill="rgb(179,45,45)"/><rect x="765.9" y="340.7" width="3" height="2.9" fill="rgb(211,23,23)"/><rect x="768.9" y="340.7" width="3" height="2.9" fill="rgb(174,72,72)"/><rect x="760" y="343.5" width="3" height="2.9" fill="rgb(204,26,26)"/><rect x="763" y="343.5" width="3" height="2.9" fill="rgb(193,57,57)"/><rect x="765.9" y="343.5" width="3" height="2.9" fill="rgb(173,78,78)"/><rect x="768.9" y="343.5" width="3" height="2.9" fill="rgb(202,33,33)"/><rect x="760" y="346.3" width="3" height="2.9" fill="rgb(172,25,25)"/><rect x="763" y="346.3" width="3" height="2.9" fill="rgb(197,46,46)"/><rect x="765.9" y="346.3" width="3" height="2.9" fill="rgb(174,35,35)"/><rect x="768.9" y="346.3" width="3" height="2.9" fill="rgb(175,55,55)"/><rect x="760" y="349.2" width="3" height="2.9" fill="rgb(197,23,23)"/><rect x="763" y="349.2" width="3" height="2.9" fill="rgb(222,56,56)"/><rect x="765.9" y="349.2" width="3" height="2.9" fill="rgb(177,80,80)"/><rect x="768.9" y="349.2" width="3" height="2.9" fill="rgb(184,60,60)"/>
  <g font-family="Liberation Serif" font-size="6" fill="#444" text-anchor="middle"><text x="765.8" y="338.6">u</text><text x="755.3" y="348.6">u</text></g>
  <g font-family="Liberation Serif" font-weight="bold" font-size="7.5" fill="#333" text-anchor="middle"><text x="835.2" y="285">q</text><text x="874.5" y="285">v</text></g>
  <g fill="none" stroke="#222" stroke-width=".8">
   <path d="M772.5 346.2h24.5" marker-end="url(#ak)"/>
   <path d="M835.2 286.5v9.5M874.3 286.5v9.5M898.5 346.2h13.5"/>
   <path d="M835.2 309v12" marker-end="url(#ak)"/>
   <path d="M874.3 309v12" marker-end="url(#ak)"/>
   <path d="M969.4 346.2h13.2" marker-end="url(#ak)"/>
  </g>
  <g fill="#fff" stroke="#111" stroke-width="1.1">
   <rect x="824" y="296" width="22.4" height="13"/>
   <rect x="863" y="296" width="22.5" height="13"/>
   <rect x="912" y="337.5" width="57.4" height="17.2"/>
  </g>
  <rect x="798.2" y="322.1" width="99.6" height="49.6" fill="#fff" stroke="#111" stroke-width="1.6"/>
  <path d="M820.3 322v49.6M851.2 322v49.6" stroke="#111" stroke-width="1.6"/>
  <g font-size="8.8" fill="#222" text-anchor="middle">
   <text x="835.2" y="305.7" textLength="15.5" lengthAdjust="spacingAndGlyphs">Tile</text>
   <text x="874.3" y="305.7" textLength="15.5" lengthAdjust="spacingAndGlyphs">Tile</text>
   <text x="940.7" y="349.3" textLength="48" lengthAdjust="spacingAndGlyphs">Shared MLP</text>
  </g>
  <g font-family="Liberation Serif" font-style="italic" font-size="7.5" fill="#999" text-anchor="middle">
   <text x="809" y="349">t × 2</text><text x="835.7" y="349">t × 3</text><text x="875" y="349">t × k</text>
  </g>
  <circle cx="1001.4" cy="350.4" r="1.3" fill="#e0b0c0"/><circle cx="984.8" cy="346.5" r="1.4" fill="#b03048"/><circle cx="997.1" cy="343.5" r="1.2" fill="#e0b0c0"/><circle cx="991" cy="350.2" r="1.1" fill="#d06070"/><circle cx="1009.7" cy="350.7" r="1" fill="#b03048"/><circle cx="987.9" cy="348.6" r="1" fill="#b03048"/><circle cx="988.6" cy="342.3" r="1.1" fill="#d06070"/><circle cx="999.1" cy="349.5" r="1" fill="#d06070"/><circle cx="992.4" cy="345.1" r="1" fill="#d06070"/><circle cx="991.4" cy="344.6" r="1.3" fill="#e0b0c0"/><circle cx="993.5" cy="344.3" r="1.3" fill="#8a2038"/><circle cx="1003.5" cy="342.6" r="1.1" fill="#d06070"/><circle cx="1006.1" cy="345.1" r="1.2" fill="#b03048"/><circle cx="996.7" cy="349.9" r="1.2" fill="#d06070"/><circle cx="987.3" cy="343.4" r="1.3" fill="#8a2038"/><circle cx="993.6" cy="345" r="1.2" fill="#8a2038"/>
 </svg>
<!--ENDSLIDE-->
</div>

<!--RIGHT-->
<div class="a" style="left:1126px;top:0;width:28px;height:602px;background:#f5f6f8"></div>
<div class="a" style="left:1126px;top:0;width:28px;height:4px;background:#d7d9dc"></div>
<div class="a" style="left:1154px;top:0;width:115px;height:605px;background:#000"></div>
<!-- sidebar icons -->
<svg style="left:1126px;top:150px" width="28" height="130" fill="none" stroke="#555" stroke-width="1.1">
 <path d="M11 7.5l2-4.5 2 4.5 4.5.6-3.3 3 1 4.6-4.2-2.4-4.2 2.4 1-4.6-3.3-3z"/><path d="M7.5 18l3-3"/>
 <path d="M6.5 41.5v-8h14v8h-5M6.5 36.5h4M9 44.5l3-3-3-3" />
 <rect x="7" y="60" width="12" height="11" rx="1"/><circle cx="17.5" cy="69.5" r="3" fill="#f5f6f8"/><path d="M9 63h5"/>
 <path d="M13 84a6 6 0 1 1 0 12 6 6 0 1 1 0-12zM13.5 87l-2 3.5h3l-2 3.5M10 98.5h6"/>
 <circle cx="11" cy="121" r="5.5"/><path d="M9.2 119.5a1.8 1.8 0 1 1 2.3 1.8v1.2M11.3 124v.3"/>
</svg>
<!-- video panel -->
<div class="a" style="left:1126px;top:3px;width:143px;height:145px;background:linear-gradient(#3a3a3a 0%,#353535 55%,#202020 100%)"></div>
<!-- avatar -->
<div class="a" style="left:1150.5px;top:27px;width:95px;height:94px;border-radius:50%;overflow:hidden;background:linear-gradient(90deg,#d6d2ca,#e4e0da 55%,#ebe8e3);box-shadow:0 0 0 1.5px #b4b4b4"><div class="a" style="left:0;top:0;width:95px;height:94px;filter:blur(.5px)">
 <div class="a" style="left:27px;top:6px;width:46px;height:46px;border-radius:50% 50% 40% 40%;background:#2a2220"></div>
 <div class="a" style="left:33px;top:15px;width:36px;height:34px;border-radius:40% 40% 48% 48%;background:#e8cabb"></div>
 <div class="a" style="left:34px;top:11px;width:34px;height:8px;border-radius:50%;background:#2e2523"></div>
 <div class="a" style="left:39px;top:25px;width:8px;height:3px;border-radius:50%;background:#5a423a"></div>
 <div class="a" style="left:56px;top:25px;width:8px;height:3px;border-radius:50%;background:#5a423a"></div>
 <div class="a" style="left:49px;top:35px;width:9px;height:6px;border-radius:50%;background:#c2606a"></div>
 <div class="a" style="left:4px;top:22px;width:40px;height:64px;border-radius:45%;background:#d9b6a2"></div>
 <div class="a" style="left:6px;top:20px;width:32px;height:32px;border-radius:50%;background:#e0bfad"></div>
 <div class="a" style="left:22px;top:35px;width:6px;height:6px;border-radius:50%;background:#a07868"></div>
 <div class="a" style="left:49px;top:43px;width:29px;height:52px;border-radius:3px;background:#f0e4e0"></div>
 <div class="a" style="left:63px;top:44px;width:12px;height:12px;border-radius:2px;background:#dcd6d4"></div>
 <div class="a" style="left:65px;top:46px;width:3.5px;height:3.5px;border-radius:50%;background:#333;box-shadow:0 5px 0 #333"></div>
 <div class="a" style="left:55px;top:62px;width:1px;height:16px;background:#9aa89a;box-shadow:14px 4px 0 #9aa89a"></div>
 <div class="a" style="left:22px;top:54px;width:20px;height:30px;border-radius:40%;background:#dab4a2"></div>
 <div class="a" style="left:76px;top:54px;width:13px;height:24px;border-radius:40%;background:#d2aa98"></div>
 <div class="a" style="left:6px;top:74px;width:22px;height:24px;border-radius:30%;background:#3f3939"></div>
</div></div>
<!-- mic + name -->
<svg style="left:1128px;top:112px" width="28" height="30">
 <rect x="8.5" y="2" width="9" height="17" rx="4.5" fill="#fff"/>
 <path d="M8.5 12h9v2.5a4.5 4.5 0 0 1-9 0z" fill="#35c56a"/>
 <path d="M4.5 13.5a8.5 8.5 0 0 0 17 0" fill="none" stroke="#fff" stroke-width="2.2"/>
 <path d="M13 22v5" stroke="#fff" stroke-width="2.2"/>
</svg>
<div class="t" style="left:1154.5px;top:117px;font-size:19.5px;color:#fff"><i>王</i><i>晨</i></div>
<!-- big mic circle -->
<div class="a" style="left:1139px;top:263px;width:88px;height:88px;border-radius:50%;background:rgba(64,64,64,.59)"></div>
<svg style="left:1139px;top:263px" width="88" height="88">
 <rect x="34.5" y="21" width="19" height="32" rx="9.5" fill="#a3a3a3"/>
 <path d="M26 46a18 18 0 0 0 36 0" fill="none" stroke="#a3a3a3" stroke-width="3.5"/>
 <path d="M44 64v8M33 72.5h22" stroke="#a3a3a3" stroke-width="3.5" stroke-linecap="round"/>
</svg>
<!-- IME bar + net widget -->
<div class="a" style="left:1040px;top:586px;width:114px;height:16px;background:#fbfbfc"></div>
<div class="a" style="left:1046px;top:560px;width:60px;height:26px;border-radius:13px 0 0 0;background:#262a30"></div>
<div class="a" style="left:1046px;top:560px;width:26px;height:26px;border-radius:13px 0 0 13px;background:#262a30"></div>
<div class="a" style="left:1093px;top:553.5px;width:43px;height:43px;border-radius:50%;background:#46505a;box-shadow:inset 0 0 0 1.5px #5a8f8f"></div>
<div class="a" style="left:1040px;top:586px;width:114px;height:16px;background:#fbfbfc"></div>
<div class="t" style="left:1055px;top:564px;font-size:8px;font-weight:bold;color:#e8e8e8">↑10.9<span style="font-size:5px;font-weight:normal;color:#aaa">K/s</span></div>
<div class="t" style="left:1062px;top:579px;font-size:7px;font-weight:bold;color:#ccc">1.8<span style="font-size:5px;color:#999">K/s</span></div>
<div class="t" style="left:1100px;top:566px;font-size:17px;color:#f0f0f0;letter-spacing:-.5px">79<span style="font-size:8px">%</span></div>
<svg style="left:1040px;top:586px" width="114" height="16" fill="none" stroke="#333" stroke-width="1.1">
 <text x="5" y="11.5" font-size="8.5" font-weight="bold" fill="#222" stroke="none" font-family="Liberation Sans">CH</text>
 <rect x="21" y="1.5" width="12" height="13" fill="#1e8fd5" stroke="none"/>
 <text x="22.5" y="11.5" font-size="8.5" fill="#fff" stroke="none" font-family="Liberation Sans">du</text>
 <path d="M40 4.5h9v6h-9zM44.5 2v12M38 10.5h13"/>
 <circle cx="59" cy="6" r="3.3"/><path d="M53.5 13.5c1-4 10-4 11 0z"/>
 <circle cx="73.5" cy="8" r="2"/><circle cx="73.5" cy="8" r="4.6" stroke-dasharray="2.2 1.4" stroke-width="1.6"/>
 <rect x="83.5" y="2.5" width="10" height="11"/><path d="M86 11l5-5M88 6h3v3"/>
 <path d="M105 5l1.5-1.5 1.5 1.5M105 11l1.5 1.5 1.5-1.5" stroke-width="1.3"/>
</svg>
<div class="a" style="left:1132px;top:563px;width:2.5px;height:2.5px;border-radius:50%;background:#888;box-shadow:4px 0 0 #888,8px 0 0 #888"></div>
</body></html>
